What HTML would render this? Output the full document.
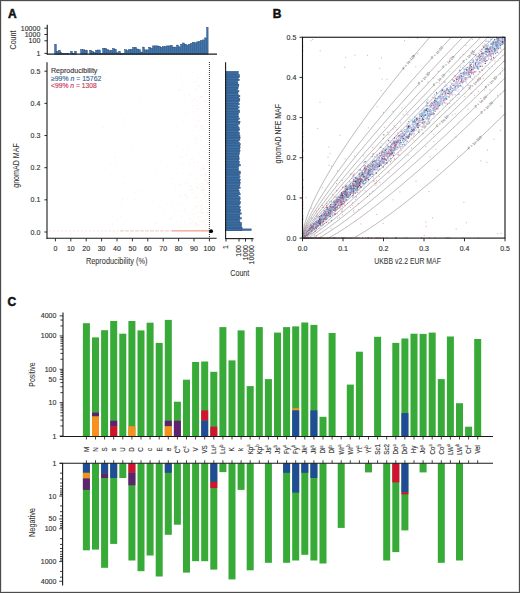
<!DOCTYPE html>
<html><head><meta charset="utf-8"><style>
html,body{margin:0;padding:0;background:#fff;}
svg{display:block;}
text{font-family:"Liberation Sans", sans-serif;}
</style></head><body>
<svg width="520" height="593" viewBox="0 0 520 593" fill="#333">
<rect width="520" height="593" fill="#fff"/>
<text x="7.9" y="17.6" font-size="12" fill="#111" stroke="#111" stroke-width="0.5" font-weight="bold" >A</text>
<text x="272.7" y="18.2" font-size="12" fill="#111" stroke="#111" stroke-width="0.5" font-weight="bold" >B</text>
<text x="7.5" y="306" font-size="12" fill="#111" stroke="#111" stroke-width="0.5" font-weight="bold" >C</text>
<g fill="#3a78b4" stroke="#1b3d6a" stroke-width="0.45">
<rect x="54.7" y="44.4" width="1.6" height="9.7"/>
<rect x="56.7" y="51.3" width="1.6" height="2.8"/>
<rect x="58.7" y="50.2" width="1.6" height="3.9"/>
<rect x="60.7" y="52.6" width="0.6" height="1.5"/>
<rect x="61.7" y="53.3" width="1.6" height="0.8"/>
<rect x="63.7" y="53.4" width="1.6" height="0.7"/>
<rect x="65.7" y="53.3" width="1.6" height="0.8"/>
<rect x="67.7" y="53.4" width="1.6" height="0.7"/>
<rect x="70.7" y="51.3" width="1.6" height="2.8"/>
<rect x="72.7" y="53.3" width="1.6" height="0.8"/>
<rect x="74.7" y="51.2" width="1.6" height="2.9"/>
<rect x="80.7" y="49.7" width="1.6" height="4.4"/>
<rect x="82.7" y="49.7" width="1.6" height="4.4"/>
<rect x="84.7" y="50.2" width="1.6" height="3.9"/>
<rect x="86.7" y="50.2" width="0.6" height="3.9"/>
<rect x="89.7" y="50.2" width="1.6" height="3.9"/>
<rect x="91.7" y="51.3" width="1.6" height="2.8"/>
<rect x="93.7" y="52.5" width="1.6" height="1.6"/>
<rect x="95.7" y="50.2" width="1.6" height="3.9"/>
<rect x="97.7" y="50" width="2.6" height="4.1"/>
<rect x="100.7" y="53.4" width="1.6" height="0.7"/>
<rect x="102.7" y="48.3" width="1.6" height="5.8"/>
<rect x="104.7" y="48.4" width="1.6" height="5.7"/>
<rect x="106.7" y="49.7" width="1.6" height="4.4"/>
<rect x="108.7" y="50.7" width="1.6" height="3.4"/>
<rect x="110.7" y="50.2" width="1.6" height="3.9"/>
<rect x="112.7" y="48.5" width="1.6" height="5.6"/>
<rect x="114.7" y="49.2" width="1.6" height="4.9"/>
<rect x="116.7" y="52.8" width="1.6" height="1.3"/>
<rect x="118.7" y="51.3" width="1.6" height="2.8"/>
<rect x="120.7" y="53.4" width="1.6" height="0.7"/>
<rect x="122.7" y="53.4" width="1.6" height="0.7"/>
<rect x="124.7" y="49.7" width="1.6" height="4.4"/>
<rect x="126.7" y="50.7" width="1.6" height="3.4"/>
<rect x="128.7" y="49.7" width="1.6" height="4.4"/>
<rect x="130.7" y="49.2" width="1.6" height="4.9"/>
<rect x="132.7" y="47.6" width="1.6" height="6.5"/>
<rect x="134.7" y="47.3" width="1.6" height="6.8"/>
<rect x="136.7" y="49" width="1.6" height="5.1"/>
<rect x="138.7" y="49.7" width="1.6" height="4.4"/>
<rect x="140.7" y="52" width="1.6" height="2.1"/>
<rect x="142.7" y="47.1" width="1.6" height="7"/>
<rect x="144.7" y="49.9" width="1.6" height="4.2"/>
<rect x="146.7" y="49.9" width="1.6" height="4.2"/>
<rect x="148.7" y="47.3" width="1.6" height="6.8"/>
<rect x="150.7" y="48.1" width="1.6" height="6"/>
<rect x="152.7" y="45.9" width="1.6" height="8.2"/>
<rect x="154.7" y="45.9" width="1.6" height="8.2"/>
<rect x="156.7" y="45.9" width="1.6" height="8.2"/>
<rect x="158.7" y="46.3" width="1.6" height="7.8"/>
<rect x="160.7" y="47.3" width="1.6" height="6.8"/>
<rect x="162.7" y="46.5" width="1.6" height="7.6"/>
<rect x="164.7" y="46.5" width="1.6" height="7.6"/>
<rect x="166.7" y="45.9" width="1.6" height="8.2"/>
<rect x="168.7" y="45.9" width="1.6" height="8.2"/>
<rect x="170.7" y="45.4" width="1.6" height="8.7"/>
<rect x="172.7" y="47.1" width="1.6" height="7"/>
<rect x="174.7" y="47.1" width="1.6" height="7"/>
<rect x="176.7" y="45.1" width="1.6" height="9"/>
<rect x="178.7" y="46.8" width="1.6" height="7.3"/>
<rect x="180.7" y="44.2" width="1.6" height="9.9"/>
<rect x="182.7" y="43" width="1.6" height="11.1"/>
<rect x="184.7" y="44.3" width="1.6" height="9.8"/>
<rect x="186.7" y="45.1" width="1.6" height="9"/>
<rect x="188.7" y="44.3" width="1.6" height="9.8"/>
<rect x="190.7" y="43.4" width="1.6" height="10.7"/>
<rect x="192.7" y="42.2" width="1.6" height="11.9"/>
<rect x="194.7" y="42.8" width="1.6" height="11.3"/>
<rect x="196.7" y="41.9" width="1.6" height="12.2"/>
<rect x="198.7" y="41.4" width="1.6" height="12.7"/>
<rect x="200.7" y="40.5" width="1.6" height="13.6"/>
<rect x="202.7" y="39.9" width="1.6" height="14.2"/>
<rect x="204.7" y="37.9" width="1.6" height="16.2"/>
<rect x="206.7" y="27.4" width="1.4" height="26.7"/>
</g>
<line x1="47.25" y1="24.8" x2="47.25" y2="54.6" stroke="#1a1a1a" stroke-width="1.1" />
<line x1="46.8" y1="54.1" x2="217" y2="54.1" stroke="#1a1a1a" stroke-width="1.1" />
<line x1="44.4" y1="28.2" x2="47.25" y2="28.2" stroke="#1a1a1a" stroke-width="0.9" />
<text x="40.3" y="30.5" font-size="7" text-anchor="end" stroke="#333" stroke-width="0.14" >10000</text>
<line x1="44.4" y1="34.5" x2="47.25" y2="34.5" stroke="#1a1a1a" stroke-width="0.9" />
<text x="40.3" y="36.8" font-size="7" text-anchor="end" stroke="#333" stroke-width="0.14" >1000</text>
<line x1="44.4" y1="40.8" x2="47.25" y2="40.8" stroke="#1a1a1a" stroke-width="0.9" />
<text x="40.3" y="43.1" font-size="7" text-anchor="end" stroke="#333" stroke-width="0.14" >100</text>
<line x1="44.4" y1="53.4" x2="47.25" y2="53.4" stroke="#1a1a1a" stroke-width="0.9" />
<text x="40.3" y="55.7" font-size="7" text-anchor="end" stroke="#333" stroke-width="0.14" >1</text>
<text x="15.8" y="40" font-size="8.5" text-anchor="middle" stroke="#333" stroke-width="0.08" textLength="19" lengthAdjust="spacingAndGlyphs" transform="rotate(-90 15.8 40)" >Count</text>
<path d="M205.9 220.4h0M202.3 222.7h0M111.4 163.7h0M125.7 131.1h0M197.1 224.5h0M117.2 220.5h0M201.4 216.5h0M123.8 122.6h0M202.2 183.8h0M192.5 192.7h0M181.5 185.7h0M146.7 219.3h0M209.1 109.1h0M200.9 136.4h0M200.9 96.9h0M177.2 127.9h0M206.1 227.3h0M206.8 160.2h0M128.3 169.1h0M196.2 90h0M202.1 187.2h0M191.2 159.5h0M208.3 199.4h0M195 140.9h0M209 149.1h0M207.3 106.6h0M205.3 181.2h0M108.9 224.1h0M117.9 141.5h0M204.9 207.4h0M193.1 72.3h0M138.5 189.4h0M104.1 79.1h0M158.5 74.7h0M195.6 193.5h0M188.7 218.1h0M184.4 94.9h0M157.4 164.8h0M176.3 78.2h0M207.4 73.1h0M122.8 199.1h0M202 96.9h0M172.8 85.7h0M189 222.1h0M197.3 143.2h0M189.9 175.2h0M185 208.5h0M189.3 223.9h0M172.7 147.3h0M206.1 91.8h0M127.5 198.7h0M203 175.1h0M205.8 86.6h0M195.2 205.7h0M187.8 204.3h0M206.2 175.1h0M207.4 214.9h0M209.3 150.4h0M198.2 85.3h0M196.9 120.6h0M198.7 155.1h0M200.5 190.3h0M182.5 196.9h0M127.5 220.2h0M178.8 138.2h0M204.3 168h0M185 182.7h0M202.4 230.4h0M206.7 201.1h0M192.5 221.7h0M130.2 225.6h0M115.6 164.1h0M200.7 140.2h0M107.8 121.3h0M180 185.3h0M206.2 218.9h0M115.5 198.3h0M123.4 215h0M208.7 194.8h0M180.6 228.1h0M189.9 162.5h0M204.3 168.8h0M194.4 98.2h0M173 209.6h0M181.5 157.5h0M195.9 230.2h0M197.9 206.7h0M206.5 117.4h0M197.7 223.7h0M156 223.6h0M104 207.7h0M194.8 126.3h0M200.7 206.5h0M208.6 183.5h0M184.3 114h0M198.6 97.7h0M196.4 138.1h0M105 168.8h0M188.6 131.1h0M193.3 209.9h0M187.4 145.9h0M109.6 189.3h0M181.4 75.1h0M197.7 108.7h0M198.8 230.2h0M186.6 198.9h0M205.3 120.7h0M205.2 179.5h0M202.1 213.4h0M184.6 210.7h0M164.3 209.2h0M177 210.7h0M180.5 194.8h0M207.8 182.8h0M208.6 197.2h0M182.5 168.3h0M199.6 102.9h0M177.7 174h0M191.6 186.1h0M130.2 153.2h0M184.6 101.4h0M181.2 176.6h0M207.7 183h0M152.5 200.8h0M172.3 183.6h0M171.6 206.4h0M180.3 196.6h0M122.3 230.9h0M163 89.3h0M203.9 165.4h0M131.5 203.4h0M189.9 230.6h0M209.3 78.6h0M195.4 207.9h0M180.9 152h0M189.4 94.4h0M157.9 122.3h0M202.7 127.9h0M185.9 194.6h0M204.7 231.3h0M189.7 173.2h0M206.6 196h0M197.7 77.8h0M208.6 229.9h0M174.2 164.5h0M209.2 190.6h0M138 164.4h0M187.5 113.1h0M199.2 117.5h0M204.2 157.1h0M207 185.9h0M201.9 212.7h0M196.5 89.9h0M204.3 190.4h0M179.5 226.9h0M199.7 201.9h0M207 212.1h0M140 99.9h0M205.4 172.1h0M140.9 162.3h0M195.9 138.5h0M182.2 216.2h0M174.9 189.8h0M183.1 84.6h0M199.2 120.5h0M204 184.5h0M202.5 202.6h0M207.5 148.5h0M203.8 193.3h0M105.3 198.1h0M180.9 220.4h0M196 201.9h0M192.7 111.7h0M199.8 212.5h0M204.5 175.9h0M196.9 198.2h0M175 194.8h0M183.1 149.8h0M205.4 225.9h0M206.5 138.2h0M190.1 190.2h0M189.4 215h0M202.3 210.4h0M208.8 171.1h0M135.3 199.3h0M190.9 187h0M198.7 216.4h0M134.8 193.3h0M204.1 93h0M203.4 209.5h0M197.5 166.7h0M201 170.9h0M203.1 217.7h0M132.1 148.2h0M154.5 102.6h0M207.1 75.1h0M201.4 169.6h0M186.3 196.3h0M191.7 223h0M195.7 230.7h0M187.1 225.4h0M209.2 213.1h0M205.5 179.8h0M200.6 126.1h0M206.6 228.3h0M207.3 203.1h0M115.4 181.7h0M170.2 218.8h0M155.9 171.2h0M194 71.8h0M205.8 152.9h0M201.1 205.5h0M204.8 225h0M200.6 208.9h0M202.7 192.6h0M121.2 206.1h0M186.2 213.5h0M182.8 174.1h0M192.2 215.2h0M203.2 168.6h0M205.5 174.1h0M167.3 203.6h0M170.5 73.8h0M201.7 207h0M207.7 162.5h0M172 217.4h0M205.4 195.9h0M204.2 199.2h0M202 228.2h0M193.1 106.2h0M102.8 128.3h0M197.6 81.3h0M199 224.9h0M185.6 230h0M203.7 190.3h0M199 218.1h0M197.5 106.1h0M182.7 157.2h0M208.3 230.6h0M205.5 111.5h0M161.3 161.9h0M191.3 189.3h0M199.9 225.2h0M207.4 158h0M199.4 130.6h0M200.9 74.6h0M197.9 161.7h0M191.3 219h0M205.5 150.9h0M189.6 165.2h0M203.9 119.9h0M192.4 100.5h0M202 221.4h0M123.8 176.6h0M194.8 99.3h0M112.4 216.3h0M206 194.1h0M204.9 180.4h0M187.9 95.1h0M195.4 223h0M194.5 217.4h0M101.7 199.5h0M208.1 153h0M154.9 176.2h0M124.7 119.5h0M170.2 219h0M201.5 174.8h0M186.4 224.2h0M130 87.1h0M151.3 146.5h0M189.6 219.9h0M202.3 125.5h0M202.2 189.7h0M122.3 183.5h0M202.6 231.4h0M197.1 186.4h0M174.4 215.6h0M198.4 104.2h0M201.3 200.5h0M202 213h0M204 130.3h0M166.7 166.9h0M197.1 111.5h0M179.5 90.5h0M201 128.8h0M183.6 163.2h0M197.7 188h0M202.3 166.2h0M201.4 219.8h0M160.2 206.1h0M207 181.9h0M201.6 149.6h0M201.4 183.9h0M203.9 212.3h0M196.7 226h0M208.1 164.4h0M181.5 80.9h0M188 178.4h0M192 130h0M200.2 175.2h0M205.6 100.8h0M191.5 175h0M142.1 191.2h0M209 229h0M204.3 129.5h0M194.4 82.7h0M185.1 202.4h0M102.8 79h0M112.5 225.2h0M199.1 184.2h0M197.4 124.5h0M176.3 146.6h0M183.7 90.1h0M154.8 222.6h0M154.6 151.9h0M208.4 156.8h0M208.2 132.1h0M170.3 179.4h0M196 178.9h0M193.5 226.5h0M208.3 177.6h0M198.9 193.9h0M196.1 213.3h0M202.8 188.3h0M197 126.7h0M164.8 129.9h0M179.5 89.6h0M122.1 83.8h0M205.8 105.1h0M194.7 120h0M197 197.8h0M121.1 226.1h0M203.3 197.1h0M187.5 197.2h0M203.7 128.8h0M114.4 101.7h0M203.4 186.2h0M197.3 74.3h0M203.9 221.1h0M208 212.4h0M195.3 225.6h0M199.3 221.3h0M187.7 183.1h0M193.6 162.2h0M103.2 127.4h0M198.9 205.3h0M203.7 188.9h0M202.6 208.7h0M196.4 182.9h0M201.9 126.4h0M174.6 186.8h0M179.4 155.5h0M183.3 121.9h0M196.8 196.8h0M209.3 137.7h0M206.3 101.5h0M206.8 188h0M202 167.9h0M182.5 205.4h0M193.1 189.8h0M209.2 217.9h0M184.9 194.6h0M186.4 155.4h0M122.3 202.9h0M197.8 187.9h0M163.8 214.9h0M196.3 206.9h0M105.2 72.7h0M195.5 223.3h0M195 108.6h0M123.3 224.2h0M192.6 158.3h0M203.8 221.7h0M203.8 190.6h0M205.2 78.2h0M205.7 201.4h0M199.1 86.8h0M206.8 224.4h0M204.4 169.1h0M208.4 184h0M176.6 231h0M202.3 189.9h0M178.9 203.4h0M205.1 92.6h0M201.7 96.6h0M197.8 177.4h0M125.5 222.9h0M206.7 208.7h0M130.8 185.9h0M201.4 186.5h0M204.7 229.9h0M123.3 173.4h0M207.8 208.5h0M179.9 184.8h0M184.4 223.8h0M148.5 184.1h0M184.7 221.4h0M204.2 222.8h0M204.2 101.5h0M108.7 114.2h0M208.6 178.1h0M204.8 188.7h0M201 210.9h0M141.6 183.5h0M207.5 212.6h0M198.1 149.6h0M209.4 78.6h0M204.5 146.7h0M121.3 216.7h0M176.9 221.8h0M194.7 197.5h0M114.9 152.6h0M114.8 157h0M163.4 183.3h0M180.4 164.4h0M195.7 224.8h0M208.6 74.2h0M196.9 100.9h0M193.6 214.1h0M192.1 202.1h0" stroke="#f08a78" stroke-width="0.8" stroke-linecap="square" stroke-opacity="0.16" fill="none"/>
<g>
<line x1="48.5" y1="230.9" x2="120" y2="230.9" stroke="#e8a090" stroke-width="0.9" stroke-opacity="0.3" stroke-dasharray="2.5,1.5"/>
<line x1="120" y1="230.9" x2="172" y2="230.9" stroke="#ec8a74" stroke-width="0.9" stroke-opacity="0.55" stroke-dasharray="4,1"/>
<line x1="172" y1="230.9" x2="209" y2="230.9" stroke="#ec6f57" stroke-width="1" stroke-opacity="0.85"/>
</g>
<line x1="209.4" y1="62" x2="209.4" y2="238" stroke="#222" stroke-width="0.9" stroke-dasharray="1,1"/>
<circle cx="211.1" cy="231.2" r="1.9" fill="#000"/>
<line x1="47" y1="62.3" x2="47" y2="238.8" stroke="#1a1a1a" stroke-width="1.1" />
<line x1="46.5" y1="238.3" x2="216.6" y2="238.3" stroke="#1a1a1a" stroke-width="1.1" />
<line x1="44.4" y1="232" x2="47" y2="232" stroke="#1a1a1a" stroke-width="0.9" />
<text x="40.3" y="234.5" font-size="7" text-anchor="end" stroke="#333" stroke-width="0.14" >0.0</text>
<line x1="44.4" y1="199.84" x2="47" y2="199.84" stroke="#1a1a1a" stroke-width="0.9" />
<text x="40.3" y="202.34" font-size="7" text-anchor="end" stroke="#333" stroke-width="0.14" >0.1</text>
<line x1="44.4" y1="167.68" x2="47" y2="167.68" stroke="#1a1a1a" stroke-width="0.9" />
<text x="40.3" y="170.18" font-size="7" text-anchor="end" stroke="#333" stroke-width="0.14" >0.2</text>
<line x1="44.4" y1="135.52" x2="47" y2="135.52" stroke="#1a1a1a" stroke-width="0.9" />
<text x="40.3" y="138.02" font-size="7" text-anchor="end" stroke="#333" stroke-width="0.14" >0.3</text>
<line x1="44.4" y1="103.36" x2="47" y2="103.36" stroke="#1a1a1a" stroke-width="0.9" />
<text x="40.3" y="105.86" font-size="7" text-anchor="end" stroke="#333" stroke-width="0.14" >0.4</text>
<line x1="44.4" y1="71.2" x2="47" y2="71.2" stroke="#1a1a1a" stroke-width="0.9" />
<text x="40.3" y="73.7" font-size="7" text-anchor="end" stroke="#333" stroke-width="0.14" >0.5</text>
<line x1="55.4" y1="238.3" x2="55.4" y2="241.4" stroke="#1a1a1a" stroke-width="0.9" />
<text x="55.4" y="251.2" font-size="7" text-anchor="middle" stroke="#333" stroke-width="0.14" >0</text>
<line x1="70.8" y1="238.3" x2="70.8" y2="241.4" stroke="#1a1a1a" stroke-width="0.9" />
<text x="70.8" y="251.2" font-size="7" text-anchor="middle" stroke="#333" stroke-width="0.14" >10</text>
<line x1="86.2" y1="238.3" x2="86.2" y2="241.4" stroke="#1a1a1a" stroke-width="0.9" />
<text x="86.2" y="251.2" font-size="7" text-anchor="middle" stroke="#333" stroke-width="0.14" >20</text>
<line x1="101.6" y1="238.3" x2="101.6" y2="241.4" stroke="#1a1a1a" stroke-width="0.9" />
<text x="101.6" y="251.2" font-size="7" text-anchor="middle" stroke="#333" stroke-width="0.14" >30</text>
<line x1="117" y1="238.3" x2="117" y2="241.4" stroke="#1a1a1a" stroke-width="0.9" />
<text x="117" y="251.2" font-size="7" text-anchor="middle" stroke="#333" stroke-width="0.14" >40</text>
<line x1="132.4" y1="238.3" x2="132.4" y2="241.4" stroke="#1a1a1a" stroke-width="0.9" />
<text x="132.4" y="251.2" font-size="7" text-anchor="middle" stroke="#333" stroke-width="0.14" >50</text>
<line x1="147.8" y1="238.3" x2="147.8" y2="241.4" stroke="#1a1a1a" stroke-width="0.9" />
<text x="147.8" y="251.2" font-size="7" text-anchor="middle" stroke="#333" stroke-width="0.14" >60</text>
<line x1="163.2" y1="238.3" x2="163.2" y2="241.4" stroke="#1a1a1a" stroke-width="0.9" />
<text x="163.2" y="251.2" font-size="7" text-anchor="middle" stroke="#333" stroke-width="0.14" >70</text>
<line x1="178.6" y1="238.3" x2="178.6" y2="241.4" stroke="#1a1a1a" stroke-width="0.9" />
<text x="178.6" y="251.2" font-size="7" text-anchor="middle" stroke="#333" stroke-width="0.14" >80</text>
<line x1="194" y1="238.3" x2="194" y2="241.4" stroke="#1a1a1a" stroke-width="0.9" />
<text x="194" y="251.2" font-size="7" text-anchor="middle" stroke="#333" stroke-width="0.14" >90</text>
<line x1="209.4" y1="238.3" x2="209.4" y2="241.4" stroke="#1a1a1a" stroke-width="0.9" />
<text x="209.4" y="251.2" font-size="7" text-anchor="middle" stroke="#333" stroke-width="0.14" >100</text>
<text x="85.9" y="263.5" font-size="8.7" stroke="#333" stroke-width="0.05" textLength="61.6" lengthAdjust="spacingAndGlyphs" >Reproducibility (%)</text>
<text x="18.9" y="165.5" font-size="8.6" text-anchor="middle" stroke="#333" stroke-width="0.05" textLength="44.6" lengthAdjust="spacingAndGlyphs" transform="rotate(-90 18.9 165.5)" >gnomAD MAF</text>
<text x="51" y="73.4" font-size="7" fill="#3a3a3a" stroke="#3a3a3a" stroke-width="0.14" textLength="46.4" lengthAdjust="spacingAndGlyphs" >Reproducibility</text>
<text x="51" y="80.8" font-size="7" fill="#356594" stroke="#356594" stroke-width="0.14" textLength="50.4" lengthAdjust="spacingAndGlyphs">&#8805;99% <tspan font-style="italic">n</tspan> = 15762</text>
<text x="51" y="88.2" font-size="7" fill="#c7365a" stroke="#c7365a" stroke-width="0.14" textLength="45.8" lengthAdjust="spacingAndGlyphs">&lt;99% <tspan font-style="italic">n</tspan> = 1308</text>
<g fill="#3a78b4" stroke="#1b3d6a" stroke-width="0.45">
<rect x="225.6" y="228.9" width="25.7" height="1.6"/>
<rect x="225.6" y="228.88" width="16.32" height="1.41"/>
<rect x="225.6" y="227.28" width="16.57" height="1.41"/>
<rect x="225.6" y="225.67" width="15.82" height="1.41"/>
<rect x="225.6" y="224.06" width="16.02" height="1.41"/>
<rect x="225.6" y="222.45" width="15.81" height="1.41"/>
<rect x="225.6" y="220.84" width="14.35" height="1.41"/>
<rect x="225.6" y="219.24" width="14.04" height="1.41"/>
<rect x="225.6" y="217.63" width="15.69" height="1.41"/>
<rect x="225.6" y="216.02" width="14.28" height="1.41"/>
<rect x="225.6" y="214.41" width="14.1" height="1.41"/>
<rect x="225.6" y="212.8" width="15.67" height="1.41"/>
<rect x="225.6" y="211.2" width="14.42" height="1.41"/>
<rect x="225.6" y="209.59" width="15.15" height="1.41"/>
<rect x="225.6" y="207.98" width="14.29" height="1.41"/>
<rect x="225.6" y="206.37" width="14.59" height="1.41"/>
<rect x="225.6" y="204.76" width="13.46" height="1.41"/>
<rect x="225.6" y="203.16" width="14.48" height="1.41"/>
<rect x="225.6" y="201.55" width="14.95" height="1.41"/>
<rect x="225.6" y="199.94" width="14.16" height="1.41"/>
<rect x="225.6" y="198.33" width="14.6" height="1.41"/>
<rect x="225.6" y="196.72" width="14.42" height="1.41"/>
<rect x="225.6" y="195.12" width="13.06" height="1.41"/>
<rect x="225.6" y="193.51" width="14.56" height="1.41"/>
<rect x="225.6" y="191.9" width="14.17" height="1.41"/>
<rect x="225.6" y="190.29" width="13.51" height="1.41"/>
<rect x="225.6" y="188.68" width="12.9" height="1.41"/>
<rect x="225.6" y="187.08" width="14.71" height="1.41"/>
<rect x="225.6" y="185.47" width="13.83" height="1.41"/>
<rect x="225.6" y="183.86" width="14.36" height="1.41"/>
<rect x="225.6" y="182.25" width="14.69" height="1.41"/>
<rect x="225.6" y="180.64" width="14.31" height="1.41"/>
<rect x="225.6" y="179.04" width="14.75" height="1.41"/>
<rect x="225.6" y="177.43" width="13.58" height="1.41"/>
<rect x="225.6" y="175.82" width="14.46" height="1.41"/>
<rect x="225.6" y="174.21" width="13.66" height="1.41"/>
<rect x="225.6" y="172.6" width="14.73" height="1.41"/>
<rect x="225.6" y="171" width="14.59" height="1.41"/>
<rect x="225.6" y="169.39" width="12.86" height="1.41"/>
<rect x="225.6" y="167.78" width="12.93" height="1.41"/>
<rect x="225.6" y="166.17" width="13.1" height="1.41"/>
<rect x="225.6" y="164.56" width="14.73" height="1.41"/>
<rect x="225.6" y="162.96" width="13.55" height="1.41"/>
<rect x="225.6" y="161.35" width="13.96" height="1.41"/>
<rect x="225.6" y="159.74" width="13.23" height="1.41"/>
<rect x="225.6" y="158.13" width="13.67" height="1.41"/>
<rect x="225.6" y="156.52" width="13.39" height="1.41"/>
<rect x="225.6" y="154.92" width="13.3" height="1.41"/>
<rect x="225.6" y="153.31" width="13.81" height="1.41"/>
<rect x="225.6" y="151.7" width="13.79" height="1.41"/>
<rect x="225.6" y="150.09" width="14.48" height="1.41"/>
<rect x="225.6" y="148.48" width="13.98" height="1.41"/>
<rect x="225.6" y="146.88" width="14.51" height="1.41"/>
<rect x="225.6" y="145.27" width="14.34" height="1.41"/>
<rect x="225.6" y="143.66" width="14.63" height="1.41"/>
<rect x="225.6" y="142.05" width="13.91" height="1.41"/>
<rect x="225.6" y="140.44" width="12.78" height="1.41"/>
<rect x="225.6" y="138.84" width="14.3" height="1.41"/>
<rect x="225.6" y="137.23" width="14.52" height="1.41"/>
<rect x="225.6" y="135.62" width="14.38" height="1.41"/>
<rect x="225.6" y="134.01" width="13.62" height="1.41"/>
<rect x="225.6" y="132.4" width="13.93" height="1.41"/>
<rect x="225.6" y="130.8" width="12.81" height="1.41"/>
<rect x="225.6" y="129.19" width="14.17" height="1.41"/>
<rect x="225.6" y="127.58" width="13.59" height="1.41"/>
<rect x="225.6" y="125.97" width="12.94" height="1.41"/>
<rect x="225.6" y="124.36" width="12.44" height="1.41"/>
<rect x="225.6" y="122.76" width="14.17" height="1.41"/>
<rect x="225.6" y="121.15" width="14.45" height="1.41"/>
<rect x="225.6" y="119.54" width="12.46" height="1.41"/>
<rect x="225.6" y="117.93" width="14.01" height="1.41"/>
<rect x="225.6" y="116.32" width="13.14" height="1.41"/>
<rect x="225.6" y="114.72" width="12.56" height="1.41"/>
<rect x="225.6" y="113.11" width="12.86" height="1.41"/>
<rect x="225.6" y="111.5" width="13.89" height="1.41"/>
<rect x="225.6" y="109.89" width="14.11" height="1.41"/>
<rect x="225.6" y="108.28" width="12.28" height="1.41"/>
<rect x="225.6" y="106.68" width="13.52" height="1.41"/>
<rect x="225.6" y="105.07" width="12.25" height="1.41"/>
<rect x="225.6" y="103.46" width="13.72" height="1.41"/>
<rect x="225.6" y="101.85" width="12.86" height="1.41"/>
<rect x="225.6" y="100.24" width="14.06" height="1.41"/>
<rect x="225.6" y="98.64" width="14.26" height="1.41"/>
<rect x="225.6" y="97.03" width="13.21" height="1.41"/>
<rect x="225.6" y="95.42" width="14.28" height="1.41"/>
<rect x="225.6" y="93.81" width="12.75" height="1.41"/>
<rect x="225.6" y="92.2" width="12.23" height="1.41"/>
<rect x="225.6" y="90.6" width="13.36" height="1.41"/>
<rect x="225.6" y="88.99" width="12.1" height="1.41"/>
<rect x="225.6" y="87.38" width="12.46" height="1.41"/>
<rect x="225.6" y="85.77" width="12.91" height="1.41"/>
<rect x="225.6" y="84.16" width="13.34" height="1.41"/>
<rect x="225.6" y="82.56" width="12.33" height="1.41"/>
<rect x="225.6" y="80.95" width="12.07" height="1.41"/>
<rect x="225.6" y="79.34" width="13.87" height="1.41"/>
<rect x="225.6" y="77.73" width="12.64" height="1.41"/>
<rect x="225.6" y="76.12" width="14.05" height="1.41"/>
<rect x="225.6" y="74.52" width="13.9" height="1.41"/>
<rect x="225.6" y="72.91" width="12.74" height="1.41"/>
<rect x="225.6" y="71.3" width="12.91" height="1.41"/>
</g>
<line x1="225.6" y1="62.3" x2="225.6" y2="239" stroke="#1a1a1a" stroke-width="1.1" />
<line x1="225.1" y1="238.6" x2="253.6" y2="238.6" stroke="#1a1a1a" stroke-width="1.1" />
<line x1="226" y1="238.6" x2="226" y2="241.6" stroke="#1a1a1a" stroke-width="0.9" />
<text x="228.4" y="245" font-size="7" text-anchor="end" stroke="#333" stroke-width="0.14" transform="rotate(-90 228.4 245)" >1</text>
<line x1="239" y1="238.6" x2="239" y2="241.6" stroke="#1a1a1a" stroke-width="0.9" />
<text x="241.4" y="245" font-size="7" text-anchor="end" stroke="#333" stroke-width="0.14" transform="rotate(-90 241.4 245)" >100</text>
<line x1="245.5" y1="238.6" x2="245.5" y2="241.6" stroke="#1a1a1a" stroke-width="0.9" />
<text x="247.9" y="245" font-size="7" text-anchor="end" stroke="#333" stroke-width="0.14" transform="rotate(-90 247.9 245)" >1000</text>
<line x1="252" y1="238.6" x2="252" y2="241.6" stroke="#1a1a1a" stroke-width="0.9" />
<text x="254.4" y="245" font-size="7" text-anchor="end" stroke="#333" stroke-width="0.14" transform="rotate(-90 254.4 245)" >10000</text>
<text x="230.3" y="275.8" font-size="8.5" stroke="#333" stroke-width="0.08" textLength="19" lengthAdjust="spacingAndGlyphs" >Count</text>
<g fill="none" stroke="#777" stroke-width="0.55">
<polyline points="302.5,238.1 302.51,237.14 302.54,236.42 302.58,235.75 302.63,235.12 302.68,234.51 302.74,233.91 302.81,233.33 302.89,232.75 302.97,232.18 303.05,231.61 303.14,231.05 303.24,230.5 303.34,229.94 303.45,229.39 303.56,228.84 303.67,228.3 303.79,227.75 303.92,227.2 304.05,226.66 304.18,226.11 304.31,225.57 304.45,225.03 304.6,224.48 304.75,223.94 304.9,223.39 305.05,222.85 305.21,222.31 305.37,221.76 305.54,221.21 305.71,220.67 305.88,220.12 306.06,219.57 306.24,219.02 306.42,218.47 306.61,217.92 306.8,217.37 306.99,216.82 307.19,216.27 307.38,215.72 307.59,215.16 307.79,214.61 308,214.05 308.21,213.49 308.42,212.93 308.64,212.37 308.86,211.81 309.08,211.25 309.31,210.69 309.54,210.12 309.77,209.56 310,208.99 310.24,208.42 310.48,207.86 310.72,207.29 310.97,206.71 311.21,206.14 311.46,205.57 311.72,204.99 311.97,204.42 312.23,203.84 312.49,203.26 312.76,202.68 313.02,202.1 313.29,201.52 313.56,200.94 313.83,200.36 314.11,199.77 314.39,199.19 314.67,198.6 314.95,198.01 315.24,197.42 315.53,196.83 315.82,196.24 316.11,195.64 316.41,195.05 316.7,194.45 317,193.85 317.31,193.26 317.61,192.66 317.92,192.06 318.23,191.45 318.54,190.85 318.86,190.25 319.17,189.64 319.49,189.04 319.81,188.43 320.13,187.82 320.46,187.21 320.79,186.6 321.12,185.99 321.45,185.37 321.78,184.76 322.12,184.14 322.46,183.52 322.8,182.91 323.14,182.29 323.49,181.67 323.83,181.04 324.18,180.42 324.54,179.8 324.89,179.17 325.25,178.55 325.6,177.92 325.96,177.29 326.32,176.66 326.69,176.03 327.06,175.4 327.42,174.77 327.79,174.13 328.17,173.5 328.54,172.86 328.92,172.22 329.3,171.58 329.68,170.94 330.06,170.3 330.44,169.66 330.83,169.02 331.22,168.38 331.61,167.73 332,167.08 332.39,166.44 332.79,165.79 333.19,165.14 333.59,164.49 333.99,163.84 334.39,163.19 334.8,162.53 335.21,161.88 335.62,161.22 336.03,160.56 336.44,159.91 336.86,159.25 337.28,158.59 337.7,157.93 338.12,157.27 338.54,156.6 338.97,155.94 339.39,155.27 339.82,154.61 340.25,153.94 340.68,153.27 341.12,152.6 341.55,151.93 341.99,151.26 342.43,150.59 342.87,149.92 343.32,149.24 343.76,148.57 344.21,147.89 344.66,147.22 345.11,146.54 345.56,145.86 346.01,145.18 346.47,144.5 346.93,143.82 347.39,143.14 347.85,142.45 348.31,141.77 348.78,141.08 349.24,140.4 349.71,139.71 350.18,139.02 350.65,138.33 351.13,137.64 351.6,136.95 352.08,136.26 352.56,135.57 353.04,134.87 353.52,134.18 354,133.48 354.49,132.79 354.98,132.09 355.47,131.39 355.96,130.69 356.45,129.99 356.94,129.29 357.44,128.59 357.94,127.89 358.44,127.18 358.94,126.48 359.44,125.77 359.94,125.07 360.45,124.36 360.96,123.65 361.47,122.94 361.98,122.23 362.49,121.52 363,120.81 363.52,120.1 364.04,119.39 364.56,118.67 365.08,117.96 365.6,117.24 366.12,116.53 366.65,115.81 367.18,115.09 367.7,114.37 368.23,113.65 368.77,112.93 369.3,112.21 369.84,111.49 370.37,110.77 370.91,110.04 371.45,109.32 371.99,108.59 372.54,107.87 373.08,107.14 373.63,106.41 374.17,105.69 374.72,104.96 375.27,104.23 375.83,103.5 376.38,102.77 376.94,102.03 377.49,101.3 378.05,100.57 378.61,99.83 379.18,99.1 379.74,98.36 380.3,97.63 380.87,96.89 381.44,96.15 382.01,95.41 382.58,94.68 383.15,93.94 383.73,93.19 384.3,92.45 384.88,91.71 385.46,90.97 386.04,90.23 386.62,89.48 387.21,88.74 387.79,87.99 388.38,87.24 388.96,86.5 389.55,85.75 390.14,85 390.74,84.25 391.33,83.5 391.93,82.75 392.52,82 393.12,81.25 393.72,80.5 394.32,79.75 394.93,78.99 395.53,78.24 396.14,77.48 396.74,76.73 397.35,75.97 397.96,75.22 398.57,74.46 399.19,73.7 399.8,72.94 400.42,72.18 401.04,71.42 401.65,70.66 402.28,69.9 402.9,69.14 403.52,68.38 404.15,67.62 404.77,66.85 405.4,66.09 406.03,65.32 406.66,64.56 407.29,63.79 407.92,63.03 408.56,62.26 409.2,61.49 409.83,60.73 410.47,59.96 411.11,59.19 411.75,58.42 412.4,57.65 413.04,56.88 413.69,56.11 414.34,55.34 414.99,54.56 415.64,53.79 416.29,53.02 416.94,52.25 417.6,51.47 418.25,50.7 418.91,49.92 419.57,49.15 420.23,48.37 420.89,47.59 421.55,46.82 422.22,46.04 422.88,45.26 423.55,44.48 424.22,43.7 424.89,42.92 425.56,42.14 426.23,41.36 426.91,40.58 427.58,39.8 428.26,39.02 428.94,38.24 429.62,37.45 429.79,37.25"/>
<polyline points="302.5,238.1 354,237.87 354.49,237.59 354.98,237.31 355.47,237.03 355.96,236.75 356.45,236.46 356.94,236.17 357.44,235.88 357.94,235.58 358.44,235.29 358.94,234.99 359.44,234.68 359.94,234.38 360.45,234.07 360.96,233.76 361.47,233.45 361.98,233.14 362.49,232.82 363,232.5 363.52,232.18 364.04,231.86 364.56,231.53 365.08,231.21 365.6,230.87 366.12,230.54 366.65,230.21 367.18,229.87 367.7,229.53 368.23,229.19 368.77,228.84 369.3,228.49 369.84,228.15 370.37,227.79 370.91,227.44 371.45,227.08 371.99,226.72 372.54,226.36 373.08,226 373.63,225.63 374.17,225.27 374.72,224.9 375.27,224.52 375.83,224.15 376.38,223.77 376.94,223.39 377.49,223.01 378.05,222.63 378.61,222.24 379.18,221.85 379.74,221.46 380.3,221.07 380.87,220.67 381.44,220.27 382.01,219.87 382.58,219.47 383.15,219.06 383.73,218.66 384.3,218.25 384.88,217.84 385.46,217.42 386.04,217.01 386.62,216.59 387.21,216.17 387.79,215.74 388.38,215.32 388.96,214.89 389.55,214.46 390.14,214.03 390.74,213.59 391.33,213.16 391.93,212.72 392.52,212.28 393.12,211.83 393.72,211.39 394.32,210.94 394.93,210.49 395.53,210.04 396.14,209.58 396.74,209.13 397.35,208.67 397.96,208.2 398.57,207.74 399.19,207.27 399.8,206.81 400.42,206.34 401.04,205.86 401.65,205.39 402.28,204.91 402.9,204.43 403.52,203.95 404.15,203.47 404.77,202.98 405.4,202.49 406.03,202 406.66,201.51 407.29,201.01 407.92,200.52 408.56,200.02 409.2,199.52 409.83,199.01 410.47,198.5 411.11,198 411.75,197.49 412.4,196.97 413.04,196.46 413.69,195.94 414.34,195.42 414.99,194.9 415.64,194.37 416.29,193.85 416.94,193.32 417.6,192.79 418.25,192.26 418.91,191.72 419.57,191.18 420.23,190.64 420.89,190.1 421.55,189.56 422.22,189.01 422.88,188.46 423.55,187.91 424.22,187.36 424.89,186.8 425.56,186.25 426.23,185.69 426.91,185.13 427.58,184.56 428.26,184 428.94,183.43 429.62,182.86 430.3,182.28 430.98,181.71 431.66,181.13 432.35,180.55 433.03,179.97 433.72,179.39 434.41,178.8 435.1,178.21 435.79,177.62 436.49,177.03 437.18,176.43 437.88,175.83 438.57,175.23 439.27,174.63 439.97,174.03 440.67,173.42 441.38,172.81 442.08,172.2 442.79,171.59 443.49,170.97 444.2,170.36 444.91,169.74 445.62,169.11 446.33,168.49 447.04,167.86 447.76,167.24 448.47,166.6 449.19,165.97 449.91,165.34 450.63,164.7 451.35,164.06 452.07,163.42 452.8,162.77 453.52,162.12 454.25,161.48 454.98,160.82 455.7,160.17 456.43,159.52 457.17,158.86 457.9,158.2 458.63,157.53 459.37,156.87 460.11,156.2 460.84,155.53 461.58,154.86 462.32,154.19 463.06,153.51 463.81,152.83 464.55,152.15 465.3,151.47 466.05,150.78 466.79,150.1 467.54,149.41 468.29,148.72 469.05,148.02 469.8,147.32 470.55,146.63 471.31,145.92 472.07,145.22 472.83,144.52 473.59,143.81 474.35,143.1 475.11,142.38 475.87,141.67 476.64,140.95 477.4,140.23 478.17,139.51 478.94,138.79 479.71,138.06 480.48,137.33 481.25,136.6 482.03,135.87 482.8,135.13 483.58,134.39 484.35,133.65 485.13,132.91 485.91,132.16 486.69,131.42 487.48,130.67 488.26,129.92 489.04,129.16 489.83,128.4 490.62,127.65 491.41,126.88 492.2,126.12 492.99,125.35 493.78,124.58 494.57,123.81 495.37,123.04 496.16,122.26 496.96,121.49 497.76,120.71 498.56,119.92 499.36,119.14 500.16,118.35 500.97,117.56 501.77,116.77 502.58,115.97 503.38,115.17 504.19,114.38 505,113.57"/>
<polyline points="302.5,238.1 302.51,237.44 302.54,236.93 302.58,236.46 302.63,236.01 302.68,235.57 302.74,235.14 302.81,234.72 302.89,234.3 302.97,233.88 303.05,233.47 303.14,233.06 303.24,232.64 303.34,232.23 303.45,231.82 303.56,231.41 303.67,231 303.79,230.58 303.92,230.17 304.05,229.76 304.18,229.34 304.31,228.92 304.45,228.51 304.6,228.09 304.75,227.67 304.9,227.25 305.05,226.82 305.21,226.4 305.37,225.98 305.54,225.55 305.71,225.12 305.88,224.69 306.06,224.26 306.24,223.83 306.42,223.39 306.61,222.96 306.8,222.52 306.99,222.08 307.19,221.64 307.38,221.2 307.59,220.75 307.79,220.31 308,219.86 308.21,219.41 308.42,218.96 308.64,218.51 308.86,218.06 309.08,217.6 309.31,217.14 309.54,216.68 309.77,216.22 310,215.76 310.24,215.3 310.48,214.83 310.72,214.37 310.97,213.9 311.21,213.43 311.46,212.96 311.72,212.48 311.97,212.01 312.23,211.53 312.49,211.05 312.76,210.57 313.02,210.09 313.29,209.61 313.56,209.12 313.83,208.64 314.11,208.15 314.39,207.66 314.67,207.17 314.95,206.68 315.24,206.18 315.53,205.69 315.82,205.19 316.11,204.69 316.41,204.19 316.7,203.69 317,203.19 317.31,202.68 317.61,202.17 317.92,201.67 318.23,201.16 318.54,200.64 318.86,200.13 319.17,199.62 319.49,199.1 319.81,198.58 320.13,198.07 320.46,197.55 320.79,197.02 321.12,196.5 321.45,195.98 321.78,195.45 322.12,194.92 322.46,194.39 322.8,193.86 323.14,193.33 323.49,192.8 323.83,192.26 324.18,191.72 324.54,191.19 324.89,190.65 325.25,190.11 325.6,189.56 325.96,189.02 326.32,188.48 326.69,187.93 327.06,187.38 327.42,186.83 327.79,186.28 328.17,185.73 328.54,185.18 328.92,184.62 329.3,184.07 329.68,183.51 330.06,182.95 330.44,182.39 330.83,181.83 331.22,181.26 331.61,180.7 332,180.13 332.39,179.57 332.79,179 333.19,178.43 333.59,177.86 333.99,177.28 334.39,176.71 334.8,176.14 335.21,175.56 335.62,174.98 336.03,174.4 336.44,173.82 336.86,173.24 337.28,172.66 337.7,172.07 338.12,171.49 338.54,170.9 338.97,170.31 339.39,169.72 339.82,169.13 340.25,168.54 340.68,167.95 341.12,167.35 341.55,166.76 341.99,166.16 342.43,165.56 342.87,164.96 343.32,164.36 343.76,163.76 344.21,163.16 344.66,162.55 345.11,161.95 345.56,161.34 346.01,160.73 346.47,160.12 346.93,159.51 347.39,158.9 347.85,158.29 348.31,157.67 348.78,157.06 349.24,156.44 349.71,155.82 350.18,155.2 350.65,154.58 351.13,153.96 351.6,153.34 352.08,152.72 352.56,152.09 353.04,151.47 353.52,150.84 354,150.21 354.49,149.58 354.98,148.95 355.47,148.32 355.96,147.69 356.45,147.05 356.94,146.42 357.44,145.78 357.94,145.14 358.44,144.51 358.94,143.87 359.44,143.23 359.94,142.58 360.45,141.94 360.96,141.3 361.47,140.65 361.98,140.01 362.49,139.36 363,138.71 363.52,138.06 364.04,137.41 364.56,136.76 365.08,136.11 365.6,135.45 366.12,134.8 366.65,134.14 367.18,133.49 367.7,132.83 368.23,132.17 368.77,131.51 369.3,130.85 369.84,130.18 370.37,129.52 370.91,128.86 371.45,128.19 371.99,127.53 372.54,126.86 373.08,126.19 373.63,125.52 374.17,124.85 374.72,124.18 375.27,123.51 375.83,122.83 376.38,122.16 376.94,121.48 377.49,120.81 378.05,120.13 378.61,119.45 379.18,118.77 379.74,118.09 380.3,117.41 380.87,116.73 381.44,116.04 382.01,115.36 382.58,114.67 383.15,113.99 383.73,113.3 384.3,112.61 384.88,111.92 385.46,111.23 386.04,110.54 386.62,109.85 387.21,109.16 387.79,108.46 388.38,107.77 388.96,107.07 389.55,106.38 390.14,105.68 390.74,104.98 391.33,104.28 391.93,103.58 392.52,102.88 393.12,102.18 393.72,101.47 394.32,100.77 394.93,100.07 395.53,99.36 396.14,98.65 396.74,97.95 397.35,97.24 397.96,96.53 398.57,95.82 399.19,95.11 399.8,94.4 400.42,93.68 401.04,92.97 401.65,92.25 402.28,91.54 402.9,90.82 403.52,90.11 404.15,89.39 404.77,88.67 405.4,87.95 406.03,87.23 406.66,86.51 407.29,85.78 407.92,85.06 408.56,84.34 409.2,83.61 409.83,82.89 410.47,82.16 411.11,81.43 411.75,80.71 412.4,79.98 413.04,79.25 413.69,78.52 414.34,77.79 414.99,77.05 415.64,76.32 416.29,75.59 416.94,74.85 417.6,74.12 418.25,73.38 418.91,72.65 419.57,71.91 420.23,71.17 420.89,70.43 421.55,69.69 422.22,68.95 422.88,68.21 423.55,67.47 424.22,66.72 424.89,65.98 425.56,65.24 426.23,64.49 426.91,63.75 427.58,63 428.26,62.25 428.94,61.5 429.62,60.76 430.3,60.01 430.98,59.26 431.66,58.5 432.35,57.75 433.03,57 433.72,56.25 434.41,55.49 435.1,54.74 435.79,53.98 436.49,53.23 437.18,52.47 437.88,51.71 438.57,50.96 439.27,50.2 439.97,49.44 440.67,48.68 441.38,47.92 442.08,47.16 442.79,46.4 443.49,45.63 444.2,44.87 444.91,44.11 445.62,43.34 446.33,42.58 447.04,41.81 447.76,41.04 448.47,40.28 449.19,39.51 449.91,38.74 450.63,37.97 451.31,37.25"/>
<polyline points="302.5,238.1 328.54,238.01 328.92,237.81 329.3,237.61 329.68,237.4 330.06,237.19 330.44,236.98 330.83,236.77 331.22,236.55 331.61,236.33 332,236.11 332.39,235.89 332.79,235.66 333.19,235.43 333.59,235.2 333.99,234.97 334.39,234.73 334.8,234.49 335.21,234.25 335.62,234.01 336.03,233.76 336.44,233.51 336.86,233.26 337.28,233.01 337.7,232.75 338.12,232.49 338.54,232.23 338.97,231.97 339.39,231.7 339.82,231.44 340.25,231.17 340.68,230.89 341.12,230.62 341.55,230.34 341.99,230.06 342.43,229.78 342.87,229.5 343.32,229.21 343.76,228.92 344.21,228.63 344.66,228.33 345.11,228.04 345.56,227.74 346.01,227.44 346.47,227.14 346.93,226.83 347.39,226.52 347.85,226.21 348.31,225.9 348.78,225.59 349.24,225.27 349.71,224.95 350.18,224.63 350.65,224.31 351.13,223.98 351.6,223.65 352.08,223.32 352.56,222.99 353.04,222.65 353.52,222.32 354,221.98 354.49,221.64 354.98,221.29 355.47,220.95 355.96,220.6 356.45,220.25 356.94,219.9 357.44,219.54 357.94,219.19 358.44,218.83 358.94,218.47 359.44,218.1 359.94,217.74 360.45,217.37 360.96,217 361.47,216.63 361.98,216.25 362.49,215.88 363,215.5 363.52,215.12 364.04,214.74 364.56,214.35 365.08,213.96 365.6,213.57 366.12,213.18 366.65,212.79 367.18,212.39 367.7,212 368.23,211.6 368.77,211.2 369.3,210.79 369.84,210.39 370.37,209.98 370.91,209.57 371.45,209.15 371.99,208.74 372.54,208.32 373.08,207.9 373.63,207.48 374.17,207.06 374.72,206.64 375.27,206.21 375.83,205.78 376.38,205.35 376.94,204.92 377.49,204.48 378.05,204.04 378.61,203.6 379.18,203.16 379.74,202.72 380.3,202.27 380.87,201.83 381.44,201.38 382.01,200.92 382.58,200.47 383.15,200.01 383.73,199.56 384.3,199.1 384.88,198.63 385.46,198.17 386.04,197.7 386.62,197.24 387.21,196.77 387.79,196.29 388.38,195.82 388.96,195.34 389.55,194.87 390.14,194.38 390.74,193.9 391.33,193.42 391.93,192.93 392.52,192.44 393.12,191.95 393.72,191.46 394.32,190.97 394.93,190.47 395.53,189.97 396.14,189.47 396.74,188.97 397.35,188.46 397.96,187.96 398.57,187.45 399.19,186.94 399.8,186.43 400.42,185.91 401.04,185.4 401.65,184.88 402.28,184.36 402.9,183.83 403.52,183.31 404.15,182.78 404.77,182.26 405.4,181.73 406.03,181.19 406.66,180.66 407.29,180.12 407.92,179.58 408.56,179.04 409.2,178.5 409.83,177.96 410.47,177.41 411.11,176.86 411.75,176.31 412.4,175.76 413.04,175.21 413.69,174.65 414.34,174.09 414.99,173.53 415.64,172.97 416.29,172.41 416.94,171.84 417.6,171.27 418.25,170.7 418.91,170.13 419.57,169.56 420.23,168.98 420.89,168.41 421.55,167.83 422.22,167.25 422.88,166.66 423.55,166.08 424.22,165.49 424.89,164.9 425.56,164.31 426.23,163.72 426.91,163.12 427.58,162.52 428.26,161.92 428.94,161.32 429.62,160.72 430.3,160.11 430.98,159.51 431.66,158.9 432.35,158.29 433.03,157.68 433.72,157.06 434.41,156.44 435.1,155.83 435.79,155.2 436.49,154.58 437.18,153.96 437.88,153.33 438.57,152.7 439.27,152.07 439.97,151.44 440.67,150.81 441.38,150.17 442.08,149.53 442.79,148.89 443.49,148.25 444.2,147.61 444.91,146.96 445.62,146.31 446.33,145.66 447.04,145.01 447.76,144.36 448.47,143.7 449.19,143.04 449.91,142.38 450.63,141.72 451.35,141.06 452.07,140.39 452.8,139.73 453.52,139.06 454.25,138.39 454.98,137.71 455.7,137.04 456.43,136.36 457.17,135.68 457.9,135 458.63,134.32 459.37,133.63 460.11,132.95 460.84,132.26 461.58,131.57 462.32,130.87 463.06,130.18 463.81,129.48 464.55,128.78 465.3,128.08 466.05,127.38 466.79,126.67 467.54,125.97 468.29,125.26 469.05,124.55 469.8,123.84 470.55,123.12 471.31,122.41 472.07,121.69 472.83,120.97 473.59,120.25 474.35,119.52 475.11,118.79 475.87,118.07 476.64,117.34 477.4,116.6 478.17,115.87 478.94,115.13 479.71,114.4 480.48,113.66 481.25,112.91 482.03,112.17 482.8,111.42 483.58,110.68 484.35,109.93 485.13,109.17 485.91,108.42 486.69,107.66 487.48,106.91 488.26,106.15 489.04,105.38 489.83,104.62 490.62,103.85 491.41,103.09 492.2,102.32 492.99,101.54 493.78,100.77 494.57,99.99 495.37,99.22 496.16,98.44 496.96,97.65 497.76,96.87 498.56,96.08 499.36,95.3 500.16,94.51 500.97,93.71 501.77,92.92 502.58,92.12 503.38,91.32 504.19,90.52 505,89.72"/>
<polyline points="302.5,238.1 302.51,237.58 302.54,237.19 302.58,236.81 302.63,236.45 302.68,236.1 302.74,235.76 302.81,235.41 302.89,235.07 302.97,234.73 303.05,234.39 303.14,234.05 303.24,233.71 303.34,233.37 303.45,233.02 303.56,232.68 303.67,232.34 303.79,231.99 303.92,231.64 304.05,231.29 304.18,230.94 304.31,230.59 304.45,230.23 304.6,229.88 304.75,229.52 304.9,229.16 305.05,228.8 305.21,228.43 305.37,228.07 305.54,227.7 305.71,227.33 305.88,226.96 306.06,226.58 306.24,226.21 306.42,225.83 306.61,225.45 306.8,225.07 306.99,224.69 307.19,224.3 307.38,223.92 307.59,223.53 307.79,223.14 308,222.74 308.21,222.35 308.42,221.95 308.64,221.55 308.86,221.15 309.08,220.75 309.31,220.35 309.54,219.94 309.77,219.53 310,219.12 310.24,218.71 310.48,218.29 310.72,217.88 310.97,217.46 311.21,217.04 311.46,216.62 311.72,216.2 311.97,215.77 312.23,215.35 312.49,214.92 312.76,214.49 313.02,214.05 313.29,213.62 313.56,213.18 313.83,212.75 314.11,212.31 314.39,211.86 314.67,211.42 314.95,210.98 315.24,210.53 315.53,210.08 315.82,209.63 316.11,209.18 316.41,208.73 316.7,208.27 317,207.81 317.31,207.35 317.61,206.89 317.92,206.43 318.23,205.97 318.54,205.5 318.86,205.03 319.17,204.57 319.49,204.09 319.81,203.62 320.13,203.15 320.46,202.67 320.79,202.2 321.12,201.72 321.45,201.24 321.78,200.75 322.12,200.27 322.46,199.78 322.8,199.3 323.14,198.81 323.49,198.32 323.83,197.83 324.18,197.33 324.54,196.84 324.89,196.34 325.25,195.84 325.6,195.34 325.96,194.84 326.32,194.34 326.69,193.83 327.06,193.33 327.42,192.82 327.79,192.31 328.17,191.8 328.54,191.29 328.92,190.77 329.3,190.26 329.68,189.74 330.06,189.22 330.44,188.7 330.83,188.18 331.22,187.66 331.61,187.13 332,186.61 332.39,186.08 332.79,185.55 333.19,185.02 333.59,184.49 333.99,183.95 334.39,183.42 334.8,182.88 335.21,182.34 335.62,181.81 336.03,181.26 336.44,180.72 336.86,180.18 337.28,179.63 337.7,179.09 338.12,178.54 338.54,177.99 338.97,177.44 339.39,176.89 339.82,176.34 340.25,175.78 340.68,175.22 341.12,174.67 341.55,174.11 341.99,173.55 342.43,172.99 342.87,172.42 343.32,171.86 343.76,171.29 344.21,170.73 344.66,170.16 345.11,169.59 345.56,169.02 346.01,168.44 346.47,167.87 346.93,167.29 347.39,166.72 347.85,166.14 348.31,165.56 348.78,164.98 349.24,164.4 349.71,163.82 350.18,163.23 350.65,162.64 351.13,162.06 351.6,161.47 352.08,160.88 352.56,160.29 353.04,159.7 353.52,159.1 354,158.51 354.49,157.91 354.98,157.32 355.47,156.72 355.96,156.12 356.45,155.52 356.94,154.91 357.44,154.31 357.94,153.7 358.44,153.1 358.94,152.49 359.44,151.88 359.94,151.27 360.45,150.66 360.96,150.05 361.47,149.44 361.98,148.82 362.49,148.21 363,147.59 363.52,146.97 364.04,146.35 364.56,145.73 365.08,145.11 365.6,144.49 366.12,143.86 366.65,143.24 367.18,142.61 367.7,141.98 368.23,141.35 368.77,140.72 369.3,140.09 369.84,139.46 370.37,138.82 370.91,138.19 371.45,137.55 371.99,136.92 372.54,136.28 373.08,135.64 373.63,135 374.17,134.36 374.72,133.71 375.27,133.07 375.83,132.42 376.38,131.78 376.94,131.13 377.49,130.48 378.05,129.83 378.61,129.18 379.18,128.53 379.74,127.88 380.3,127.22 380.87,126.57 381.44,125.91 382.01,125.25 382.58,124.59 383.15,123.93 383.73,123.27 384.3,122.61 384.88,121.95 385.46,121.29 386.04,120.62 386.62,119.95 387.21,119.29 387.79,118.62 388.38,117.95 388.96,117.28 389.55,116.61 390.14,115.94 390.74,115.26 391.33,114.59 391.93,113.91 392.52,113.24 393.12,112.56 393.72,111.88 394.32,111.2 394.93,110.52 395.53,109.84 396.14,109.15 396.74,108.47 397.35,107.79 397.96,107.1 398.57,106.41 399.19,105.72 399.8,105.04 400.42,104.35 401.04,103.65 401.65,102.96 402.28,102.27 402.9,101.58 403.52,100.88 404.15,100.19 404.77,99.49 405.4,98.79 406.03,98.09 406.66,97.39 407.29,96.69 407.92,95.99 408.56,95.29 409.2,94.58 409.83,93.88 410.47,93.17 411.11,92.47 411.75,91.76 412.4,91.05 413.04,90.34 413.69,89.63 414.34,88.92 414.99,88.21 415.64,87.5 416.29,86.78 416.94,86.07 417.6,85.35 418.25,84.63 418.91,83.92 419.57,83.2 420.23,82.48 420.89,81.76 421.55,81.04 422.22,80.32 422.88,79.59 423.55,78.87 424.22,78.14 424.89,77.42 425.56,76.69 426.23,75.96 426.91,75.24 427.58,74.51 428.26,73.78 428.94,73.04 429.62,72.31 430.3,71.58 430.98,70.85 431.66,70.11 432.35,69.38 433.03,68.64 433.72,67.9 434.41,67.17 435.1,66.43 435.79,65.69 436.49,64.95 437.18,64.21 437.88,63.46 438.57,62.72 439.27,61.98 439.97,61.23 440.67,60.49 441.38,59.74 442.08,58.99 442.79,58.25 443.49,57.5 444.2,56.75 444.91,56 445.62,55.25 446.33,54.49 447.04,53.74 447.76,52.99 448.47,52.23 449.19,51.48 449.91,50.72 450.63,49.97 451.35,49.21 452.07,48.45 452.8,47.69 453.52,46.93 454.25,46.17 454.98,45.41 455.7,44.65 456.43,43.89 457.17,43.12 457.9,42.36 458.63,41.59 459.37,40.83 460.11,40.06 460.84,39.3 461.58,38.53 462.32,37.76 462.81,37.25"/>
<polyline points="302.5,238.1 318.54,238.04 318.86,237.88 319.17,237.71 319.49,237.54 319.81,237.37 320.13,237.2 320.46,237.02 320.79,236.84 321.12,236.66 321.45,236.47 321.78,236.28 322.12,236.09 322.46,235.9 322.8,235.7 323.14,235.5 323.49,235.3 323.83,235.1 324.18,234.89 324.54,234.68 324.89,234.47 325.25,234.25 325.6,234.04 325.96,233.82 326.32,233.6 326.69,233.37 327.06,233.14 327.42,232.91 327.79,232.68 328.17,232.45 328.54,232.21 328.92,231.97 329.3,231.73 329.68,231.48 330.06,231.24 330.44,230.99 330.83,230.73 331.22,230.48 331.61,230.22 332,229.96 332.39,229.7 332.79,229.44 333.19,229.17 333.59,228.9 333.99,228.63 334.39,228.36 334.8,228.08 335.21,227.81 335.62,227.52 336.03,227.24 336.44,226.96 336.86,226.67 337.28,226.38 337.7,226.09 338.12,225.79 338.54,225.5 338.97,225.2 339.39,224.9 339.82,224.59 340.25,224.29 340.68,223.98 341.12,223.67 341.55,223.36 341.99,223.04 342.43,222.73 342.87,222.41 343.32,222.09 343.76,221.76 344.21,221.44 344.66,221.11 345.11,220.78 345.56,220.45 346.01,220.11 346.47,219.77 346.93,219.44 347.39,219.1 347.85,218.75 348.31,218.41 348.78,218.06 349.24,217.71 349.71,217.36 350.18,217 350.65,216.65 351.13,216.29 351.6,215.93 352.08,215.57 352.56,215.2 353.04,214.84 353.52,214.47 354,214.1 354.49,213.72 354.98,213.35 355.47,212.97 355.96,212.59 356.45,212.21 356.94,211.83 357.44,211.44 357.94,211.05 358.44,210.66 358.94,210.27 359.44,209.88 359.94,209.48 360.45,209.08 360.96,208.69 361.47,208.28 361.98,207.88 362.49,207.47 363,207.06 363.52,206.65 364.04,206.24 364.56,205.83 365.08,205.41 365.6,204.99 366.12,204.57 366.65,204.15 367.18,203.73 367.7,203.3 368.23,202.87 368.77,202.44 369.3,202.01 369.84,201.58 370.37,201.14 370.91,200.7 371.45,200.26 371.99,199.82 372.54,199.38 373.08,198.93 373.63,198.48 374.17,198.03 374.72,197.58 375.27,197.13 375.83,196.67 376.38,196.21 376.94,195.75 377.49,195.29 378.05,194.83 378.61,194.36 379.18,193.89 379.74,193.42 380.3,192.95 380.87,192.48 381.44,192 382.01,191.53 382.58,191.05 383.15,190.57 383.73,190.08 384.3,189.6 384.88,189.11 385.46,188.62 386.04,188.13 386.62,187.64 387.21,187.14 387.79,186.65 388.38,186.15 388.96,185.65 389.55,185.15 390.14,184.64 390.74,184.14 391.33,183.63 391.93,183.12 392.52,182.61 393.12,182.09 393.72,181.58 394.32,181.06 394.93,180.54 395.53,180.02 396.14,179.5 396.74,178.97 397.35,178.44 397.96,177.92 398.57,177.39 399.19,176.85 399.8,176.32 400.42,175.78 401.04,175.24 401.65,174.7 402.28,174.16 402.9,173.62 403.52,173.07 404.15,172.53 404.77,171.98 405.4,171.43 406.03,170.87 406.66,170.32 407.29,169.76 407.92,169.2 408.56,168.64 409.2,168.08 409.83,167.52 410.47,166.95 411.11,166.38 411.75,165.81 412.4,165.24 413.04,164.67 413.69,164.09 414.34,163.52 414.99,162.94 415.64,162.36 416.29,161.77 416.94,161.19 417.6,160.6 418.25,160.02 418.91,159.43 419.57,158.83 420.23,158.24 420.89,157.65 421.55,157.05 422.22,156.45 422.88,155.85 423.55,155.25 424.22,154.64 424.89,154.03 425.56,153.43 426.23,152.82 426.91,152.21 427.58,151.59 428.26,150.98 428.94,150.36 429.62,149.74 430.3,149.12 430.98,148.5 431.66,147.87 432.35,147.25 433.03,146.62 433.72,145.99 434.41,145.36 435.1,144.72 435.79,144.09 436.49,143.45 437.18,142.81 437.88,142.17 438.57,141.53 439.27,140.88 439.97,140.24 440.67,139.59 441.38,138.94 442.08,138.29 442.79,137.63 443.49,136.98 444.2,136.32 444.91,135.66 445.62,135 446.33,134.34 447.04,133.68 447.76,133.01 448.47,132.34 449.19,131.67 449.91,131 450.63,130.33 451.35,129.65 452.07,128.97 452.8,128.3 453.52,127.62 454.25,126.93 454.98,126.25 455.7,125.56 456.43,124.88 457.17,124.19 457.9,123.49 458.63,122.8 459.37,122.11 460.11,121.41 460.84,120.71 461.58,120.01 462.32,119.31 463.06,118.6 463.81,117.9 464.55,117.19 465.3,116.48 466.05,115.77 466.79,115.06 467.54,114.34 468.29,113.63 469.05,112.91 469.8,112.19 470.55,111.46 471.31,110.74 472.07,110.02 472.83,109.29 473.59,108.56 474.35,107.83 475.11,107.09 475.87,106.36 476.64,105.62 477.4,104.88 478.17,104.14 478.94,103.4 479.71,102.66 480.48,101.91 481.25,101.17 482.03,100.42 482.8,99.67 483.58,98.91 484.35,98.16 485.13,97.4 485.91,96.64 486.69,95.88 487.48,95.12 488.26,94.36 489.04,93.59 489.83,92.82 490.62,92.05 491.41,91.28 492.2,90.51 492.99,89.74 493.78,88.96 494.57,88.18 495.37,87.4 496.16,86.62 496.96,85.83 497.76,85.05 498.56,84.26 499.36,83.47 500.16,82.68 500.97,81.89 501.77,81.09 502.58,80.29 503.38,79.5 504.19,78.69 505,77.89"/>
<polyline points="302.5,238.1 302.51,237.7 302.54,237.39 302.58,237.1 302.63,236.81 302.68,236.53 302.74,236.25 302.81,235.97 302.89,235.69 302.97,235.41 303.05,235.13 303.14,234.85 303.24,234.57 303.34,234.28 303.45,233.99 303.56,233.71 303.67,233.42 303.79,233.12 303.92,232.83 304.05,232.53 304.18,232.23 304.31,231.93 304.45,231.62 304.6,231.32 304.75,231.01 304.9,230.7 305.05,230.39 305.21,230.07 305.37,229.75 305.54,229.43 305.71,229.11 305.88,228.79 306.06,228.46 306.24,228.13 306.42,227.8 306.61,227.46 306.8,227.13 306.99,226.79 307.19,226.45 307.38,226.11 307.59,225.76 307.79,225.42 308,225.07 308.21,224.72 308.42,224.36 308.64,224.01 308.86,223.65 309.08,223.29 309.31,222.93 309.54,222.56 309.77,222.2 310,221.83 310.24,221.46 310.48,221.09 310.72,220.71 310.97,220.33 311.21,219.96 311.46,219.58 311.72,219.19 311.97,218.81 312.23,218.42 312.49,218.03 312.76,217.64 313.02,217.25 313.29,216.85 313.56,216.46 313.83,216.06 314.11,215.66 314.39,215.26 314.67,214.85 314.95,214.44 315.24,214.04 315.53,213.63 315.82,213.21 316.11,212.8 316.41,212.38 316.7,211.97 317,211.55 317.31,211.12 317.61,210.7 317.92,210.28 318.23,209.85 318.54,209.42 318.86,208.99 319.17,208.56 319.49,208.12 319.81,207.69 320.13,207.25 320.46,206.81 320.79,206.37 321.12,205.92 321.45,205.48 321.78,205.03 322.12,204.58 322.46,204.13 322.8,203.68 323.14,203.22 323.49,202.77 323.83,202.31 324.18,201.85 324.54,201.39 324.89,200.93 325.25,200.47 325.6,200 325.96,199.53 326.32,199.06 326.69,198.59 327.06,198.12 327.42,197.64 327.79,197.17 328.17,196.69 328.54,196.21 328.92,195.73 329.3,195.25 329.68,194.76 330.06,194.28 330.44,193.79 330.83,193.3 331.22,192.81 331.61,192.32 332,191.82 332.39,191.33 332.79,190.83 333.19,190.33 333.59,189.83 333.99,189.33 334.39,188.83 334.8,188.32 335.21,187.82 335.62,187.31 336.03,186.8 336.44,186.29 336.86,185.78 337.28,185.26 337.7,184.75 338.12,184.23 338.54,183.71 338.97,183.19 339.39,182.67 339.82,182.14 340.25,181.62 340.68,181.09 341.12,180.57 341.55,180.04 341.99,179.51 342.43,178.97 342.87,178.44 343.32,177.9 343.76,177.37 344.21,176.83 344.66,176.29 345.11,175.75 345.56,175.21 346.01,174.66 346.47,174.12 346.93,173.57 347.39,173.02 347.85,172.47 348.31,171.92 348.78,171.37 349.24,170.82 349.71,170.26 350.18,169.7 350.65,169.15 351.13,168.59 351.6,168.03 352.08,167.46 352.56,166.9 353.04,166.33 353.52,165.77 354,165.2 354.49,164.63 354.98,164.06 355.47,163.49 355.96,162.92 356.45,162.34 356.94,161.76 357.44,161.19 357.94,160.61 358.44,160.03 358.94,159.45 359.44,158.86 359.94,158.28 360.45,157.7 360.96,157.11 361.47,156.52 361.98,155.93 362.49,155.34 363,154.75 363.52,154.16 364.04,153.56 364.56,152.96 365.08,152.37 365.6,151.77 366.12,151.17 366.65,150.57 367.18,149.97 367.7,149.36 368.23,148.76 368.77,148.15 369.3,147.54 369.84,146.94 370.37,146.33 370.91,145.71 371.45,145.1 371.99,144.49 372.54,143.87 373.08,143.26 373.63,142.64 374.17,142.02 374.72,141.4 375.27,140.78 375.83,140.16 376.38,139.53 376.94,138.91 377.49,138.28 378.05,137.66 378.61,137.03 379.18,136.4 379.74,135.77 380.3,135.13 380.87,134.5 381.44,133.87 382.01,133.23 382.58,132.59 383.15,131.96 383.73,131.32 384.3,130.68 384.88,130.03 385.46,129.39 386.04,128.75 386.62,128.1 387.21,127.46 387.79,126.81 388.38,126.16 388.96,125.51 389.55,124.86 390.14,124.21 390.74,123.55 391.33,122.9 391.93,122.24 392.52,121.59 393.12,120.93 393.72,120.27 394.32,119.61 394.93,118.95 395.53,118.29 396.14,117.62 396.74,116.96 397.35,116.29 397.96,115.62 398.57,114.96 399.19,114.29 399.8,113.62 400.42,112.95 401.04,112.27 401.65,111.6 402.28,110.92 402.9,110.25 403.52,109.57 404.15,108.89 404.77,108.21 405.4,107.53 406.03,106.85 406.66,106.17 407.29,105.49 407.92,104.8 408.56,104.12 409.2,103.43 409.83,102.74 410.47,102.06 411.11,101.37 411.75,100.67 412.4,99.98 413.04,99.29 413.69,98.6 414.34,97.9 414.99,97.2 415.64,96.51 416.29,95.81 416.94,95.11 417.6,94.41 418.25,93.71 418.91,93.01 419.57,92.3 420.23,91.6 420.89,90.89 421.55,90.19 422.22,89.48 422.88,88.77 423.55,88.06 424.22,87.35 424.89,86.64 425.56,85.93 426.23,85.22 426.91,84.5 427.58,83.79 428.26,83.07 428.94,82.35 429.62,81.63 430.3,80.91 430.98,80.19 431.66,79.47 432.35,78.75 433.03,78.03 433.72,77.3 434.41,76.58 435.1,75.85 435.79,75.12 436.49,74.4 437.18,73.67 437.88,72.94 438.57,72.21 439.27,71.48 439.97,70.74 440.67,70.01 441.38,69.27 442.08,68.54 442.79,67.8 443.49,67.07 444.2,66.33 444.91,65.59 445.62,64.85 446.33,64.11 447.04,63.36 447.76,62.62 448.47,61.88 449.19,61.13 449.91,60.39 450.63,59.64 451.35,58.89 452.07,58.14 452.8,57.4 453.52,56.65 454.25,55.89 454.98,55.14 455.7,54.39 456.43,53.64 457.17,52.88 457.9,52.13 458.63,51.37 459.37,50.61 460.11,49.86 460.84,49.1 461.58,48.34 462.32,47.58 463.06,46.81 463.81,46.05 464.55,45.29 465.3,44.53 466.05,43.76 466.79,42.99 467.54,42.23 468.29,41.46 469.05,40.69 469.8,39.92 470.55,39.15 471.31,38.38 472.07,37.61 472.42,37.25"/>
<polyline points="302.5,238.1 312.23,237.97 312.49,237.84 312.76,237.7 313.02,237.56 313.29,237.41 313.56,237.27 313.83,237.12 314.11,236.96 314.39,236.81 314.67,236.65 314.95,236.49 315.24,236.32 315.53,236.15 315.82,235.98 316.11,235.81 316.41,235.63 316.7,235.45 317,235.27 317.31,235.09 317.61,234.9 317.92,234.71 318.23,234.52 318.54,234.32 318.86,234.12 319.17,233.92 319.49,233.72 319.81,233.51 320.13,233.3 320.46,233.09 320.79,232.88 321.12,232.66 321.45,232.44 321.78,232.22 322.12,232 322.46,231.77 322.8,231.54 323.14,231.31 323.49,231.07 323.83,230.83 324.18,230.59 324.54,230.35 324.89,230.11 325.25,229.86 325.6,229.61 325.96,229.36 326.32,229.11 326.69,228.85 327.06,228.59 327.42,228.33 327.79,228.06 328.17,227.8 328.54,227.53 328.92,227.26 329.3,226.98 329.68,226.71 330.06,226.43 330.44,226.15 330.83,225.87 331.22,225.58 331.61,225.3 332,225.01 332.39,224.71 332.79,224.42 333.19,224.12 333.59,223.82 333.99,223.52 334.39,223.22 334.8,222.91 335.21,222.61 335.62,222.3 336.03,221.98 336.44,221.67 336.86,221.35 337.28,221.03 337.7,220.71 338.12,220.39 338.54,220.06 338.97,219.74 339.39,219.41 339.82,219.07 340.25,218.74 340.68,218.4 341.12,218.07 341.55,217.73 341.99,217.38 342.43,217.04 342.87,216.69 343.32,216.34 343.76,215.99 344.21,215.64 344.66,215.28 345.11,214.92 345.56,214.56 346.01,214.2 346.47,213.84 346.93,213.47 347.39,213.11 347.85,212.74 348.31,212.36 348.78,211.99 349.24,211.61 349.71,211.23 350.18,210.85 350.65,210.47 351.13,210.09 351.6,209.7 352.08,209.31 352.56,208.92 353.04,208.53 353.52,208.14 354,207.74 354.49,207.34 354.98,206.94 355.47,206.54 355.96,206.13 356.45,205.73 356.94,205.32 357.44,204.91 357.94,204.5 358.44,204.08 358.94,203.66 359.44,203.25 359.94,202.83 360.45,202.4 360.96,201.98 361.47,201.55 361.98,201.13 362.49,200.7 363,200.26 363.52,199.83 364.04,199.39 364.56,198.96 365.08,198.52 365.6,198.07 366.12,197.63 366.65,197.19 367.18,196.74 367.7,196.29 368.23,195.84 368.77,195.38 369.3,194.93 369.84,194.47 370.37,194.01 370.91,193.55 371.45,193.09 371.99,192.63 372.54,192.16 373.08,191.69 373.63,191.22 374.17,190.75 374.72,190.28 375.27,189.8 375.83,189.32 376.38,188.84 376.94,188.36 377.49,187.88 378.05,187.39 378.61,186.91 379.18,186.42 379.74,185.93 380.3,185.43 380.87,184.94 381.44,184.44 382.01,183.95 382.58,183.45 383.15,182.95 383.73,182.44 384.3,181.94 384.88,181.43 385.46,180.92 386.04,180.41 386.62,179.9 387.21,179.38 387.79,178.87 388.38,178.35 388.96,177.83 389.55,177.31 390.14,176.78 390.74,176.26 391.33,175.73 391.93,175.2 392.52,174.67 393.12,174.14 393.72,173.61 394.32,173.07 394.93,172.53 395.53,171.99 396.14,171.45 396.74,170.91 397.35,170.36 397.96,169.82 398.57,169.27 399.19,168.72 399.8,168.17 400.42,167.61 401.04,167.06 401.65,166.5 402.28,165.94 402.9,165.38 403.52,164.82 404.15,164.25 404.77,163.69 405.4,163.12 406.03,162.55 406.66,161.98 407.29,161.4 407.92,160.83 408.56,160.25 409.2,159.67 409.83,159.09 410.47,158.51 411.11,157.93 411.75,157.34 412.4,156.76 413.04,156.17 413.69,155.58 414.34,154.98 414.99,154.39 415.64,153.8 416.29,153.2 416.94,152.6 417.6,152 418.25,151.39 418.91,150.79 419.57,150.18 420.23,149.58 420.89,148.97 421.55,148.36 422.22,147.74 422.88,147.13 423.55,146.51 424.22,145.89 424.89,145.27 425.56,144.65 426.23,144.03 426.91,143.4 427.58,142.78 428.26,142.15 428.94,141.52 429.62,140.89 430.3,140.25 430.98,139.62 431.66,138.98 432.35,138.34 433.03,137.7 433.72,137.06 434.41,136.41 435.1,135.77 435.79,135.12 436.49,134.47 437.18,133.82 437.88,133.17 438.57,132.52 439.27,131.86 439.97,131.2 440.67,130.54 441.38,129.88 442.08,129.22 442.79,128.56 443.49,127.89 444.2,127.22 444.91,126.55 445.62,125.88 446.33,125.21 447.04,124.53 447.76,123.86 448.47,123.18 449.19,122.5 449.91,121.82 450.63,121.14 451.35,120.45 452.07,119.77 452.8,119.08 453.52,118.39 454.25,117.7 454.98,117 455.7,116.31 456.43,115.61 457.17,114.92 457.9,114.22 458.63,113.51 459.37,112.81 460.11,112.11 460.84,111.4 461.58,110.69 462.32,109.98 463.06,109.27 463.81,108.56 464.55,107.84 465.3,107.13 466.05,106.41 466.79,105.69 467.54,104.97 468.29,104.24 469.05,103.52 469.8,102.79 470.55,102.06 471.31,101.33 472.07,100.6 472.83,99.87 473.59,99.13 474.35,98.4 475.11,97.66 475.87,96.92 476.64,96.18 477.4,95.43 478.17,94.69 478.94,93.94 479.71,93.19 480.48,92.44 481.25,91.69 482.03,90.94 482.8,90.18 483.58,89.43 484.35,88.67 485.13,87.91 485.91,87.14 486.69,86.38 487.48,85.62 488.26,84.85 489.04,84.08 489.83,83.31 490.62,82.54 491.41,81.76 492.2,80.99 492.99,80.21 493.78,79.43 494.57,78.65 495.37,77.87 496.16,77.09 496.96,76.3 497.76,75.51 498.56,74.72 499.36,73.93 500.16,73.14 500.97,72.35 501.77,71.55 502.58,70.75 503.38,69.96 504.19,69.15 505,68.35"/>
<polyline points="302.5,238.1 302.51,237.8 302.54,237.57 302.58,237.34 302.63,237.12 302.68,236.9 302.74,236.67 302.81,236.45 302.89,236.23 302.97,236 303.05,235.77 303.14,235.54 303.24,235.31 303.34,235.07 303.45,234.83 303.56,234.59 303.67,234.34 303.79,234.1 303.92,233.85 304.05,233.59 304.18,233.34 304.31,233.08 304.45,232.82 304.6,232.56 304.75,232.29 304.9,232.02 305.05,231.75 305.21,231.48 305.37,231.2 305.54,230.92 305.71,230.64 305.88,230.36 306.06,230.07 306.24,229.78 306.42,229.49 306.61,229.2 306.8,228.9 306.99,228.6 307.19,228.3 307.38,227.99 307.59,227.69 307.79,227.38 308,227.07 308.21,226.75 308.42,226.44 308.64,226.12 308.86,225.8 309.08,225.47 309.31,225.15 309.54,224.82 309.77,224.49 310,224.16 310.24,223.82 310.48,223.49 310.72,223.15 310.97,222.81 311.21,222.46 311.46,222.12 311.72,221.77 311.97,221.42 312.23,221.07 312.49,220.71 312.76,220.36 313.02,220 313.29,219.64 313.56,219.27 313.83,218.91 314.11,218.54 314.39,218.17 314.67,217.8 314.95,217.43 315.24,217.05 315.53,216.67 315.82,216.29 316.11,215.91 316.41,215.53 316.7,215.14 317,214.76 317.31,214.37 317.61,213.97 317.92,213.58 318.23,213.19 318.54,212.79 318.86,212.39 319.17,211.99 319.49,211.58 319.81,211.18 320.13,210.77 320.46,210.36 320.79,209.95 321.12,209.54 321.45,209.13 321.78,208.71 322.12,208.29 322.46,207.87 322.8,207.45 323.14,207.02 323.49,206.6 323.83,206.17 324.18,205.74 324.54,205.31 324.89,204.88 325.25,204.44 325.6,204.01 325.96,203.57 326.32,203.13 326.69,202.68 327.06,202.24 327.42,201.8 327.79,201.35 328.17,200.9 328.54,200.45 328.92,200 329.3,199.54 329.68,199.09 330.06,198.63 330.44,198.17 330.83,197.71 331.22,197.24 331.61,196.78 332,196.31 332.39,195.85 332.79,195.38 333.19,194.9 333.59,194.43 333.99,193.96 334.39,193.48 334.8,193 335.21,192.52 335.62,192.04 336.03,191.56 336.44,191.07 336.86,190.59 337.28,190.1 337.7,189.61 338.12,189.12 338.54,188.63 338.97,188.13 339.39,187.64 339.82,187.14 340.25,186.64 340.68,186.14 341.12,185.64 341.55,185.14 341.99,184.63 342.43,184.12 342.87,183.61 343.32,183.1 343.76,182.59 344.21,182.08 344.66,181.57 345.11,181.05 345.56,180.53 346.01,180.01 346.47,179.49 346.93,178.97 347.39,178.45 347.85,177.92 348.31,177.39 348.78,176.86 349.24,176.34 349.71,175.8 350.18,175.27 350.65,174.74 351.13,174.2 351.6,173.66 352.08,173.12 352.56,172.58 353.04,172.04 353.52,171.5 354,170.95 354.49,170.41 354.98,169.86 355.47,169.31 355.96,168.76 356.45,168.21 356.94,167.66 357.44,167.1 357.94,166.55 358.44,165.99 358.94,165.43 359.44,164.87 359.94,164.31 360.45,163.74 360.96,163.18 361.47,162.61 361.98,162.05 362.49,161.48 363,160.91 363.52,160.33 364.04,159.76 364.56,159.19 365.08,158.61 365.6,158.03 366.12,157.45 366.65,156.87 367.18,156.29 367.7,155.71 368.23,155.13 368.77,154.54 369.3,153.95 369.84,153.37 370.37,152.78 370.91,152.19 371.45,151.59 371.99,151 372.54,150.41 373.08,149.81 373.63,149.21 374.17,148.61 374.72,148.01 375.27,147.41 375.83,146.81 376.38,146.2 376.94,145.6 377.49,144.99 378.05,144.38 378.61,143.77 379.18,143.16 379.74,142.55 380.3,141.94 380.87,141.32 381.44,140.71 382.01,140.09 382.58,139.47 383.15,138.85 383.73,138.23 384.3,137.61 384.88,136.99 385.46,136.36 386.04,135.74 386.62,135.11 387.21,134.48 387.79,133.85 388.38,133.22 388.96,132.59 389.55,131.95 390.14,131.32 390.74,130.68 391.33,130.05 391.93,129.41 392.52,128.77 393.12,128.13 393.72,127.48 394.32,126.84 394.93,126.2 395.53,125.55 396.14,124.9 396.74,124.26 397.35,123.61 397.96,122.96 398.57,122.3 399.19,121.65 399.8,121 400.42,120.34 401.04,119.68 401.65,119.03 402.28,118.37 402.9,117.71 403.52,117.05 404.15,116.38 404.77,115.72 405.4,115.05 406.03,114.39 406.66,113.72 407.29,113.05 407.92,112.38 408.56,111.71 409.2,111.04 409.83,110.37 410.47,109.69 411.11,109.02 411.75,108.34 412.4,107.66 413.04,106.98 413.69,106.3 414.34,105.62 414.99,104.94 415.64,104.26 416.29,103.57 416.94,102.89 417.6,102.2 418.25,101.51 418.91,100.82 419.57,100.13 420.23,99.44 420.89,98.75 421.55,98.06 422.22,97.36 422.88,96.67 423.55,95.97 424.22,95.27 424.89,94.57 425.56,93.87 426.23,93.17 426.91,92.47 427.58,91.77 428.26,91.06 428.94,90.36 429.62,89.65 430.3,88.94 430.98,88.23 431.66,87.52 432.35,86.81 433.03,86.1 433.72,85.39 434.41,84.67 435.1,83.96 435.79,83.24 436.49,82.52 437.18,81.81 437.88,81.09 438.57,80.37 439.27,79.64 439.97,78.92 440.67,78.2 441.38,77.47 442.08,76.75 442.79,76.02 443.49,75.29 444.2,74.56 444.91,73.84 445.62,73.1 446.33,72.37 447.04,71.64 447.76,70.91 448.47,70.17 449.19,69.43 449.91,68.7 450.63,67.96 451.35,67.22 452.07,66.48 452.8,65.74 453.52,65 454.25,64.26 454.98,63.51 455.7,62.77 456.43,62.02 457.17,61.27 457.9,60.53 458.63,59.78 459.37,59.03 460.11,58.28 460.84,57.52 461.58,56.77 462.32,56.02 463.06,55.26 463.81,54.51 464.55,53.75 465.3,52.99 466.05,52.24 466.79,51.48 467.54,50.72 468.29,49.95 469.05,49.19 469.8,48.43 470.55,47.66 471.31,46.9 472.07,46.13 472.83,45.37 473.59,44.6 474.35,43.83 475.11,43.06 475.87,42.29 476.64,41.52 477.4,40.74 478.17,39.97 478.94,39.2 479.71,38.42 480.48,37.65 480.87,37.25"/>
<polyline points="302.5,238.1 307.79,238.05 308,237.95 308.21,237.84 308.42,237.72 308.64,237.6 308.86,237.48 309.08,237.36 309.31,237.23 309.54,237.1 309.77,236.97 310,236.83 310.24,236.69 310.48,236.55 310.72,236.4 310.97,236.25 311.21,236.1 311.46,235.95 311.72,235.79 311.97,235.63 312.23,235.46 312.49,235.29 312.76,235.12 313.02,234.95 313.29,234.77 313.56,234.59 313.83,234.41 314.11,234.23 314.39,234.04 314.67,233.85 314.95,233.65 315.24,233.46 315.53,233.26 315.82,233.06 316.11,232.85 316.41,232.65 316.7,232.44 317,232.22 317.31,232.01 317.61,231.79 317.92,231.57 318.23,231.35 318.54,231.12 318.86,230.89 319.17,230.66 319.49,230.43 319.81,230.19 320.13,229.95 320.46,229.71 320.79,229.47 321.12,229.22 321.45,228.98 321.78,228.73 322.12,228.47 322.46,228.22 322.8,227.96 323.14,227.7 323.49,227.43 323.83,227.17 324.18,226.9 324.54,226.63 324.89,226.36 325.25,226.08 325.6,225.81 325.96,225.53 326.32,225.24 326.69,224.96 327.06,224.67 327.42,224.38 327.79,224.09 328.17,223.8 328.54,223.5 328.92,223.21 329.3,222.91 329.68,222.6 330.06,222.3 330.44,221.99 330.83,221.68 331.22,221.37 331.61,221.06 332,220.74 332.39,220.42 332.79,220.1 333.19,219.78 333.59,219.46 333.99,219.13 334.39,218.8 334.8,218.47 335.21,218.14 335.62,217.8 336.03,217.46 336.44,217.12 336.86,216.78 337.28,216.44 337.7,216.09 338.12,215.74 338.54,215.39 338.97,215.04 339.39,214.69 339.82,214.33 340.25,213.97 340.68,213.61 341.12,213.25 341.55,212.88 341.99,212.51 342.43,212.15 342.87,211.77 343.32,211.4 343.76,211.03 344.21,210.65 344.66,210.27 345.11,209.89 345.56,209.51 346.01,209.12 346.47,208.73 346.93,208.34 347.39,207.95 347.85,207.56 348.31,207.17 348.78,206.77 349.24,206.37 349.71,205.97 350.18,205.57 350.65,205.16 351.13,204.75 351.6,204.35 352.08,203.93 352.56,203.52 353.04,203.11 353.52,202.69 354,202.27 354.49,201.85 354.98,201.43 355.47,201 355.96,200.58 356.45,200.15 356.94,199.72 357.44,199.29 357.94,198.85 358.44,198.42 358.94,197.98 359.44,197.54 359.94,197.1 360.45,196.66 360.96,196.21 361.47,195.77 361.98,195.32 362.49,194.87 363,194.41 363.52,193.96 364.04,193.5 364.56,193.04 365.08,192.58 365.6,192.12 366.12,191.66 366.65,191.19 367.18,190.73 367.7,190.26 368.23,189.79 368.77,189.31 369.3,188.84 369.84,188.36 370.37,187.88 370.91,187.4 371.45,186.92 371.99,186.44 372.54,185.95 373.08,185.47 373.63,184.98 374.17,184.49 374.72,183.99 375.27,183.5 375.83,183 376.38,182.51 376.94,182.01 377.49,181.5 378.05,181 378.61,180.5 379.18,179.99 379.74,179.48 380.3,178.97 380.87,178.46 381.44,177.94 382.01,177.43 382.58,176.91 383.15,176.39 383.73,175.87 384.3,175.35 384.88,174.82 385.46,174.3 386.04,173.77 386.62,173.24 387.21,172.71 387.79,172.18 388.38,171.64 388.96,171.11 389.55,170.57 390.14,170.03 390.74,169.49 391.33,168.94 391.93,168.4 392.52,167.85 393.12,167.3 393.72,166.75 394.32,166.2 394.93,165.65 395.53,165.09 396.14,164.53 396.74,163.97 397.35,163.41 397.96,162.85 398.57,162.29 399.19,161.72 399.8,161.16 400.42,160.59 401.04,160.02 401.65,159.44 402.28,158.87 402.9,158.29 403.52,157.72 404.15,157.14 404.77,156.56 405.4,155.98 406.03,155.39 406.66,154.81 407.29,154.22 407.92,153.63 408.56,153.04 409.2,152.45 409.83,151.85 410.47,151.26 411.11,150.66 411.75,150.06 412.4,149.46 413.04,148.86 413.69,148.25 414.34,147.65 414.99,147.04 415.64,146.43 416.29,145.82 416.94,145.21 417.6,144.6 418.25,143.98 418.91,143.36 419.57,142.75 420.23,142.13 420.89,141.5 421.55,140.88 422.22,140.25 422.88,139.63 423.55,139 424.22,138.37 424.89,137.74 425.56,137.1 426.23,136.47 426.91,135.83 427.58,135.19 428.26,134.55 428.94,133.91 429.62,133.27 430.3,132.63 430.98,131.98 431.66,131.33 432.35,130.68 433.03,130.03 433.72,129.38 434.41,128.72 435.1,128.07 435.79,127.41 436.49,126.75 437.18,126.09 437.88,125.43 438.57,124.76 439.27,124.1 439.97,123.43 440.67,122.76 441.38,122.09 442.08,121.42 442.79,120.75 443.49,120.07 444.2,119.4 444.91,118.72 445.62,118.04 446.33,117.36 447.04,116.67 447.76,115.99 448.47,115.3 449.19,114.61 449.91,113.92 450.63,113.23 451.35,112.54 452.07,111.85 452.8,111.15 453.52,110.45 454.25,109.75 454.98,109.05 455.7,108.35 456.43,107.65 457.17,106.94 457.9,106.24 458.63,105.53 459.37,104.82 460.11,104.11 460.84,103.39 461.58,102.68 462.32,101.96 463.06,101.24 463.81,100.52 464.55,99.8 465.3,99.08 466.05,98.36 466.79,97.63 467.54,96.9 468.29,96.17 469.05,95.44 469.8,94.71 470.55,93.98 471.31,93.24 472.07,92.51 472.83,91.77 473.59,91.03 474.35,90.29 475.11,89.54 475.87,88.8 476.64,88.05 477.4,87.31 478.17,86.56 478.94,85.81 479.71,85.05 480.48,84.3 481.25,83.54 482.03,82.79 482.8,82.03 483.58,81.27 484.35,80.51 485.13,79.74 485.91,78.98 486.69,78.21 487.48,77.44 488.26,76.67 489.04,75.9 489.83,75.13 490.62,74.35 491.41,73.58 492.2,72.8 492.99,72.02 493.78,71.24 494.57,70.46 495.37,69.67 496.16,68.89 496.96,68.1 497.76,67.31 498.56,66.52 499.36,65.73 500.16,64.94 500.97,64.14 501.77,63.35 502.58,62.55 503.38,61.75 504.19,60.95 505,60.15"/>
<polyline points="302.5,238.1 302.51,237.89 302.54,237.71 302.58,237.54 302.63,237.37 302.68,237.19 302.74,237.02 302.81,236.84 302.89,236.66 302.97,236.48 303.05,236.29 303.14,236.1 303.24,235.91 303.34,235.71 303.45,235.51 303.56,235.31 303.67,235.1 303.79,234.89 303.92,234.68 304.05,234.46 304.18,234.24 304.31,234.02 304.45,233.8 304.6,233.57 304.75,233.34 304.9,233.1 305.05,232.87 305.21,232.63 305.37,232.38 305.54,232.14 305.71,231.89 305.88,231.64 306.06,231.38 306.24,231.13 306.42,230.87 306.61,230.6 306.8,230.34 306.99,230.07 307.19,229.8 307.38,229.53 307.59,229.25 307.79,228.97 308,228.69 308.21,228.41 308.42,228.12 308.64,227.84 308.86,227.55 309.08,227.25 309.31,226.96 309.54,226.66 309.77,226.36 310,226.05 310.24,225.75 310.48,225.44 310.72,225.13 310.97,224.82 311.21,224.5 311.46,224.19 311.72,223.87 311.97,223.54 312.23,223.22 312.49,222.89 312.76,222.56 313.02,222.23 313.29,221.9 313.56,221.56 313.83,221.23 314.11,220.89 314.39,220.54 314.67,220.2 314.95,219.85 315.24,219.5 315.53,219.15 315.82,218.8 316.11,218.45 316.41,218.09 316.7,217.73 317,217.37 317.31,217 317.61,216.64 317.92,216.27 318.23,215.9 318.54,215.53 318.86,215.16 319.17,214.78 319.49,214.4 319.81,214.02 320.13,213.64 320.46,213.26 320.79,212.87 321.12,212.48 321.45,212.09 321.78,211.7 322.12,211.31 322.46,210.91 322.8,210.52 323.14,210.12 323.49,209.71 323.83,209.31 324.18,208.91 324.54,208.5 324.89,208.09 325.25,207.68 325.6,207.27 325.96,206.85 326.32,206.43 326.69,206.02 327.06,205.6 327.42,205.17 327.79,204.75 328.17,204.32 328.54,203.9 328.92,203.47 329.3,203.04 329.68,202.6 330.06,202.17 330.44,201.73 330.83,201.29 331.22,200.85 331.61,200.41 332,199.97 332.39,199.52 332.79,199.07 333.19,198.63 333.59,198.17 333.99,197.72 334.39,197.27 334.8,196.81 335.21,196.35 335.62,195.89 336.03,195.43 336.44,194.97 336.86,194.51 337.28,194.04 337.7,193.57 338.12,193.1 338.54,192.63 338.97,192.16 339.39,191.68 339.82,191.21 340.25,190.73 340.68,190.25 341.12,189.77 341.55,189.29 341.99,188.8 342.43,188.31 342.87,187.83 343.32,187.34 343.76,186.85 344.21,186.35 344.66,185.86 345.11,185.36 345.56,184.87 346.01,184.37 346.47,183.87 346.93,183.36 347.39,182.86 347.85,182.35 348.31,181.85 348.78,181.34 349.24,180.83 349.71,180.32 350.18,179.8 350.65,179.29 351.13,178.77 351.6,178.25 352.08,177.73 352.56,177.21 353.04,176.69 353.52,176.16 354,175.64 354.49,175.11 354.98,174.58 355.47,174.05 355.96,173.52 356.45,172.99 356.94,172.45 357.44,171.92 357.94,171.38 358.44,170.84 358.94,170.3 359.44,169.76 359.94,169.21 360.45,168.67 360.96,168.12 361.47,167.57 361.98,167.02 362.49,166.47 363,165.92 363.52,165.36 364.04,164.81 364.56,164.25 365.08,163.69 365.6,163.13 366.12,162.57 366.65,162.01 367.18,161.44 367.7,160.88 368.23,160.31 368.77,159.74 369.3,159.17 369.84,158.6 370.37,158.03 370.91,157.45 371.45,156.88 371.99,156.3 372.54,155.72 373.08,155.14 373.63,154.56 374.17,153.98 374.72,153.39 375.27,152.81 375.83,152.22 376.38,151.63 376.94,151.04 377.49,150.45 378.05,149.86 378.61,149.27 379.18,148.67 379.74,148.08 380.3,147.48 380.87,146.88 381.44,146.28 382.01,145.68 382.58,145.07 383.15,144.47 383.73,143.86 384.3,143.25 384.88,142.65 385.46,142.04 386.04,141.43 386.62,140.81 387.21,140.2 387.79,139.58 388.38,138.97 388.96,138.35 389.55,137.73 390.14,137.11 390.74,136.49 391.33,135.86 391.93,135.24 392.52,134.61 393.12,133.99 393.72,133.36 394.32,132.73 394.93,132.1 395.53,131.46 396.14,130.83 396.74,130.2 397.35,129.56 397.96,128.92 398.57,128.28 399.19,127.64 399.8,127 400.42,126.36 401.04,125.72 401.65,125.07 402.28,124.43 402.9,123.78 403.52,123.13 404.15,122.48 404.77,121.83 405.4,121.18 406.03,120.52 406.66,119.87 407.29,119.21 407.92,118.55 408.56,117.89 409.2,117.23 409.83,116.57 410.47,115.91 411.11,115.25 411.75,114.58 412.4,113.91 413.04,113.25 413.69,112.58 414.34,111.91 414.99,111.24 415.64,110.57 416.29,109.89 416.94,109.22 417.6,108.54 418.25,107.86 418.91,107.19 419.57,106.51 420.23,105.83 420.89,105.14 421.55,104.46 422.22,103.78 422.88,103.09 423.55,102.41 424.22,101.72 424.89,101.03 425.56,100.34 426.23,99.65 426.91,98.96 427.58,98.26 428.26,97.57 428.94,96.87 429.62,96.17 430.3,95.48 430.98,94.78 431.66,94.08 432.35,93.37 433.03,92.67 433.72,91.97 434.41,91.26 435.1,90.56 435.79,89.85 436.49,89.14 437.18,88.43 437.88,87.72 438.57,87.01 439.27,86.29 439.97,85.58 440.67,84.86 441.38,84.15 442.08,83.43 442.79,82.71 443.49,81.99 444.2,81.27 444.91,80.55 445.62,79.83 446.33,79.1 447.04,78.38 447.76,77.65 448.47,76.92 449.19,76.19 449.91,75.46 450.63,74.73 451.35,74 452.07,73.27 452.8,72.53 453.52,71.8 454.25,71.06 454.98,70.32 455.7,69.59 456.43,68.85 457.17,68.1 457.9,67.36 458.63,66.62 459.37,65.88 460.11,65.13 460.84,64.39 461.58,63.64 462.32,62.89 463.06,62.14 463.81,61.39 464.55,60.64 465.3,59.89 466.05,59.13 466.79,58.38 467.54,57.62 468.29,56.87 469.05,56.11 469.8,55.35 470.55,54.59 471.31,53.83 472.07,53.07 472.83,52.31 473.59,51.54 474.35,50.78 475.11,50.01 475.87,49.25 476.64,48.48 477.4,47.71 478.17,46.94 478.94,46.17 479.71,45.4 480.48,44.62 481.25,43.85 482.03,43.07 482.8,42.3 483.58,41.52 484.35,40.74 485.13,39.97 485.91,39.19 486.69,38.4 487.48,37.62 487.85,37.25"/>
<polyline points="302.5,238.1 305.21,238.06 305.37,237.97 305.54,237.88 305.71,237.79 305.88,237.7 306.06,237.6 306.24,237.49 306.42,237.39 306.61,237.28 306.8,237.16 306.99,237.04 307.19,236.92 307.38,236.8 307.59,236.67 307.79,236.53 308,236.4 308.21,236.26 308.42,236.12 308.64,235.97 308.86,235.82 309.08,235.67 309.31,235.52 309.54,235.36 309.77,235.2 310,235.03 310.24,234.86 310.48,234.69 310.72,234.52 310.97,234.34 311.21,234.16 311.46,233.98 311.72,233.8 311.97,233.61 312.23,233.42 312.49,233.22 312.76,233.02 313.02,232.82 313.29,232.62 313.56,232.42 313.83,232.21 314.11,232 314.39,231.78 314.67,231.57 314.95,231.35 315.24,231.13 315.53,230.9 315.82,230.67 316.11,230.45 316.41,230.21 316.7,229.98 317,229.74 317.31,229.5 317.61,229.26 317.92,229.01 318.23,228.77 318.54,228.52 318.86,228.26 319.17,228.01 319.49,227.75 319.81,227.49 320.13,227.23 320.46,226.96 320.79,226.7 321.12,226.43 321.45,226.16 321.78,225.88 322.12,225.6 322.46,225.33 322.8,225.04 323.14,224.76 323.49,224.47 323.83,224.19 324.18,223.89 324.54,223.6 324.89,223.31 325.25,223.01 325.6,222.71 325.96,222.41 326.32,222.1 326.69,221.8 327.06,221.49 327.42,221.17 327.79,220.86 328.17,220.55 328.54,220.23 328.92,219.91 329.3,219.59 329.68,219.26 330.06,218.94 330.44,218.61 330.83,218.28 331.22,217.94 331.61,217.61 332,217.27 332.39,216.93 332.79,216.59 333.19,216.25 333.59,215.9 333.99,215.55 334.39,215.2 334.8,214.85 335.21,214.5 335.62,214.14 336.03,213.78 336.44,213.42 336.86,213.06 337.28,212.69 337.7,212.33 338.12,211.96 338.54,211.59 338.97,211.22 339.39,210.84 339.82,210.47 340.25,210.09 340.68,209.71 341.12,209.32 341.55,208.94 341.99,208.55 342.43,208.16 342.87,207.77 343.32,207.38 343.76,206.99 344.21,206.59 344.66,206.19 345.11,205.79 345.56,205.39 346.01,204.98 346.47,204.58 346.93,204.17 347.39,203.76 347.85,203.35 348.31,202.94 348.78,202.52 349.24,202.1 349.71,201.68 350.18,201.26 350.65,200.84 351.13,200.41 351.6,199.99 352.08,199.56 352.56,199.13 353.04,198.69 353.52,198.26 354,197.82 354.49,197.38 354.98,196.94 355.47,196.5 355.96,196.06 356.45,195.61 356.94,195.16 357.44,194.72 357.94,194.26 358.44,193.81 358.94,193.36 359.44,192.9 359.94,192.44 360.45,191.98 360.96,191.52 361.47,191.05 361.98,190.59 362.49,190.12 363,189.65 363.52,189.18 364.04,188.71 364.56,188.23 365.08,187.76 365.6,187.28 366.12,186.8 366.65,186.32 367.18,185.83 367.7,185.35 368.23,184.86 368.77,184.37 369.3,183.88 369.84,183.39 370.37,182.9 370.91,182.4 371.45,181.9 371.99,181.4 372.54,180.9 373.08,180.4 373.63,179.9 374.17,179.39 374.72,178.88 375.27,178.37 375.83,177.86 376.38,177.35 376.94,176.83 377.49,176.32 378.05,175.8 378.61,175.28 379.18,174.76 379.74,174.23 380.3,173.71 380.87,173.18 381.44,172.65 382.01,172.12 382.58,171.59 383.15,171.06 383.73,170.52 384.3,169.99 384.88,169.45 385.46,168.91 386.04,168.37 386.62,167.82 387.21,167.28 387.79,166.73 388.38,166.18 388.96,165.63 389.55,165.08 390.14,164.53 390.74,163.97 391.33,163.42 391.93,162.86 392.52,162.3 393.12,161.74 393.72,161.17 394.32,160.61 394.93,160.04 395.53,159.47 396.14,158.9 396.74,158.33 397.35,157.76 397.96,157.18 398.57,156.61 399.19,156.03 399.8,155.45 400.42,154.87 401.04,154.29 401.65,153.7 402.28,153.11 402.9,152.53 403.52,151.94 404.15,151.35 404.77,150.75 405.4,150.16 406.03,149.56 406.66,148.97 407.29,148.37 407.92,147.77 408.56,147.17 409.2,146.56 409.83,145.96 410.47,145.35 411.11,144.74 411.75,144.13 412.4,143.52 413.04,142.91 413.69,142.29 414.34,141.68 414.99,141.06 415.64,140.44 416.29,139.82 416.94,139.2 417.6,138.57 418.25,137.95 418.91,137.32 419.57,136.69 420.23,136.06 420.89,135.43 421.55,134.79 422.22,134.16 422.88,133.52 423.55,132.88 424.22,132.25 424.89,131.6 425.56,130.96 426.23,130.32 426.91,129.67 427.58,129.02 428.26,128.37 428.94,127.72 429.62,127.07 430.3,126.42 430.98,125.76 431.66,125.11 432.35,124.45 433.03,123.79 433.72,123.13 434.41,122.46 435.1,121.8 435.79,121.13 436.49,120.47 437.18,119.8 437.88,119.13 438.57,118.46 439.27,117.78 439.97,117.11 440.67,116.43 441.38,115.75 442.08,115.07 442.79,114.39 443.49,113.71 444.2,113.03 444.91,112.34 445.62,111.65 446.33,110.96 447.04,110.27 447.76,109.58 448.47,108.89 449.19,108.19 449.91,107.5 450.63,106.8 451.35,106.1 452.07,105.4 452.8,104.7 453.52,103.99 454.25,103.29 454.98,102.58 455.7,101.87 456.43,101.16 457.17,100.45 457.9,99.74 458.63,99.03 459.37,98.31 460.11,97.59 460.84,96.88 461.58,96.16 462.32,95.43 463.06,94.71 463.81,93.99 464.55,93.26 465.3,92.53 466.05,91.8 466.79,91.07 467.54,90.34 468.29,89.61 469.05,88.87 469.8,88.14 470.55,87.4 471.31,86.66 472.07,85.92 472.83,85.17 473.59,84.43 474.35,83.69 475.11,82.94 475.87,82.19 476.64,81.44 477.4,80.69 478.17,79.94 478.94,79.18 479.71,78.43 480.48,77.67 481.25,76.91 482.03,76.15 482.8,75.39 483.58,74.63 484.35,73.86 485.13,73.1 485.91,72.33 486.69,71.56 487.48,70.79 488.26,70.02 489.04,69.24 489.83,68.47 490.62,67.69 491.41,66.91 492.2,66.14 492.99,65.35 493.78,64.57 494.57,63.79 495.37,63 496.16,62.22 496.96,61.43 497.76,60.64 498.56,59.85 499.36,59.06 500.16,58.26 500.97,57.47 501.77,56.67 502.58,55.87 503.38,55.07 504.19,54.27 505,53.47"/>
<polyline points="302.5,238.1 302.51,237.96 302.54,237.83 302.58,237.71 302.63,237.58 302.68,237.45 302.74,237.31 302.81,237.18 302.89,237.03 302.97,236.89 303.05,236.73 303.14,236.58 303.24,236.42 303.34,236.26 303.45,236.09 303.56,235.92 303.67,235.75 303.79,235.57 303.92,235.39 304.05,235.2 304.18,235.02 304.31,234.83 304.45,234.63 304.6,234.43 304.75,234.23 304.9,234.03 305.05,233.82 305.21,233.61 305.37,233.39 305.54,233.18 305.71,232.96 305.88,232.73 306.06,232.51 306.24,232.28 306.42,232.05 306.61,231.81 306.8,231.57 306.99,231.33 307.19,231.09 307.38,230.84 307.59,230.59 307.79,230.34 308,230.09 308.21,229.83 308.42,229.57 308.64,229.31 308.86,229.04 309.08,228.78 309.31,228.51 309.54,228.23 309.77,227.96 310,227.68 310.24,227.4 310.48,227.12 310.72,226.83 310.97,226.54 311.21,226.25 311.46,225.96 311.72,225.66 311.97,225.36 312.23,225.06 312.49,224.76 312.76,224.46 313.02,224.15 313.29,223.84 313.56,223.53 313.83,223.21 314.11,222.9 314.39,222.58 314.67,222.26 314.95,221.93 315.24,221.61 315.53,221.28 315.82,220.95 316.11,220.62 316.41,220.28 316.7,219.95 317,219.61 317.31,219.27 317.61,218.92 317.92,218.58 318.23,218.23 318.54,217.88 318.86,217.53 319.17,217.17 319.49,216.82 319.81,216.46 320.13,216.1 320.46,215.74 320.79,215.37 321.12,215.01 321.45,214.64 321.78,214.27 322.12,213.9 322.46,213.52 322.8,213.15 323.14,212.77 323.49,212.39 323.83,212 324.18,211.62 324.54,211.23 324.89,210.84 325.25,210.45 325.6,210.06 325.96,209.67 326.32,209.27 326.69,208.87 327.06,208.47 327.42,208.07 327.79,207.67 328.17,207.26 328.54,206.85 328.92,206.44 329.3,206.03 329.68,205.62 330.06,205.2 330.44,204.79 330.83,204.37 331.22,203.95 331.61,203.52 332,203.1 332.39,202.67 332.79,202.24 333.19,201.81 333.59,201.38 333.99,200.95 334.39,200.51 334.8,200.08 335.21,199.64 335.62,199.2 336.03,198.75 336.44,198.31 336.86,197.86 337.28,197.42 337.7,196.97 338.12,196.52 338.54,196.06 338.97,195.61 339.39,195.15 339.82,194.69 340.25,194.23 340.68,193.77 341.12,193.31 341.55,192.84 341.99,192.38 342.43,191.91 342.87,191.44 343.32,190.96 343.76,190.49 344.21,190.02 344.66,189.54 345.11,189.06 345.56,188.58 346.01,188.1 346.47,187.61 346.93,187.13 347.39,186.64 347.85,186.15 348.31,185.66 348.78,185.17 349.24,184.68 349.71,184.18 350.18,183.69 350.65,183.19 351.13,182.69 351.6,182.19 352.08,181.68 352.56,181.18 353.04,180.67 353.52,180.16 354,179.65 354.49,179.14 354.98,178.63 355.47,178.12 355.96,177.6 356.45,177.08 356.94,176.56 357.44,176.04 357.94,175.52 358.44,175 358.94,174.47 359.44,173.94 359.94,173.42 360.45,172.89 360.96,172.35 361.47,171.82 361.98,171.29 362.49,170.75 363,170.21 363.52,169.67 364.04,169.13 364.56,168.59 365.08,168.05 365.6,167.5 366.12,166.96 366.65,166.41 367.18,165.86 367.7,165.31 368.23,164.75 368.77,164.2 369.3,163.64 369.84,163.09 370.37,162.53 370.91,161.97 371.45,161.41 371.99,160.84 372.54,160.28 373.08,159.71 373.63,159.15 374.17,158.58 374.72,158.01 375.27,157.44 375.83,156.86 376.38,156.29 376.94,155.71 377.49,155.13 378.05,154.56 378.61,153.98 379.18,153.39 379.74,152.81 380.3,152.23 380.87,151.64 381.44,151.05 382.01,150.46 382.58,149.87 383.15,149.28 383.73,148.69 384.3,148.09 384.88,147.5 385.46,146.9 386.04,146.3 386.62,145.7 387.21,145.1 387.79,144.5 388.38,143.89 388.96,143.29 389.55,142.68 390.14,142.07 390.74,141.46 391.33,140.85 391.93,140.24 392.52,139.62 393.12,139.01 393.72,138.39 394.32,137.77 394.93,137.15 395.53,136.53 396.14,135.91 396.74,135.29 397.35,134.66 397.96,134.04 398.57,133.41 399.19,132.78 399.8,132.15 400.42,131.52 401.04,130.89 401.65,130.25 402.28,129.62 402.9,128.98 403.52,128.34 404.15,127.7 404.77,127.06 405.4,126.42 406.03,125.78 406.66,125.13 407.29,124.49 407.92,123.84 408.56,123.19 409.2,122.54 409.83,121.89 410.47,121.24 411.11,120.58 411.75,119.93 412.4,119.27 413.04,118.62 413.69,117.96 414.34,117.3 414.99,116.64 415.64,115.97 416.29,115.31 416.94,114.64 417.6,113.98 418.25,113.31 418.91,112.64 419.57,111.97 420.23,111.3 420.89,110.63 421.55,109.95 422.22,109.28 422.88,108.6 423.55,107.92 424.22,107.24 424.89,106.56 425.56,105.88 426.23,105.2 426.91,104.51 427.58,103.83 428.26,103.14 428.94,102.46 429.62,101.77 430.3,101.08 430.98,100.38 431.66,99.69 432.35,99 433.03,98.3 433.72,97.61 434.41,96.91 435.1,96.21 435.79,95.51 436.49,94.81 437.18,94.11 437.88,93.4 438.57,92.7 439.27,91.99 439.97,91.29 440.67,90.58 441.38,89.87 442.08,89.16 442.79,88.45 443.49,87.73 444.2,87.02 444.91,86.3 445.62,85.59 446.33,84.87 447.04,84.15 447.76,83.43 448.47,82.71 449.19,81.98 449.91,81.26 450.63,80.54 451.35,79.81 452.07,79.08 452.8,78.35 453.52,77.62 454.25,76.89 454.98,76.16 455.7,75.43 456.43,74.7 457.17,73.96 457.9,73.22 458.63,72.49 459.37,71.75 460.11,71.01 460.84,70.27 461.58,69.52 462.32,68.78 463.06,68.04 463.81,67.29 464.55,66.54 465.3,65.8 466.05,65.05 466.79,64.3 467.54,63.55 468.29,62.79 469.05,62.04 469.8,61.29 470.55,60.53 471.31,59.77 472.07,59.01 472.83,58.26 473.59,57.5 474.35,56.73 475.11,55.97 475.87,55.21 476.64,54.44 477.4,53.68 478.17,52.91 478.94,52.14 479.71,51.37 480.48,50.6 481.25,49.83 482.03,49.06 482.8,48.29 483.58,47.51 484.35,46.74 485.13,45.96 485.91,45.18 486.69,44.41 487.48,43.63 488.26,42.84 489.04,42.06 489.83,41.28 490.62,40.5 491.41,39.71 492.2,38.92 492.99,38.14 493.78,37.35 493.88,37.25"/>
<polyline points="302.5,238.1 303.67,238.06 303.79,238 303.92,237.93 304.05,237.86 304.18,237.78 304.31,237.7 304.45,237.62 304.6,237.53 304.75,237.43 304.9,237.33 305.05,237.23 305.21,237.12 305.37,237.01 305.54,236.9 305.71,236.78 305.88,236.65 306.06,236.53 306.24,236.4 306.42,236.27 306.61,236.13 306.8,235.99 306.99,235.84 307.19,235.7 307.38,235.55 307.59,235.39 307.79,235.23 308,235.07 308.21,234.91 308.42,234.74 308.64,234.57 308.86,234.4 309.08,234.22 309.31,234.04 309.54,233.86 309.77,233.68 310,233.49 310.24,233.3 310.48,233.1 310.72,232.91 310.97,232.71 311.21,232.5 311.46,232.3 311.72,232.09 311.97,231.88 312.23,231.66 312.49,231.45 312.76,231.23 313.02,231 313.29,230.78 313.56,230.55 313.83,230.32 314.11,230.09 314.39,229.85 314.67,229.61 314.95,229.37 315.24,229.13 315.53,228.88 315.82,228.63 316.11,228.38 316.41,228.13 316.7,227.87 317,227.61 317.31,227.35 317.61,227.09 317.92,226.82 318.23,226.55 318.54,226.28 318.86,226.01 319.17,225.73 319.49,225.46 319.81,225.18 320.13,224.89 320.46,224.61 320.79,224.32 321.12,224.03 321.45,223.74 321.78,223.44 322.12,223.15 322.46,222.85 322.8,222.55 323.14,222.24 323.49,221.94 323.83,221.63 324.18,221.32 324.54,221 324.89,220.69 325.25,220.37 325.6,220.05 325.96,219.73 326.32,219.41 326.69,219.08 327.06,218.75 327.42,218.42 327.79,218.09 328.17,217.76 328.54,217.42 328.92,217.08 329.3,216.74 329.68,216.4 330.06,216.05 330.44,215.7 330.83,215.36 331.22,215 331.61,214.65 332,214.29 332.39,213.94 332.79,213.58 333.19,213.22 333.59,212.85 333.99,212.49 334.39,212.12 334.8,211.75 335.21,211.38 335.62,211 336.03,210.63 336.44,210.25 336.86,209.87 337.28,209.49 337.7,209.1 338.12,208.72 338.54,208.33 338.97,207.94 339.39,207.55 339.82,207.15 340.25,206.76 340.68,206.36 341.12,205.96 341.55,205.56 341.99,205.16 342.43,204.75 342.87,204.34 343.32,203.93 343.76,203.52 344.21,203.11 344.66,202.7 345.11,202.28 345.56,201.86 346.01,201.44 346.47,201.02 346.93,200.59 347.39,200.17 347.85,199.74 348.31,199.31 348.78,198.88 349.24,198.44 349.71,198.01 350.18,197.57 350.65,197.13 351.13,196.69 351.6,196.25 352.08,195.8 352.56,195.36 353.04,194.91 353.52,194.46 354,194.01 354.49,193.55 354.98,193.1 355.47,192.64 355.96,192.18 356.45,191.72 356.94,191.26 357.44,190.79 357.94,190.33 358.44,189.86 358.94,189.39 359.44,188.92 359.94,188.45 360.45,187.97 360.96,187.5 361.47,187.02 361.98,186.54 362.49,186.05 363,185.57 363.52,185.09 364.04,184.6 364.56,184.11 365.08,183.62 365.6,183.13 366.12,182.63 366.65,182.14 367.18,181.64 367.7,181.14 368.23,180.64 368.77,180.14 369.3,179.63 369.84,179.13 370.37,178.62 370.91,178.11 371.45,177.6 371.99,177.09 372.54,176.57 373.08,176.06 373.63,175.54 374.17,175.02 374.72,174.5 375.27,173.98 375.83,173.45 376.38,172.93 376.94,172.4 377.49,171.87 378.05,171.34 378.61,170.81 379.18,170.27 379.74,169.74 380.3,169.2 380.87,168.66 381.44,168.12 382.01,167.58 382.58,167.03 383.15,166.49 383.73,165.94 384.3,165.39 384.88,164.84 385.46,164.29 386.04,163.73 386.62,163.18 387.21,162.62 387.79,162.06 388.38,161.5 388.96,160.94 389.55,160.38 390.14,159.81 390.74,159.25 391.33,158.68 391.93,158.11 392.52,157.54 393.12,156.96 393.72,156.39 394.32,155.81 394.93,155.24 395.53,154.66 396.14,154.08 396.74,153.49 397.35,152.91 397.96,152.32 398.57,151.74 399.19,151.15 399.8,150.56 400.42,149.97 401.04,149.37 401.65,148.78 402.28,148.18 402.9,147.58 403.52,146.98 404.15,146.38 404.77,145.78 405.4,145.18 406.03,144.57 406.66,143.96 407.29,143.36 407.92,142.74 408.56,142.13 409.2,141.52 409.83,140.9 410.47,140.29 411.11,139.67 411.75,139.05 412.4,138.43 413.04,137.81 413.69,137.18 414.34,136.56 414.99,135.93 415.64,135.3 416.29,134.67 416.94,134.04 417.6,133.41 418.25,132.77 418.91,132.14 419.57,131.5 420.23,130.86 420.89,130.22 421.55,129.58 422.22,128.94 422.88,128.29 423.55,127.64 424.22,127 424.89,126.35 425.56,125.7 426.23,125.04 426.91,124.39 427.58,123.73 428.26,123.08 428.94,122.42 429.62,121.76 430.3,121.1 430.98,120.44 431.66,119.77 432.35,119.11 433.03,118.44 433.72,117.77 434.41,117.1 435.1,116.43 435.79,115.75 436.49,115.08 437.18,114.4 437.88,113.73 438.57,113.05 439.27,112.37 439.97,111.69 440.67,111 441.38,110.32 442.08,109.63 442.79,108.94 443.49,108.26 444.2,107.57 444.91,106.87 445.62,106.18 446.33,105.49 447.04,104.79 447.76,104.09 448.47,103.39 449.19,102.69 449.91,101.99 450.63,101.29 451.35,100.58 452.07,99.88 452.8,99.17 453.52,98.46 454.25,97.75 454.98,97.04 455.7,96.32 456.43,95.61 457.17,94.89 457.9,94.17 458.63,93.45 459.37,92.73 460.11,92.01 460.84,91.29 461.58,90.56 462.32,89.84 463.06,89.11 463.81,88.38 464.55,87.65 465.3,86.92 466.05,86.19 466.79,85.45 467.54,84.72 468.29,83.98 469.05,83.24 469.8,82.5 470.55,81.76 471.31,81.01 472.07,80.27 472.83,79.52 473.59,78.78 474.35,78.03 475.11,77.28 475.87,76.53 476.64,75.77 477.4,75.02 478.17,74.26 478.94,73.51 479.71,72.75 480.48,71.99 481.25,71.23 482.03,70.46 482.8,69.7 483.58,68.93 484.35,68.17 485.13,67.4 485.91,66.63 486.69,65.86 487.48,65.09 488.26,64.31 489.04,63.54 489.83,62.76 490.62,61.98 491.41,61.2 492.2,60.42 492.99,59.64 493.78,58.86 494.57,58.07 495.37,57.29 496.16,56.5 496.96,55.71 497.76,54.92 498.56,54.13 499.36,53.33 500.16,52.54 500.97,51.74 501.77,50.95 502.58,50.15 503.38,49.35 504.19,48.55 505,47.74"/>
</g>
<defs><clipPath id="bclip"><rect x="302.5" y="37.25" width="202.5" height="200.85"/></clipPath></defs>
<g font-size="3.6" fill="#333" stroke="none" clip-path="url(#bclip)" text-anchor="middle">
<g transform="translate(408.61 62.2) rotate(-50.29)"><rect x="-7.2" y="-1.5" width="14.4" height="3" fill="#fff"/><text x="0" y="1.25">P = 1e-100</text></g>
<g transform="translate(474.62 142.84) rotate(-43.11)"><rect x="-7.2" y="-1.5" width="14.4" height="3" fill="#fff"/><text x="0" y="1.25">P = 1e-100</text></g>
<g transform="translate(436.96 52.71) rotate(-47.41)"><rect x="-7.2" y="-1.5" width="14.4" height="3" fill="#fff"/><text x="0" y="1.25">P = 1e-50</text></g>
<g transform="translate(486.77 107.59) rotate(-44.11)"><rect x="-7.2" y="-1.5" width="14.4" height="3" fill="#fff"/><text x="0" y="1.25">P = 1e-50</text></g>
<g transform="translate(424 78.38) rotate(-47.28)"><rect x="-7.2" y="-1.5" width="14.4" height="3" fill="#fff"/><text x="0" y="1.25">P = 1e-30</text></g>
<g transform="translate(480.7 101.7) rotate(-44.08)"><rect x="-7.2" y="-1.5" width="14.4" height="3" fill="#fff"/><text x="0" y="1.25">P = 1e-30</text></g>
<g transform="translate(448.3 62.06) rotate(-46.08)"><rect x="-7.2" y="-1.5" width="14.4" height="3" fill="#fff"/><text x="0" y="1.25">P = 1e-20</text></g>
<g transform="translate(490.83 82.33) rotate(-44.47)"><rect x="-7.2" y="-1.5" width="14.4" height="3" fill="#fff"/><text x="0" y="1.25">P = 1e-20</text></g>
<g transform="translate(438.99 79.94) rotate(-45.91)"><rect x="-7.2" y="-1.5" width="14.4" height="3" fill="#fff"/><text x="0" y="1.25">P = 1e-10</text></g>
<g transform="translate(442.23 121.28) rotate(-43.7)"><rect x="-7.2" y="-1.5" width="14.4" height="3" fill="#fff"/><text x="0" y="1.25">P = 1e-10</text></g>
<g transform="translate(468.55 56.61) rotate(-45.2)"><rect x="-7.2" y="-1.5" width="14.4" height="3" fill="#fff"/><text x="0" y="1.25">P = 1e-05</text></g>
<g transform="translate(474.62 83.41) rotate(-44.42)"><rect x="-7.2" y="-1.5" width="14.4" height="3" fill="#fff"/><text x="0" y="1.25">P = 1e-05</text></g>
<g transform="translate(480.7 50.39) rotate(-44.95)"><rect x="-7.2" y="-1.5" width="14.4" height="3" fill="#fff"/><text x="0" y="1.25">P = 1e-03</text></g>
<g transform="translate(424 127.21) rotate(-44.11)"><rect x="-7.2" y="-1.5" width="14.4" height="3" fill="#fff"/><text x="0" y="1.25">P = 1e-03</text></g>
</g>
<path d="M394.1 125.7h0M396.8 136.1h0M339.9 135.3h0M317.7 216.8h0M311 40.8h0M342.4 180.5h0M429.7 107.1h0M329.9 153.6h0M349.4 192.4h0M361 224h0M496.3 45.4h0M501.4 41.5h0M383 223.4h0M354.5 156h0M316.4 227.9h0M463.9 202.4h0M393.1 199.8h0M385.8 151.7h0M472.2 51h0M345.2 158.9h0M432.5 217.9h0M345.7 186.2h0M324.4 223.6h0M501.3 50h0M400.5 122.7h0M339.5 207.1h0M444.9 82.3h0M494.9 60.9h0M500.4 47.7h0M477.7 80.9h0M352.6 196h0M415.8 66.9h0M306.3 235.2h0M406.2 111.1h0M329.1 165.4h0M501 106.2h0M497.5 233.8h0M317.7 128.4h0M484.8 90.1h0M421.9 81.3h0M387 79.3h0M433.8 134.3h0M425.8 222h0M503.6 61.4h0M381.2 90.5h0M438.4 71.5h0M399.9 191.9h0M403.2 114.7h0M436.9 99h0M343.5 204h0M436.1 149.3h0M381.9 143.8h0M480.8 160.9h0M497.5 95.2h0M474.4 95.3h0M356.2 180.8h0M460.1 57.3h0M308.1 231h0M465.3 81.6h0M306.2 231.9h0M331 228.7h0M392.9 111.6h0M466 45.6h0M306.6 237.9h0M365.2 190.9h0M407.9 114.7h0M382.2 79h0M320.2 50.8h0M328.8 147h0M486.8 162.4h0M480.6 78.1h0M433.5 78h0M468.2 109.2h0M345.7 57.3h0M500.4 130.3h0M367.4 55.3h0M412.5 126.1h0M478.4 91.3h0M337.5 170.8h0M439.3 83.1h0M494 139.2h0M372.7 191.2h0M483.2 78.4h0M379.7 68.3h0M344.7 67.2h0M414.5 133.9h0M443.6 100.5h0M487.6 37.3h0M472.1 78.7h0M354 212.2h0M353.5 210.7h0M377.8 170h0M355.9 190.5h0M388.9 172.8h0M334.8 197.1h0M431.8 131.7h0M444.9 81.8h0M360.6 169.2h0M353.7 192.7h0M490 89.8h0M328 157.2h0M306.1 197.7h0M395.8 127.6h0M456 137.1h0M314.7 235.2h0M346.8 200.1h0M472.6 39.2h0M321.8 225.7h0M408.2 155.4h0M424.2 235.4h0M453.4 90.8h0M383.4 112.4h0M464.8 96.6h0M430 156.9h0M404.6 40.7h0M354.8 55.1h0M481.5 55.5h0M480.7 98.5h0M457.5 156.6h0M428.9 191.5h0M437.4 170.2h0M432.6 97.3h0M501 233.5h0M311.2 226.5h0M322.4 187.7h0M413.9 136.1h0M417.5 38.2h0M466.4 222.8h0M456.2 229h0M393 128.8h0M426.3 226.3h0M387.7 132.3h0M376.5 180.7h0M416 181.2h0M307.2 225.6h0M381.5 57.8h0M312.7 39.5h0M384.4 127.4h0M494.7 52.2h0M500.7 74.1h0M352.3 205.7h0M397.8 154.8h0M471.6 93.4h0M410 37.7h0M479.6 55.1h0M375.2 183.6h0M416.9 119.3h0M315.5 226.6h0M311.8 218.2h0M320 102.3h0M352.4 202.9h0M449.6 59h0M389.4 153.8h0M377.2 106.8h0M368.4 127.9h0M311.7 208.2h0M433.7 141.6h0M344.5 194.1h0M452.7 95.8h0M331.4 166.2h0M376.7 214.5h0M417.8 53.6h0M487.5 150.1h0M353.9 190.6h0M367.5 196.7h0M387.3 145.1h0M335.5 211.2h0M353.5 195.1h0M354.7 192.2h0M337.8 218.1h0M358.2 203.8h0M336.4 210h0M317.6 222.3h0M436.3 106.1h0M320 228.8h0M316.5 236.2h0M379.2 176.4h0M388.8 134.8h0M333.9 205.9h0M322.5 205.6h0M352.4 184.5h0M320 223.4h0M329.6 211.5h0M396.1 145h0M347.5 192.1h0M380.2 159.8h0M376.3 183.1h0M452.2 99h0M379.8 182.3h0M329.1 216.7h0M455.1 113.9h0M373.6 180.5h0M407.2 123.7h0M401.9 108.1h0M413.7 140.1h0M366.3 180.6h0M423 133.5h0M329.6 201.5h0M380 147h0M305.5 234h0M344.5 204.2h0M325.5 212.4h0M307.1 234.2h0M337.3 213.4h0M391.2 147.8h0M328.7 222.4h0M323.5 215.3h0M310.6 227.3h0M327.9 211.5h0M350.6 193.6h0M387 152.8h0M344 198.2h0M341.4 199.1h0M369.5 193.6h0M342.1 206.7h0M305.1 227.9h0M401.1 150.8h0M363.3 162.9h0M322.1 218.2h0M316.1 211.2h0M345.1 205.5h0M359.9 190.9h0M304.7 230h0M308.3 232.3h0M314.7 231.2h0M311.8 226.2h0M404.1 144.4h0M323.9 212.8h0M350.8 191.6h0M445 120.6h0M309.7 226.7h0M305.5 236.7h0M310.5 230.2h0M304.5 233.4h0M414 124.6h0M327.5 215h0M397.2 129.5h0M358.7 209.5h0M342.4 214.9h0M372.7 176.3h0M426 146.5h0M363.5 155.8h0M365.9 170.9h0M385 164.5h0M307.6 231.1h0M352.1 190.7h0M328.1 216h0M372.2 171.7h0M363.4 180h0M334.8 214.1h0M336.5 183.6h0M328.1 213.5h0M313.8 232.7h0M372.9 166.9h0M386.8 156.6h0M307.8 231.2h0M390.7 154.2h0M368.7 182.9h0M317.7 226.4h0M360.1 185.8h0M342.9 192.4h0M411.5 148h0M452.3 114.8h0M347.5 203.4h0M404.5 129.6h0M317.2 213.9h0M358 185h0M350.3 207.3h0M376.1 170.1h0M317.7 222.4h0M336.1 197.1h0M337.3 180.3h0M374 181.4h0M342.1 209.2h0M387.6 147.3h0M363.4 184h0M354.3 173.9h0M310.8 233.8h0M473.8 61.7h0M395.9 147.7h0M311.5 231.4h0M356 188.4h0M331.2 217.1h0M353.5 182h0M423.7 125.3h0M326 212.8h0M449.4 107.7h0M322.6 222.3h0M502.4 68.2h0M311.9 226.9h0M332.5 194.6h0M332.7 206.8h0M327.9 212.5h0M389.6 156h0M351.9 178.5h0M331.2 214.1h0M308.9 229.2h0M306.1 230.2h0M355.4 199.3h0M334.4 208.4h0M427.9 82h0M309.3 233.1h0M320.8 217.1h0M346.7 187.3h0M339.4 217.2h0M353.9 181h0M375.9 162.1h0M307 227.5h0M463.1 54.5h0M340.5 205.8h0M393.5 149h0M375.9 185.2h0M361.9 170.4h0M308 234.7h0M312 233.3h0M354.1 180h0M372.9 169.8h0M391.4 160.3h0M372.7 147.5h0M318.7 209h0M439.7 117.4h0" stroke="#cc4a66" stroke-width="1" stroke-linecap="square" stroke-opacity="0.5" fill="none"/>
<path d="M356.2 237.8h0M302.8 142.7h0M362.3 237.8h0M429.2 237.8h0M302.8 237.1h0M395.9 237.8h0M307.7 237.8h0M302.8 187.6h0M368.1 237.8h0M344.7 237.8h0M302.8 156.8h0M358 237.8h0M316 237.8h0M302.8 179.8h0M342.8 237.8h0M346.4 237.8h0M302.8 132.6h0M379.7 237.8h0M380.3 237.8h0M302.8 201.7h0M404.8 237.8h0M320.2 237.8h0M302.8 148.4h0M333.8 237.8h0M318.5 237.8h0M302.8 204.8h0M395.6 237.8h0M371.6 237.8h0M302.8 191.4h0M338.8 237.8h0M376.8 237.8h0M302.8 121.8h0M327.6 237.8h0M365.5 237.8h0M302.8 218.7h0M356.4 237.8h0M407.2 237.8h0M302.8 208h0M323.5 237.8h0M342.7 237.8h0M302.8 46.3h0M349 237.8h0M302.7 237.8h0M302.8 216.4h0M370.9 237.8h0M368.5 237.8h0M302.8 205.8h0M377.2 237.8h0M386.8 237.8h0M302.8 218.7h0M308.3 237.8h0M343.9 237.8h0M302.8 50.8h0M304.4 237.8h0M315.5 237.8h0M302.8 220h0M367.8 237.8h0M383.1 237.8h0M302.8 186.6h0M448.1 237.8h0M375.2 237.8h0M302.8 160.2h0M449.5 237.8h0M304.1 237.8h0M302.8 202.8h0M341.5 237.8h0M320.2 237.8h0M302.8 136.5h0M383.1 237.8h0M463 237.8h0M302.8 151.4h0M396 237.8h0M396.2 237.8h0M302.8 157.5h0M336 237.8h0M329.9 237.8h0M302.8 193.6h0M421.9 237.8h0M350.8 237.8h0M302.8 227.3h0M421.7 237.8h0M378.2 237.8h0M302.8 150.5h0M445.7 237.8h0M333.8 237.8h0M302.8 180.3h0M478.3 237.8h0M359.1 237.8h0M302.8 215.8h0M329.6 237.8h0M311.8 237.8h0M302.8 140.8h0M320.1 237.8h0M333.3 237.8h0M302.8 225h0M362.6 237.8h0M335.2 237.8h0M302.8 208.5h0M435.2 237.8h0M368 237.8h0M302.8 188.8h0M318 237.8h0M447.4 237.8h0M302.8 150.7h0M321.4 237.8h0" stroke="#d03050" stroke-width="1" stroke-linecap="square" stroke-opacity="0.5" fill="none"/>
<path d="M343.8 196h0M311.8 230.5h0M338.5 201.7h0M351.2 190.4h0M318.7 222.8h0M323.1 217.2h0M310.4 230.7h0M391.9 151.1h0M356.3 186.5h0M309.2 231.1h0M317.6 225.4h0M488.4 52.5h0M480 66.2h0M345.2 195.3h0M320.8 216.4h0M355.7 177.8h0M368.9 175h0M470.2 65.5h0M422.3 115h0M435.5 101.7h0M358.3 187h0M492.5 51.3h0M373.5 166.5h0M431.6 114.2h0M342 199.1h0M389.7 154.9h0M363.6 176.9h0M319.5 221.9h0M417 125.1h0M360.4 180.8h0M370.1 174.3h0M310.4 227.3h0M372.2 171.3h0M343.6 201.5h0M311.9 229.4h0M446.4 99.1h0M356.9 184.6h0M315.5 226.1h0M375.9 161h0M394.1 144.9h0M426.2 109.1h0M327.9 215.1h0M320.2 223.4h0M337.8 199.1h0M433.5 110.2h0M377.2 166.3h0M392.2 149.7h0M348.1 188.5h0M471.4 66.9h0M312.3 229.3h0M480.3 56.3h0M496.9 48.5h0M456.5 79.4h0M487 48.1h0M435.4 98.2h0M381.6 162.5h0M337.4 201.5h0M389.9 153.8h0M325.1 214.7h0M415.4 122.2h0M361.7 180.1h0M488.8 49.9h0M330.3 206.5h0M308.8 231.3h0M501.4 44.3h0M494.7 39.6h0M496.9 46.9h0M313.1 225.5h0" stroke="#2f3566" stroke-width="1.15" stroke-linecap="square" stroke-opacity="0.85" fill="none"/>
<path d="M334.1 205.3h0M444.7 102.7h0M428.8 119.1h0M305.9 234.5h0M472.1 72.3h0M346.3 194.5h0M318.2 225.8h0M335 204.8h0M323 220.9h0M330.2 213.3h0M356.9 178.9h0M439 103h0M400.3 143.9h0M318 222.6h0M341.8 193.9h0M302.5 238.1h0M469.6 72.8h0M356.1 183.3h0M319.8 219.4h0M315.4 223.7h0M307.9 232.6h0M384 158.3h0M355.6 183.5h0M429.4 114.8h0M372.6 171.2h0M455.2 86.3h0M393.5 147.2h0M322 218.8h0M357.3 192.2h0M439.9 97.7h0M379.5 165.6h0M452 94.2h0M473.4 72.6h0M363.6 175.9h0M400.6 136.1h0M324.2 212.6h0M323.1 207.5h0M314.9 227.8h0M331 207.6h0M328.2 215.6h0M347.2 191.7h0M321.3 219.1h0M320.1 220.9h0M350.1 186.6h0M432.6 103.6h0M393.9 151h0M383.4 167.2h0M382.9 161.9h0M371.7 169.6h0M493.5 48h0M343.4 191.6h0M344 195.8h0M388.9 146.5h0M313.1 229h0M307.4 234.1h0M330.6 207.5h0M496.6 45.9h0M325.6 215.1h0M427.6 109.3h0M335.5 205.8h0M390.5 161.7h0M461.7 79.3h0M330.2 207h0M388.5 140.6h0M307.2 232.7h0M306.8 233h0M363.3 173.5h0M342 197.7h0M447.4 89.7h0M372.9 165.7h0M482.1 61.9h0M336.3 200.6h0M382.1 158.4h0M465.3 73.3h0M306 235h0M338.3 205.3h0M331.3 210.2h0M361.3 181h0M304.8 235.8h0M326.5 207.7h0M357.5 187.7h0M457.4 76.9h0M464.5 71.9h0M424.7 122.5h0M320.3 218.3h0M310.2 229h0M385 154.8h0M482 70.1h0M350.1 189.2h0M490.7 49.2h0M372 172h0M311.9 229h0M333.7 208.3h0M345 190.7h0M308.7 233.5h0M414.7 120.1h0M308.7 230.9h0M303.5 237.1h0M366.5 176.4h0M365.8 178.9h0M401.6 137.9h0M333.4 204.6h0M347.5 188.2h0M350.3 191.2h0M330.9 206h0M329.8 213.9h0M370.9 169.6h0M356.4 186.1h0M457 82h0M326.7 218.3h0M417.9 127.3h0M333.1 206h0M382.9 160.5h0M435.8 104.9h0M360.8 179.8h0M360.3 186.3h0M342.6 195.9h0M380.8 161h0M306.5 233.8h0M309.4 229.6h0M445 99.2h0M367.6 172.7h0M365.3 170.2h0M385.1 160.1h0M337.7 202.7h0M477.5 68.2h0M311.2 229.2h0M442.4 103.9h0M358.5 180.6h0M339.4 202.7h0M320.8 222.2h0M307.9 233.7h0M345.6 192h0M414.5 120.4h0M342.7 198.9h0M326.5 213.6h0M303.1 237.5h0M343.5 195.8h0M359.4 176.4h0M353.4 175.1h0M323.6 214.4h0M327.7 208h0M402.7 138.4h0M491.4 51h0M339.3 205.1h0M407.1 126.4h0" stroke="#d04a6a" stroke-width="1.15" stroke-linecap="square" stroke-opacity="0.85" fill="none"/>
<path d="M362.2 176.3h0M456.7 85.6h0M347.6 188.4h0M304.7 236.2h0M372.5 165.3h0M407.6 129.9h0M416.6 120.7h0M319.6 219.8h0M320.7 221.7h0M470.4 70.3h0M368.5 165.1h0M303.5 237.4h0M310.7 229.4h0M339 200.7h0M418.8 121.1h0M354.5 191.1h0M309.7 231.1h0M477.8 62.2h0M376.4 173.4h0M346.1 199.4h0M397.5 142.7h0M372.1 174h0M339.7 205.1h0M469.8 66.4h0M371 166.6h0M310.7 229.4h0M441.3 92h0M477.3 66.8h0M440.5 103.9h0M394.5 159h0M306.9 234.6h0M477.1 67.7h0M460.5 85.2h0M374.8 160.9h0M353.2 188.8h0M393.1 142.5h0M366 172.6h0M341.9 198.1h0M498.6 42.7h0M318.1 222.6h0M491.3 56.7h0M350.2 192.9h0M312.2 229.6h0M315.2 225.4h0M324.2 216.4h0M398.7 140.3h0M407.4 136h0M497.1 41.8h0M487.7 47h0M466.3 72.3h0M496.6 39.1h0M308.9 231.6h0M377.8 164.6h0M355.8 189.6h0M307.8 233.5h0M323 214.5h0M359.3 185.3h0M329.8 211.4h0M453 85.5h0M339.9 207.8h0M352.5 191.2h0M413.7 121.2h0M376 162.1h0M376.5 167.2h0M445.7 97.1h0M377.4 155.5h0M406.2 131.1h0M390.5 151.2h0M417.8 118.2h0M317.4 225.5h0M405.6 136.8h0M320.7 218.4h0M352.9 185.3h0M332.5 208.6h0M479.7 54.6h0M328.1 209.4h0M362.6 183h0M433.8 110.8h0M457.3 79.5h0M400.8 134.1h0M337.4 201.7h0M373.1 164.2h0M322.4 218.6h0M311.9 230.1h0" stroke="#4f95b0" stroke-width="1.15" stroke-linecap="square" stroke-opacity="0.85" fill="none"/>
<path d="M308.7 232.6h0M375.6 169.5h0M340.7 201.5h0M344.5 194h0M319.2 219.7h0M347.8 196.7h0M458.4 85h0M491.6 46.7h0M378.4 170h0M341.9 200h0M427.5 116h0M477.7 64.3h0M310.8 227.8h0M398 136.9h0M327.4 214.3h0M458 85.2h0M385.2 150.3h0M453.6 81.4h0M446.2 98.4h0M442.7 96.6h0M378.5 160.7h0M303.7 236.9h0M426.6 118.8h0M332.3 211.9h0M451.2 93.1h0M384.4 162h0M420.2 113.8h0M403.3 135.6h0M314.5 224.8h0M330.8 207.4h0M364.9 171.5h0M304.5 236.1h0M504.9 38h0M383.8 152.6h0M303 237.6h0M402.4 137.4h0M309.4 231.8h0M340.7 197.5h0M333.7 208.3h0M394 152.4h0M422.4 115.4h0M328.2 209.7h0M341.2 196.8h0M331.5 207.2h0M306.7 232.8h0M492.1 42.2h0M414.2 121.2h0M430.8 104.6h0M311.3 229.2h0M361.6 174.9h0M337.3 209.3h0M445.9 94.2h0M306.5 233.8h0M342.6 202.8h0M332.4 210.9h0M490.8 53.3h0M414.5 129.7h0M324.4 218.8h0M306.5 234h0M504.2 39.6h0M381.4 162h0M504.7 37.5h0M323.1 218h0M349.3 193.1h0M309.7 231.1h0M442.5 90h0M421.2 115.7h0M364.8 167.8h0M333.9 204.4h0M347.9 188.8h0M438.2 97.6h0M386.9 155.9h0M356.9 183.7h0M328.1 213.2h0M307.7 232.2h0M338.3 201.8h0M391.6 150h0M322.8 216h0M445.4 91.4h0M388.1 153.7h0M504.5 39.3h0M319.1 223.3h0M381.9 152.5h0M352.7 188.5h0M497.1 47.4h0M323.1 215.6h0M499.9 37.6h0M333.4 209.5h0M486.2 50.3h0M340.5 195.1h0M306.8 234.8h0M399.3 140.3h0M321.4 215.6h0M318.6 221.6h0M400.4 141h0M446.6 99.5h0M371.4 164.4h0M465.4 78.2h0M329.8 209.7h0M413.5 125h0M320.3 217.4h0M427.2 111.4h0M365.2 180.5h0M382 161.7h0M334.7 209.1h0M304.9 235.6h0M413.3 130.4h0M337.6 206.6h0M421.4 113.9h0M384 162.1h0M303.9 236.9h0M429.2 114.8h0M316.2 221.5h0M373.5 167.5h0M491 39.4h0M304.3 235.9h0M435.1 100.2h0M431 103.5h0M481.3 51.8h0M474.8 68.5h0M493.4 42.7h0M394.6 148h0M359.8 178h0M415.5 127.9h0M463.2 73.9h0M433.1 108.7h0M368.7 180.1h0M480 62.5h0M426.7 109h0M467.8 72h0M497 39.1h0M368 171.5h0M498.8 40.2h0M496.5 45.9h0M495.7 46.2h0M495 51.3h0" stroke="#7598cc" stroke-width="1.15" stroke-linecap="square" stroke-opacity="0.85" fill="none"/>
<path d="M423.6 108h0M338.8 202.6h0M469.6 64.5h0M469.9 68h0M388 154.6h0M305 235.8h0M392.6 151.1h0M364.9 173.2h0M466.5 77.6h0M431.6 106.7h0M359.9 176.9h0M442.1 102.2h0M473.2 65.9h0M393 150.1h0M355.2 181.6h0M414.6 127.6h0M307.4 233.5h0M397 149.4h0M426.7 114.6h0M373.6 166.6h0M343.5 193.4h0M503.3 37.4h0M470.9 68.1h0M406 143h0M459.1 89.7h0M303.7 236.7h0M414 124.5h0M423.9 124.7h0M405.1 139.1h0M451.4 92.4h0M393.8 140.8h0M302.6 238h0M487.4 50.4h0M480.4 63.1h0M404.6 139.1h0M343.8 199.7h0M455.5 90.3h0M469.4 69.7h0M411.8 133.1h0M368.9 169.5h0M313.7 228.3h0M384.2 160.8h0M346.6 192.6h0M373.2 167.5h0M416.4 118.4h0M487.3 49.3h0M439.9 105.2h0M431.5 110.9h0M430.4 115.2h0M444.9 98.8h0M365.5 176.1h0M389.6 155.9h0M406.3 134.6h0M479.9 64h0M462.6 87.9h0M468.2 73.3h0M365.9 177.8h0M391.4 150.2h0M442 97.7h0M366.3 181.1h0M450.2 92.5h0M504.4 40.1h0M412.6 120.4h0M483 57.2h0M321.8 215.2h0M477.1 60.3h0M439.2 97.5h0M467.4 78.8h0M376.1 164.7h0M404 138.7h0M424 110.9h0M410.3 133.3h0M480.4 53.8h0M429.4 107.4h0M306.6 233.5h0M329.1 210.5h0M381.6 158.5h0M490.3 49.4h0M384.2 152.5h0M413.6 122.8h0M310.1 231h0M484.1 51h0M363.6 188.4h0M332.4 204.1h0M346.8 197.1h0M344.2 190.7h0M380.8 165.4h0M430.2 111.1h0M413.7 125.9h0M418.3 123.7h0M309.5 231.7h0M469.5 65.3h0M455.2 78.2h0M461.3 75.4h0M490.4 55.2h0M334.3 206.4h0M478.3 66.7h0M369.8 165.4h0M360.1 182.5h0M392.1 153.8h0M461.7 76.4h0M459.7 85.7h0M424.8 114.9h0M408.8 131.4h0M477.6 58.3h0M462.6 73.3h0M387.9 151.7h0M489.6 50.8h0M418.7 125.2h0M486 49.6h0M334.5 202.3h0M344.6 193.1h0M351.9 191.5h0M405.1 134.4h0M326.3 217.5h0M473.6 60.3h0M471.6 74.5h0M440.6 101.5h0M420.2 116.1h0M322.4 219.3h0M422.4 120.5h0M483.1 62.5h0M459 82h0M408.2 128.1h0M385.7 153h0M327.1 213.7h0M420.3 115.6h0M404.5 141.1h0M336.2 201.1h0M491.1 49.5h0M413.4 128.7h0M338.4 204h0M448.7 91.3h0M420.2 126.3h0M411.3 124.7h0M463.2 87.1h0M498.1 52.2h0M349.7 191.5h0M465.4 69.3h0M420.1 115.4h0M495.6 53.1h0M473.3 68.3h0M396.9 143.9h0M317 223.5h0M448.5 93.9h0M406.9 131h0M492.4 52.2h0M382.9 159.8h0M400.6 135.7h0M462.3 89.1h0M412.7 121.8h0M353.3 192h0M311.6 228.2h0M452.8 84.3h0M374 168.5h0M370.4 168.8h0M308.8 232.9h0M359.5 176.3h0M371.4 173h0M434.7 103.9h0M400.5 137.4h0M408.6 127.2h0M361.8 181.1h0M397.1 139.8h0M440.1 104.1h0M345.7 199.4h0M443.1 102.2h0M449.3 71.7h0M430.5 105.7h0M359.9 172.5h0M490.1 51.8h0M462.2 73.5h0M467.5 70.5h0M492.7 52.3h0M442.8 98.3h0M367.9 174.3h0M416.7 129.7h0M470.4 76h0M374 163.3h0M354.4 189.9h0M350.1 192h0M459.8 77.7h0M348.2 192.8h0M340 203.6h0M456.2 89.2h0M403.7 130.7h0M328.2 209.8h0M374.7 167.6h0M375 170h0M437.1 106.5h0M427.5 110h0M487.4 55.4h0M322.9 215h0M339.7 203.5h0M503.6 41.5h0M402.5 136.9h0M357.4 182.6h0M371 171.1h0M311.2 228h0M478 69.3h0M423.9 119h0M343.1 196.8h0M376.8 165h0M355.9 183.5h0M443.2 97.3h0M380.6 162.1h0M437 100.9h0M436 104h0M414.8 119.7h0M473.3 71h0M312.8 227.8h0M460.8 75.3h0M312.1 229.2h0M399.6 136h0M373.9 169.9h0M502 41.4h0M423.6 113.7h0M409.8 131.8h0M441.1 101.7h0M445.9 84.6h0M423.3 112.7h0M485.8 53.1h0M487 48.3h0M328 216.7h0M339.1 200.8h0M448.6 90h0M454.9 94.3h0M358.4 169.9h0M329.7 213.3h0M333.8 210.5h0M442 96.9h0M349 188.4h0M345.4 197.7h0M394.8 145.5h0M383.2 154.4h0M349.4 195.8h0M489.7 55.7h0M370.1 172.5h0M462.1 81h0M429.2 115.6h0M500.7 45.1h0M352.6 176.4h0M393.1 141.5h0M351.6 187.1h0M305.6 235.6h0M341 197h0M393.6 152.8h0M320.5 220.2h0M468.4 68.9h0M436.7 101.2h0M455.9 90.4h0M307.1 234.4h0M392 145.1h0M409.1 131.2h0M340.1 199.7h0M371.2 173.1h0M369.7 174h0M481.1 63h0M358 178.1h0M490.2 48.6h0M348.1 192.9h0M502.1 42.3h0M488.8 45.4h0M501.2 41.3h0M495.3 44.6h0M487.8 52.1h0M488.8 49.4h0M497.8 45.6h0M492.9 45.3h0" stroke="#b8c8e8" stroke-width="1.15" stroke-linecap="square" stroke-opacity="0.85" fill="none"/>
<path d="M364.7 179.8h0M302.6 238h0M320.5 220.7h0M351.7 191.3h0M417.9 123.3h0M346 194.2h0M370.2 174.3h0M368.2 167.2h0M345.2 192.4h0M433.2 108.3h0M337.5 205.8h0M480.8 66.2h0M382.5 158.9h0M318 222.8h0M308.1 232.5h0M438.9 105.7h0M371.7 174.4h0M422.3 123h0M407.4 127.8h0M312.3 226.6h0M336.4 204.1h0M341.2 204.4h0M379.4 165.8h0M384.3 152.4h0M386.6 160.2h0M362.3 182.6h0M369.1 170.4h0M425.6 114.9h0M332.1 210h0M308.4 232.2h0M394.5 137.8h0M350.5 194.6h0M392 143.9h0M362.5 174.1h0M324.6 214h0M308 234.2h0M403.8 135.3h0M310.8 229.8h0M370 171.1h0M347.8 197.1h0M399.6 142.8h0M366.6 169.3h0M397.9 141.3h0M307 234.1h0M459.8 70.2h0M345.1 191.8h0M438.8 96.5h0M390.1 150.2h0M350.2 186.1h0M329.9 214.7h0M361.6 181.6h0M321.7 215.3h0M330.7 204.6h0M348.8 191.7h0M500.1 41h0M502.5 37.3h0M418.3 127.6h0M409.2 125.9h0M423.6 122.7h0M408.7 136.7h0M356.1 182.6h0M336.8 199.4h0M357.4 182.9h0M349 195.7h0M485.5 49h0M334.2 208.2h0M502.3 42.2h0M347.1 192.7h0" stroke="#2f3566" stroke-width="1.15" stroke-linecap="square" stroke-opacity="0.85" fill="none"/>
<path d="M482.5 66.2h0M311.4 231.2h0M336.8 207.4h0M329.6 210.3h0M423.4 119.6h0M338.5 199.6h0M431.5 105.4h0M308.1 233.1h0M458.7 80.2h0M405.9 140h0M391.7 149h0M309.1 231.3h0M311.6 228.4h0M310 231.2h0M469.7 68.1h0M425 115.3h0M356.3 184.2h0M334.9 209.2h0M353.1 193.4h0M372.6 169h0M328 214.8h0M490.9 53.6h0M381.5 154.4h0M401.7 131.3h0M316.6 223.9h0M341 198.4h0M336.4 200h0M454.5 80.6h0M324.1 216h0M326.5 205.7h0M340.2 200.4h0M389.2 149.6h0M360.3 182.9h0M352.5 183h0M396 147.1h0M449.9 91.7h0M315.9 222.2h0M368.1 169.4h0M437.5 108.2h0M427.2 108.7h0M494.6 51.7h0M392.2 150.4h0M396.6 141.4h0M440.9 98.9h0M323.2 214.8h0M307.4 233.7h0M320.2 216.7h0M351.1 187.1h0M347.3 191h0M338.6 204.5h0M305.3 235.9h0M355.2 185.2h0M463.6 73.9h0M349.1 195.8h0M435.2 111.1h0M305.3 235.3h0M354.2 185.3h0M318 222.5h0M375 165.5h0M465.4 77.7h0M350.1 192.9h0M398.9 147h0M490.9 48.7h0M385.1 149.7h0M471.7 69.3h0M380 162.3h0M341.2 202.4h0M311.6 230.2h0M385.9 149.2h0M379.7 153.3h0M314.3 228.9h0M313.8 227.4h0M397.9 133h0M348.4 196.9h0M349 195.5h0M357.7 187.3h0M335.1 210.6h0M334.6 208.2h0M445 95.1h0M335.6 202.1h0M329.7 214.2h0M339.7 197.2h0M409.3 136.4h0M307.7 232h0M466.6 70.2h0M391.5 152.7h0M308.5 231.8h0M316.9 225.7h0M469.8 75.8h0M332.3 207.3h0M337.7 200.1h0M460.1 77.6h0M433 113.3h0M334.5 202.2h0M392 143.9h0M387.3 153.4h0M416 123.7h0M465.3 79.5h0M305.1 235.6h0M307.3 232.9h0M332.5 210.2h0M305 236.2h0M381.8 163.3h0M476.1 59.7h0M353.4 190.9h0M419 122.4h0M386.4 156.2h0M430.1 105.1h0M338.4 203.5h0M500.5 38h0M490.9 59.6h0M388.4 152.5h0M304.2 236.9h0M314.3 229.4h0M316.8 223.2h0M466 78.9h0M434.9 107.7h0M403.1 133.2h0M367.4 166.6h0M496.5 41.2h0M492.3 53h0M450.4 86h0M337.3 206.3h0M304.2 236.1h0M316.5 222h0M448.6 90.9h0M302.6 238h0M357.7 183.8h0M383.4 162.3h0M378.7 157.2h0M361.3 178.2h0M498.5 48.6h0M305 235.3h0M473.2 69.1h0M470.4 85.9h0M325.3 213.2h0M388.3 153.3h0M325.8 213.2h0M326 218h0M431.4 102.8h0M398.7 154.7h0M335.8 208.6h0M359.4 182.8h0M491.4 50.5h0M310.2 231h0M408.9 135.2h0" stroke="#d04a6a" stroke-width="1.15" stroke-linecap="square" stroke-opacity="0.85" fill="none"/>
<path d="M372.1 170.6h0M321.3 218.9h0M303.2 237.2h0M377.9 163.8h0M373 172.7h0M355.1 184.9h0M357.5 179.3h0M321.7 217.6h0M424.7 112.6h0M402.4 144.6h0M317.9 220.8h0M352.9 195.4h0M365 176.1h0M363.5 173.8h0M373.7 168h0M316.9 221.9h0M302.6 238h0M330.3 209.2h0M323.5 221.2h0M304.8 235.2h0M426.4 105.8h0M458 85.7h0M373.8 164.6h0M307.5 231.5h0M404.4 134.5h0M345.8 196.7h0M307.1 235.4h0M372.8 165.4h0M303.8 236.5h0M333.6 207.6h0M415.3 127.2h0M369.4 169h0M378.2 160.3h0M316.7 221.8h0M320.8 219h0M337.3 201.7h0M403.5 142.4h0M346 191.2h0M503.5 42.8h0M384.3 159.4h0M329.9 213.5h0M303.9 236.5h0M320.7 217.5h0M304.9 235.4h0M321.3 217.3h0M359.1 178.7h0M422.7 119.9h0M470.1 62.5h0M356.3 189.9h0M364.6 161.9h0M405.6 140.1h0M360.5 175.8h0M346.8 185.2h0M345.5 199.9h0M366.6 169h0M307 234.1h0M358.4 181.2h0M402 137.4h0M435.5 104.2h0M326.6 219.3h0M377.3 167.9h0M334 205.5h0M320.6 219.3h0M376.7 159.5h0M316.1 224.2h0M470.7 67.6h0M346.5 191.6h0M335.5 209.1h0M323.4 218.2h0M424.9 111.1h0M359.6 182.5h0M308.5 230.8h0M464.9 74.5h0M360.6 179.6h0M355.2 181.9h0M319.3 224h0M350.8 174h0M484.3 60.9h0M327.3 216.3h0M306.8 234.3h0M331.4 220.6h0M322.5 217.2h0M328.3 214.4h0M373.2 164.9h0" stroke="#4f95b0" stroke-width="1.15" stroke-linecap="square" stroke-opacity="0.85" fill="none"/>
<path d="M366 176.6h0M388.5 156.5h0M396.7 142.6h0M475.4 64.2h0M349.8 181.7h0M327.8 207.8h0M306.9 232.9h0M502.8 40.2h0M392.4 152.6h0M489.7 54.7h0M476.5 60.6h0M358.2 181.9h0M375 160.2h0M343.9 201.4h0M504.4 40.5h0M359.1 184.5h0M353.6 179.4h0M402.5 140.1h0M427.2 116.7h0M434.4 94.7h0M337.7 198.3h0M360.5 183.8h0M375 156.7h0M305.7 234h0M357.6 189.8h0M488.9 37.4h0M423.8 121.5h0M313.4 225.6h0M338.9 198h0M363.7 183.4h0M491.3 54.7h0M476.2 62.4h0M304.1 236.1h0M325.3 217.5h0M337.2 203h0M423.4 114.9h0M367.4 175.3h0M356.4 187.6h0M457.4 79.4h0M383.4 162.7h0M411.3 130h0M382.3 160.3h0M413.2 121.8h0M364.9 180.4h0M308.6 233h0M344 197.4h0M473.2 67.8h0M497 52.3h0M454.7 89.5h0M384.7 152.5h0M307.2 234.4h0M336.1 203.2h0M344.6 196.8h0M371.8 166.5h0M500.6 43.4h0M419.5 118.1h0M354.2 188h0M483.8 59.8h0M345.9 192.4h0M415.6 127.8h0M470.3 76.3h0M467.1 72.1h0M490.4 49.1h0M343.7 199.1h0M355.1 181.3h0M440.7 101.5h0M416.8 126.6h0M314.9 225.1h0M391.4 149h0M368.1 173.9h0M480.2 59.7h0M343.4 197.9h0M433.2 102.3h0M330.8 207.2h0M395.3 140.7h0M429.7 105.5h0M321.7 217.2h0M306.3 234.1h0M487.4 45.9h0M494.3 40.1h0M365.9 171.1h0M457.3 83.2h0M357.2 181h0M357.6 182.1h0M390.6 142.2h0M335.4 206.6h0M429.4 118.2h0M425 121.3h0M486 56.5h0M341.5 200.6h0M438 105.7h0M462 77.9h0M322.9 219.4h0M440.8 101.2h0M407.2 128.5h0M377.5 168.2h0M348.3 195.8h0M345.8 192.3h0M416.6 118.5h0M319.8 223.3h0M400.1 146.2h0M475.7 65.7h0M323.3 218.5h0M391.8 149.9h0M407 129.5h0M447.5 104h0M363.8 181.3h0M331.5 201.8h0M354 177.1h0M336.6 202.6h0M314 225.4h0M303.6 237h0M333.2 209.6h0M418.4 125.2h0M403.3 134.9h0M318.1 225.5h0M362.7 172.4h0M389.5 155.7h0M373.3 170.3h0M419.4 120.2h0M311.3 230.6h0M404.2 134.3h0M380.1 161.8h0M501.2 38.5h0M448.8 89.9h0M380 163.8h0M392.5 153.4h0M394.1 148.6h0M427.4 113.3h0M366.2 177.5h0M485.2 49.5h0M492.2 47.1h0M495.2 41.7h0M497.2 45.7h0M496.9 50.5h0M493.5 53.2h0" stroke="#7598cc" stroke-width="1.15" stroke-linecap="square" stroke-opacity="0.85" fill="none"/>
<path d="M345.8 194h0M492.2 47.8h0M361.8 180h0M430.3 114.3h0M414.9 123.1h0M407.8 129.6h0M460.6 76.9h0M351.5 190.9h0M321.6 219.7h0M387.4 158.6h0M492.7 49.8h0M383.2 157.8h0M460.5 66.9h0M441.6 100.1h0M412.5 128.1h0M495.7 41h0M354.6 183.5h0M419.2 119.7h0M459.9 85.9h0M392.5 150.5h0M381.3 165.8h0M474.4 67.4h0M364.8 174.5h0M396.4 143.2h0M404.7 141.2h0M389.6 153.1h0M457.5 78h0M403.3 138.7h0M436 106.9h0M438.5 101.6h0M440 98.7h0M389.9 146.5h0M459.3 79.4h0M364.1 178.4h0M423.6 121.5h0M438.6 108.9h0M495 48.4h0M408.7 134.9h0M358.2 177.8h0M486.2 52.5h0M384.4 151.2h0M406.1 137.4h0M423.1 114.5h0M424.7 119.1h0M483.2 59.5h0M446.8 95.3h0M375.8 161.9h0M412.1 124.3h0M477.5 66.8h0M432.4 108.9h0M414.7 130.3h0M430.7 114.9h0M433.7 106.9h0M373.5 177.8h0M496.1 45.2h0M320.7 221.2h0M457.2 88.1h0M466 80h0M433.7 114.8h0M488.7 49.8h0M406.3 137.7h0M442.7 102.2h0M442.3 96.9h0M356.3 191.7h0M377.5 166.2h0M426 110.5h0M410.1 127.4h0M366.5 179.1h0M379.8 157.7h0M394.5 153.4h0M447.6 96.3h0M502.4 37.9h0M451.4 86.8h0M346.8 199.9h0M435.1 102.5h0M394.7 141.3h0M442.1 95.6h0M490.3 55.5h0M496.6 43.5h0M337.4 204.4h0M426.7 109.2h0M321.6 222.4h0M373.3 173h0M462.4 67.4h0M358.4 181.3h0M396.7 139.8h0M415.1 122.1h0M383.9 162h0M422.5 113.1h0M370.3 167.8h0M503.5 42.6h0M412.2 127.5h0M450.4 88.2h0M415.6 122.8h0M412.6 124h0M421.1 117.4h0M411.3 138.1h0M429 113.9h0M495.5 44.3h0M446.1 98.4h0M428 109.8h0M349.5 198.5h0M443.1 106h0M319.8 217.9h0M328 212.6h0M387 148.7h0M440.7 102.2h0M354.5 188.9h0M463.4 73.6h0M405.9 139.7h0M458.1 87.6h0M413.4 129.7h0M352.7 192.4h0M359.3 175.9h0M310.3 226.4h0M387.2 158.5h0M449 90.9h0M490.9 54.9h0M365 172.5h0M448.1 96.7h0M463.5 80.3h0M377 154.4h0M403 133.1h0M432.9 110.4h0M487.6 50.1h0M402.9 141.6h0M390.7 146.5h0M422 110.8h0M431.3 106.5h0M471.7 72.4h0M461.4 86.3h0M304.4 235.9h0M320.9 219.5h0M389.9 141.1h0M437.4 107.8h0M486.9 55.8h0M374 166.8h0M495.8 42h0M337.1 200.2h0M353.5 190.9h0M379 161h0M439.6 102h0M465.9 68.6h0M437.7 107.1h0M388.5 151.9h0M463.4 72.5h0M393.1 138.5h0M357.2 184.2h0M350.6 193.4h0M313.9 224.1h0M447.1 92h0M473 59.5h0M340.3 196.4h0M391.9 154.1h0M331.4 212.3h0M362.4 183.4h0M339.1 203.8h0M379.7 159.9h0M398.4 152.6h0M349.6 194.4h0M487.6 56.5h0M348.2 189.1h0M364.4 176.4h0M474 67.5h0M327 217h0M462.3 72.8h0M370.7 171.5h0M430.6 107.2h0M411.5 134.7h0M397.5 147.3h0M460.6 78.9h0M427.3 118.5h0M326.3 210.4h0M412.1 128.9h0M376.3 161.4h0M493.7 51.8h0M342.4 200.7h0M471.9 68.6h0M416.9 119.4h0M394.7 150.1h0M382.2 154.4h0M313 229.6h0M366.4 178.4h0M434.9 101.9h0M360.5 175.3h0M488.1 49.5h0M326.2 217.8h0M334.2 207.8h0M423.3 122.7h0M470.4 77.4h0M342.2 197.1h0M426.4 101.6h0M310.7 229.5h0M420.5 120.8h0M441 103.3h0M444.6 97h0M403.3 141.4h0M479.9 62.9h0M386.7 153.9h0M490.1 47.1h0M418.2 108.9h0M322.3 221h0M451.3 86.3h0M392.4 147.5h0M400.2 144h0M423.8 113.8h0M473.4 64.4h0M426.7 117.4h0M443.7 92.2h0M375.7 172.2h0M330.8 211.5h0M460.3 85.5h0M329 216.8h0M494.5 40.8h0M349.6 191.3h0M392.7 134.5h0M500.8 41.3h0M461.8 82.9h0M468.4 77.7h0M421.8 112.5h0M476.4 60.9h0M410.5 130.2h0M450.3 93.5h0M437.6 101.7h0M410.6 126.2h0M420.7 116.6h0M398.5 138.1h0M444.6 93.1h0M415.5 121.4h0M450.7 86.4h0M434.2 104.8h0M460.2 71.8h0M442.6 98.2h0M435.6 101.6h0M342.9 198.5h0M438.4 98.8h0M334.1 206.2h0M439.9 105.6h0M430.2 109.3h0M440 95.3h0M368.9 170.3h0M464 76.3h0M394.8 148.8h0M400.4 143.9h0M373.2 170.2h0M444 96.7h0M401.6 133.6h0M455.8 95.1h0M447.4 89h0M383.6 151.6h0M319.6 222.6h0M481.8 61.3h0M366.1 170.3h0M432.6 105.3h0M364.9 179.6h0M420.1 120.2h0M412.1 120.8h0M371.3 170.4h0M484.1 60.9h0M492.9 52.4h0M491.6 48.2h0M492.1 44h0M314.1 224.4h0M333.5 205.7h0M496 50.2h0M503.3 38.5h0M490.6 46.2h0M501.9 40.5h0M313.8 228.6h0" stroke="#b8c8e8" stroke-width="1.15" stroke-linecap="square" stroke-opacity="0.85" fill="none"/>
<path d="M306.1 234.4h0M422.9 119.5h0M358.5 186.1h0M323 221.5h0M468.7 71.9h0M330.2 216.5h0M386.9 163.2h0M502.1 38.7h0M333.5 208.8h0M493.7 43.8h0M333.8 210.3h0M364.8 173.3h0M324.7 214.7h0M317.3 222.3h0M384.5 158.2h0M341.5 192.8h0M408.4 126.2h0M407.2 137.7h0M483.8 53.2h0M379.5 165.6h0M500.2 45.3h0M399.3 135.6h0M374.1 169h0M407.4 137.2h0M448.3 93.2h0M359.5 185.4h0M318.1 221.8h0M475.5 63.1h0M368.3 171.1h0M315 224.9h0M321.2 218h0M426.1 110.5h0M350.4 188.7h0M383.3 156.1h0M347.6 189.5h0M342.3 194.5h0M424 111h0M449.1 97h0M324.8 214.2h0M355.6 181.3h0M396.5 142.3h0M368.6 173.7h0M319.4 216.9h0M317.8 224.7h0M491.9 44.1h0M468.8 74.2h0M436.5 92.8h0M334.7 205h0M496.9 44.8h0M381.7 157.7h0M335 214.1h0M369.7 175.9h0M480 60.5h0M412.3 130.4h0M494.7 48.6h0M437.3 102.7h0M358.3 179.6h0M447.8 93.5h0M411.7 129.5h0M306.8 233.9h0M461.5 76.1h0M329 213.4h0M496 42.5h0M417.4 124h0M308.1 233.2h0M493.2 41.9h0M362.2 172.6h0M488.7 49.9h0" stroke="#2f3566" stroke-width="1.15" stroke-linecap="square" stroke-opacity="0.85" fill="none"/>
<path d="M350.5 183.7h0M469.3 69.6h0M490.4 47.4h0M315.6 226.4h0M391 153.6h0M455.6 86.5h0M314.9 227.6h0M441.9 90.5h0M323.2 220.2h0M461.6 81.5h0M408.7 126.7h0M313.2 228.5h0M337.7 201.5h0M416.6 119.8h0M316.8 222.2h0M352.4 183.4h0M404.4 135.3h0M375.8 166.7h0M348.8 187.2h0M395.6 144.9h0M463.8 72.5h0M366 170.1h0M322.4 217.7h0M396.4 141.6h0M331.4 207.5h0M347.8 189.5h0M490.6 49.4h0M321.1 219.3h0M357.4 183.3h0M336 201.8h0M313.4 226.7h0M335 208.7h0M346.4 196.9h0M324.9 211.2h0M340.8 204h0M443.7 92h0M365.8 176.4h0M479.6 57.7h0M452.8 79.9h0M360.1 170.1h0M375.1 167.3h0M456.5 79.8h0M321.9 222.3h0M345.3 188.7h0M335 203.1h0M365.6 161.5h0M367.8 172.4h0M449.9 95h0M309.2 229.4h0M413.6 131.7h0M360.5 178h0M489.4 53.5h0M305.9 234.6h0M312.6 229.5h0M341.7 200.9h0M343.4 198.7h0M370.6 165.5h0M335.7 201.2h0M341.1 198.3h0M394.1 147.9h0M473.8 67.1h0M391.6 147.3h0M380 160.8h0M326.1 211.7h0M315.7 222.2h0M488.5 54.2h0M324.2 213.8h0M330.2 214.9h0M387.9 155.8h0M417.6 124.3h0M405.7 132.9h0M455.1 75.8h0M482.1 60h0M364.2 176.4h0M339.3 200.1h0M396.4 138.2h0M461.7 80.5h0M321.2 218.4h0M334.6 205.8h0M324.6 216.1h0M334.7 203.4h0M390.2 146.4h0M372.3 168.7h0M313.9 225.3h0M402.4 137.9h0M325.2 218.5h0M356.7 182.7h0M358.9 179.3h0M349.6 185.5h0M490.2 48.5h0M471.3 66.8h0M479.8 58.4h0M355.4 193.2h0M310.1 231.4h0M393.3 155h0M327.2 211h0M329.7 212.1h0M381.2 163h0M366.7 178.2h0M330.8 212.7h0M490.2 55.2h0M410.3 133.8h0M372.9 163.5h0M313.6 226.2h0M493 49.7h0M308.8 231.6h0M335.7 205.7h0M477.4 60.1h0M348.4 194.8h0M467.2 75.2h0M324.1 210.7h0M323.1 218.9h0M324.1 215.2h0M431.2 114.3h0M321.1 220.4h0M402.5 136.5h0M315.5 225.7h0M459.8 83.5h0M395.4 145.5h0M498.8 38.8h0M403.6 138.4h0M377.8 157.9h0M409.2 126.4h0M315.5 226.7h0M445.7 92.9h0M304.5 236.2h0M353.5 190.5h0M391.5 144.8h0M433.9 101.7h0M400.3 148h0M440 96.3h0M488.7 59h0M467.4 67.5h0M311.3 227.8h0M408 128h0M350.1 188.8h0M361.5 179.1h0M345.7 190.8h0M344 201.2h0M318.7 220.5h0M407.1 141.3h0M342.7 187.4h0M345.8 190.1h0M408.4 136.3h0M495.3 50.6h0M316 227.1h0" stroke="#d04a6a" stroke-width="1.15" stroke-linecap="square" stroke-opacity="0.85" fill="none"/>
<path d="M357.2 182.9h0M328 209.4h0M423.1 112.9h0M379.7 169h0M325.4 216.2h0M306.5 235.1h0M316.3 228.3h0M403.4 135.8h0M388.8 147.2h0M363.3 181.5h0M375.1 162h0M328.5 215.5h0M310.6 230.5h0M308.5 230.7h0M347.8 196.4h0M336.5 200.8h0M321.4 216.9h0M346.6 194.3h0M349.3 185.8h0M401.5 137.6h0M385.8 159h0M416.9 125h0M355.6 182.2h0M305.7 234.9h0M341.2 195.2h0M423.7 116.5h0M388.9 146.5h0M404.7 133.9h0M320 218.4h0M417 125.7h0M309.7 232h0M327.5 208.9h0M424.4 109.8h0M348.1 189.2h0M355.2 189h0M317.1 221h0M360 173.7h0M336.2 203.5h0M409.5 126h0M304.5 236.2h0M451.7 92.5h0M390.6 145.8h0M414.9 121.4h0M320.5 218.7h0M375.6 165.1h0M376.9 160.5h0M317.2 221h0M323.7 212.9h0M418.3 127.2h0M344.6 194.1h0M344 191.5h0M302.6 238h0M306.9 233.6h0M356.6 184.5h0M481.2 56.3h0M310.4 228.7h0M379.5 163.2h0M357.2 179.8h0M322.9 216.4h0M492.7 45.2h0M339.4 205.3h0M305.7 234.1h0M343.4 196.1h0M306 233.7h0M356.7 181.5h0M334 201.1h0M331.8 212.7h0M404.7 131.3h0M370.1 171.8h0M316.2 222.6h0M329.1 212.7h0M424.9 110.4h0M325.1 217.1h0M380.8 147.3h0M487.4 48.7h0M341.6 195.5h0M365.5 165.9h0M327.7 209.1h0M325.3 211.7h0M323.4 217.2h0M350.6 186.2h0M346.8 188.8h0M361.9 180.8h0M422.7 117.5h0" stroke="#4f95b0" stroke-width="1.15" stroke-linecap="square" stroke-opacity="0.85" fill="none"/>
<path d="M497.7 39.7h0M428.2 108.8h0M490.1 47.4h0M445.3 91.4h0M333 209.6h0M408.5 130.9h0M383.9 161.7h0M381.7 163.3h0M360.3 178.7h0M419.5 125.3h0M495.2 45h0M484.6 58.6h0M340.3 196.7h0M371.5 173.8h0M404.5 139.1h0M351.8 186.7h0M381.9 162.4h0M369.6 173.4h0M342.4 198.3h0M370.1 174.7h0M446.8 90.7h0M491.5 58.3h0M329.6 210.9h0M459.2 75.1h0M422 113.9h0M354.9 188.5h0M473.5 54.4h0M383.3 148.6h0M477.8 68.1h0M338.7 203.6h0M335.8 204.2h0M314.3 225.7h0M343.3 196.5h0M453.9 90.1h0M391.9 147.3h0M382.2 156.4h0M429.2 116.8h0M451.7 88.1h0M342.5 201.3h0M468.8 77.3h0M397 141.5h0M313 227.6h0M359.9 176.1h0M398 142.8h0M481.5 59.1h0M329.8 210.8h0M332.2 211.7h0M329.1 213.9h0M494.7 49.7h0M345.3 197h0M490.7 46.6h0M422.5 118.8h0M407.8 128.2h0M302.8 237.8h0M330.4 213.6h0M440.7 96.7h0M367.8 176.5h0M410.7 131.4h0M316.6 226.4h0M454.1 80.9h0M477.1 65.7h0M409.2 135.2h0M347.9 194.7h0M326.3 212.5h0M483.8 54h0M392.7 151.2h0M339.2 201.8h0M345.2 196.8h0M333.7 202.4h0M471 71.7h0M435 103.3h0M328.8 215.3h0M367.7 174.5h0M499.1 44.3h0M357.2 187h0M345.1 187.9h0M310.9 229.8h0M337.2 197.2h0M315 225h0M349.7 186.3h0M461 75.4h0M338.1 200.7h0M313.9 225.6h0M464.4 73.7h0M308.8 232.4h0M437.6 103.7h0M386.1 154.5h0M340.1 205.5h0M313.3 227.6h0M311.2 231h0M306.9 234h0M409.4 125.7h0M432.9 103.7h0M341.8 203.3h0M319.4 218.7h0M476.5 65.8h0M394 149.9h0M413.8 129.6h0M463.9 81.2h0M369 166.8h0M488.5 51.5h0M350.9 193.5h0M363.9 173.3h0M452.6 88.6h0M323.7 218.2h0M402.6 140.3h0M450.6 87.3h0M406.7 137.6h0M303.1 237.6h0M396.8 149.2h0M312.9 223.3h0M334.1 207h0M317 223.1h0M352.8 189.9h0M479.3 71.5h0M325.8 214.1h0M484.1 60.7h0M458.9 78.6h0M484.9 52.1h0M317.8 221.5h0M429.2 110.1h0M477.5 66.6h0M424 124h0M460.7 73.6h0M448.5 90.2h0M499.8 43.9h0M344 197h0M502.8 37.4h0M356.2 196.8h0M499.4 40.1h0M485.4 48.8h0M500.2 48.2h0M504.5 39h0M498.7 46.2h0M489.3 48.9h0M500.2 41.2h0" stroke="#7598cc" stroke-width="1.15" stroke-linecap="square" stroke-opacity="0.85" fill="none"/>
<path d="M302.9 237.8h0M324 216h0M442.8 94.2h0M377.6 160.6h0M358.6 176.7h0M309.2 230.1h0M349 196.1h0M308.9 232.6h0M343.3 198.2h0M485.8 60h0M393.8 143.4h0M450.8 82.5h0M441.5 101.3h0M490.2 56.6h0M362.5 178h0M387.9 151.6h0M501.6 45h0M419.4 116.4h0M455.4 83.3h0M322.1 219.7h0M488.2 44.6h0M385.4 162.6h0M403.6 138.6h0M363.7 168.7h0M368.5 175.5h0M351.1 192.5h0M466.4 82.6h0M423.4 121.6h0M408.8 128h0M488.1 46.2h0M493 49.6h0M428.6 111.3h0M495.3 42.8h0M369.6 168.6h0M487.9 50.6h0M309 232.7h0M373.4 169.9h0M472.6 67.6h0M488.7 56.8h0M336.9 206.7h0M447.7 96.5h0M462.1 76.7h0M445.7 91.6h0M463.9 65.4h0M478 58.1h0M472.7 59.9h0M317.7 220.5h0M351.5 190h0M354.5 182h0M395.7 142h0M340.2 198.4h0M409.8 133.4h0M405.2 138.4h0M350 189.1h0M446.4 98.3h0M457.5 94.6h0M401.6 138.9h0M490.6 43.6h0M313 227.6h0M397.4 147.1h0M383.5 158.7h0M409.2 132.2h0M420.1 115.1h0M377 167.1h0M424.5 117.7h0M398.2 141h0M453.9 89.2h0M424.9 114.7h0M343.3 192.4h0M468.3 70.6h0M423.7 122.1h0M491.5 48.2h0M312.9 220.3h0M391.9 148.2h0M326.3 212.6h0M388.4 149.8h0M446.3 96.2h0M440.5 101h0M501.8 40.9h0M407.7 127.1h0M401.1 138.4h0M482.6 45.7h0M398.4 147.8h0M332.8 209h0M433.1 101.6h0M478.9 68.1h0M446 103.6h0M455.8 81.9h0M407.1 129h0M304.4 236.6h0M394.6 140h0M342.9 194.6h0M345.9 196.4h0M444 93.2h0M479.1 64.9h0M405.1 133.5h0M312.7 226.4h0M415.6 125.1h0M455.6 83.4h0M321.9 220.1h0M391.9 148h0M420 124.6h0M409.6 134.5h0M372.7 163.4h0M414.8 122.6h0M334.2 209.1h0M321.2 213.3h0M457.5 87.7h0M480.5 57.8h0M308.3 231.7h0M497.7 44.9h0M486.9 54.7h0M398.3 144.8h0M335.2 206.6h0M457.4 86.4h0M396.2 140.6h0M420.4 116.6h0M330.6 212.5h0M401.2 143h0M433.3 106.2h0M376.7 165.4h0M383.5 159.4h0M410.5 134.1h0M407.1 134.7h0M492.6 51.9h0M372.4 162.9h0M432.5 113h0M331.1 209.7h0M391.3 146.5h0M415.3 116.6h0M328.8 211.4h0M442.7 98.1h0M396 141.2h0M386.6 145.5h0M470.8 68h0M330.1 214.3h0M429.3 110.7h0M339.6 198.9h0M372.7 165.9h0M440.4 94.6h0M488.4 67.5h0M390 159h0M443.6 92.6h0M491.8 44.2h0M439.4 98.6h0M469.6 63.2h0M422 112h0M374.6 171h0M320.6 222.3h0M365.1 172.7h0M475.5 64.8h0M373.4 169.8h0M488 55.7h0M385.4 152h0M385.4 155.5h0M401.9 134.3h0M439.3 95.5h0M359.1 193.7h0M395.6 148.5h0M476.1 67.1h0M454.9 82.7h0M407.1 131.2h0M380.9 164.8h0M418.3 120.7h0M354.1 191.7h0M375 164.7h0M377.2 154.2h0M473.5 62.6h0M400.8 143.8h0M338.8 202.2h0M463.5 79h0M356.6 180.3h0M393.2 149.8h0M365.9 176.3h0M407.3 132.1h0M353.6 184.4h0M363.4 180.2h0M485.8 51h0M449.9 92.9h0M313.6 225.5h0M409.6 123h0M433.6 114.4h0M443.2 102.7h0M329 211.2h0M418 117.6h0M421.7 119.4h0M484.5 52h0M485.1 56.6h0M342.8 196.4h0M391.8 150.7h0M349.6 189.8h0M482 64.1h0M423.4 122.3h0M436 104.8h0M389.6 154h0M429.7 116.2h0M380.4 162.7h0M366.7 171.8h0M370.8 168.3h0M471.3 63.8h0M378.2 158.5h0M367.4 177.1h0M450.9 90.7h0M430.4 106.3h0M389.5 147.8h0M305.9 233.4h0M451.8 90.5h0M409.9 119.1h0M359.5 177.8h0M437.5 105.7h0M366.6 172.5h0M388.3 148.5h0M461.5 82h0M412.8 133.2h0M455.5 90h0M457.3 97.2h0M446.5 92.7h0M306.3 233.8h0M431.7 110.1h0M375.1 163.9h0M478.6 66.4h0M385.1 156.1h0M364.8 184.4h0M434.6 105.8h0M345.8 197.8h0M449 87.5h0M490 53.3h0M381.9 155.4h0M407.6 127.5h0M468.4 71h0M356 180.6h0M462.9 77.2h0M450.2 89.4h0M368.1 184.7h0M449.6 103.5h0M351.8 188.1h0M450 93.6h0M427 119.1h0M379.2 160.5h0M374.6 165.1h0M499.7 45.7h0M422.6 121.8h0M490.6 53.3h0M436.8 103.8h0M495.9 42h0M413 124.8h0M347.6 194.6h0M352.8 181.5h0M362.5 182.2h0M445.1 100.4h0M455 89.5h0M353 191.9h0M385.3 160.2h0M318.6 219.2h0M414.9 125h0M474.3 63.7h0M361.7 181h0M345.5 198.6h0M493.5 40.9h0M486.8 46.1h0M500.7 43.5h0M490.2 41.9h0M497.2 46h0M496.1 42.7h0M493 53.3h0M493.8 45.2h0M341.6 196.5h0M338.9 200.6h0M495.7 49.2h0" stroke="#b8c8e8" stroke-width="1.15" stroke-linecap="square" stroke-opacity="0.85" fill="none"/>
<path d="M422.7 118.7h0M320.4 224.8h0M502.6 41.9h0M392.5 152.8h0M309.5 229.9h0M421.6 116.5h0M373 161.6h0M353.4 191.8h0M437 98.6h0M413.9 129.1h0M342.8 195.3h0M312.9 226.5h0M315.8 225.1h0M369.8 168.2h0M403.5 138.6h0M359.1 182.5h0M342 194.7h0M361.1 187.1h0M341.2 195.4h0M400.1 140.6h0M319.9 218.4h0M323.9 219.1h0M379.3 158h0M324.7 211.2h0M353.4 189h0M367.3 177.9h0M409.5 134.1h0M364.1 177h0M381.8 152.9h0M317 226.1h0M439.5 105.2h0M486.9 60.6h0M342.6 197.8h0M504 37.4h0M320.3 219.9h0M310.5 229.1h0M345.2 193.8h0M346.1 194.4h0M426.3 109.8h0M379.2 166.3h0M357.2 181.2h0M385.6 150.5h0M345.8 186.3h0M315.9 225.5h0M342.5 196.8h0M333.4 207.6h0M497.8 42h0M328.8 212.6h0M320.7 216.4h0M381 165h0M374.3 161h0M486.7 48.8h0M320 219.1h0M354 188.3h0M355.6 181.4h0M471.7 69.6h0M381.7 159h0M442.6 94h0M319.8 217.6h0M469.4 68.4h0M394.7 143.2h0M349.8 189.1h0M360.1 183.9h0M326 214.3h0M373.9 169.3h0M311 229.1h0M495 50.1h0" stroke="#2f3566" stroke-width="1.15" stroke-linecap="square" stroke-opacity="0.85" fill="none"/>
<path d="M312.5 228.5h0M384.6 156.7h0M334.7 208.9h0M323.7 219.4h0M370 175.5h0M322 219.6h0M396.7 142.5h0M340.8 198.3h0M341 201.6h0M340.2 205h0M309.2 231.5h0M485.1 57.4h0M481.7 58.8h0M483.5 58.5h0M472.2 62.5h0M327.9 211h0M359.6 174.2h0M306.5 233.2h0M383.2 152.5h0M329.9 208.3h0M370.2 165.1h0M395.9 143.1h0M319.1 220.8h0M315.2 227.2h0M330.7 210.6h0M318.9 222.7h0M383.8 134.8h0M311.8 229.1h0M380.9 155.5h0M325.1 217.5h0M310.9 230.8h0M470.7 72.3h0M485.7 51.3h0M376.3 172.7h0M352.1 193.5h0M304.8 235.3h0M342.2 194.4h0M497.8 40.5h0M470.5 64.7h0M340.3 199.9h0M337.5 202h0M346.6 195.3h0M324.7 218.3h0M421.1 120.4h0M436.4 108.3h0M458.8 76.9h0M370.4 165.9h0M469.1 71h0M316.9 216.1h0M372.3 162.3h0M311.4 228.4h0M434.6 107.6h0M462.3 82.5h0M342.2 193.3h0M365.9 178.4h0M337.3 207.7h0M355 186.1h0M482.2 53.2h0M320.3 219.8h0M365.7 179.6h0M303.7 237.1h0M474.6 71.8h0M343.9 196.1h0M325.5 212h0M422.2 122.6h0M487.5 55.6h0M341.1 197.8h0M306.6 234.6h0M353.4 185.1h0M391 150.1h0M471.7 73.3h0M471.1 70.8h0M452.4 91.1h0M345.8 193h0M376.4 164.8h0M446.6 89.9h0M445.5 93.1h0M369.8 175.2h0M337.9 208.2h0M343.6 193.5h0M475.5 64.6h0M485.4 61.4h0M342.8 197h0M342.9 203.4h0M303.8 237.3h0M391.2 153.9h0M389.7 149.9h0M355.8 180.8h0M327.9 213.6h0M498.3 39.8h0M353 186.5h0M392.4 152.8h0M333.5 206.6h0M326.5 222.5h0M342 211.2h0M373.2 153.8h0M311.7 230.6h0M325.3 219.7h0M441.6 98.9h0M342 198h0M347.6 193.9h0M325.2 212.6h0M324.7 215.9h0M302.9 237.7h0M333.1 209.3h0M359.6 183.6h0M387.4 153.5h0M368.7 169.9h0M363.9 169.8h0M401.8 136.1h0M314.2 223.9h0M303.6 236.6h0M340.8 200.1h0M373.7 161.4h0M483.6 47.3h0M320.4 219.3h0M325.4 212.7h0M324.9 216.5h0M314.4 226.7h0M345.1 195h0M308.3 233.4h0M390.4 147.8h0M367.4 173.7h0M336 207.5h0M397.8 140.6h0M380 161.2h0M350.6 186.8h0M437.2 108.8h0M372.6 165.7h0M315 225.9h0M343.3 199.8h0M316.5 224.1h0M438.8 103h0M353.7 183.5h0M347.5 195.9h0M478 56.3h0M444.2 99.2h0M485.4 59.4h0M435.7 104.7h0M475.9 71.7h0M309.7 229.6h0M454 85.3h0M407 132h0M491.6 50.7h0M313.2 227h0" stroke="#d04a6a" stroke-width="1.15" stroke-linecap="square" stroke-opacity="0.85" fill="none"/>
<path d="M304.7 235.7h0M329.1 210.6h0M395.3 149.8h0M378 162.6h0M419.3 120.3h0M444.7 91.2h0M316.3 223.3h0M495.5 45h0M491.1 44.4h0M477.8 59.4h0M343.1 199.3h0M342.9 200.5h0M364.6 178.4h0M310.5 229.1h0M431.9 114.3h0M374.4 169h0M308.5 232.9h0M307.9 231.7h0M327 207.3h0M343.9 197.3h0M357.5 188.2h0M352.9 197h0M424.8 115.4h0M307.4 233.7h0M433.7 108h0M326.2 209.3h0M368.8 172.6h0M330.7 212h0M311.7 228h0M340.8 201.1h0M320.9 219.2h0M390.9 146.3h0M368.5 177.4h0M308.3 232.7h0M497.5 48.7h0M466.4 73.1h0M367.1 174.6h0M319.9 222h0M350.2 185.1h0M494.2 49.7h0M370.9 163.5h0M419.8 114.8h0M362.6 172.3h0M413.9 122.1h0M364.7 172.1h0M383.6 155h0M324.9 213.9h0M404.8 144.9h0M323.1 217.5h0M313 226.5h0M310.1 229.7h0M340.9 196.7h0M346.3 192h0M415 119.5h0M321.6 217.6h0M412.5 122h0M375.1 164.8h0M346.7 192.7h0M319.4 222.6h0M313.3 227h0M306.2 233.5h0M341 195.6h0M320.8 215.8h0M488.2 41.2h0M365.5 169.3h0M461.9 78.6h0M305.8 233.9h0M308.2 232.8h0M362.4 179.3h0M303.4 237.3h0M441 94.5h0M318.3 221h0M317.7 224.5h0M388.3 146.3h0M436.4 101.2h0M318.5 224h0M354.2 181.4h0M307.3 231.7h0M357.4 186.3h0M391.5 155h0M355.5 178.6h0M373.1 174.5h0M335.1 207.9h0M321.8 219.5h0" stroke="#4f95b0" stroke-width="1.15" stroke-linecap="square" stroke-opacity="0.85" fill="none"/>
<path d="M463.4 81.9h0M316.7 225.7h0M326.7 216.4h0M308 232.7h0M369.7 175.9h0M332 206.3h0M430.5 106.7h0M497.3 52.3h0M303.4 237.3h0M378 166.3h0M368.5 170.6h0M493.6 49.2h0M435 106.5h0M383.2 166.4h0M497.1 46.9h0M347.6 191h0M440 100.9h0M496 42h0M497.2 39.2h0M334.6 205.1h0M359.5 188.3h0M375.9 163.1h0M465 69.7h0M485 58.5h0M330.2 209.7h0M343.5 192.7h0M443.5 96.7h0M302.7 237.9h0M479.5 57.3h0M374.1 168.6h0M402.7 132.9h0M304.2 236.7h0M459 94.4h0M342.4 198.8h0M482.1 54.2h0M494.3 49.7h0M429.1 116.2h0M498.3 41.2h0M360.5 183.4h0M433.3 112.7h0M460.5 81.9h0M343.1 193.1h0M331.7 209.4h0M339.8 201.1h0M307.5 232.7h0M372.4 156.4h0M483 54h0M430.3 109.9h0M379.5 163.3h0M316.8 226.2h0M396.4 144.9h0M351.6 188.4h0M310.7 229.5h0M429 113.2h0M389.7 156.1h0M500.5 44.1h0M345.6 193.9h0M394.3 142.8h0M347 188.5h0M315.4 222.6h0M346.8 196.6h0M458.4 86.8h0M436.1 109.7h0M326.8 203.5h0M346.3 194.2h0M494.7 46.9h0M329.1 211.1h0M473.6 65.9h0M305.6 234.3h0M447.1 88.3h0M323.5 218.7h0M319.3 222.3h0M427.9 100.2h0M312.6 228.9h0M456.3 78.1h0M427.8 105.6h0M345.4 199.9h0M502.5 41.3h0M374.7 166.4h0M492.5 43.7h0M392.3 152h0M317.2 222.4h0M336 202.5h0M383.3 138.4h0M351.6 192.3h0M349.3 185h0M401.6 142.5h0M310.5 230.6h0M357.1 184h0M313 227.5h0M418.3 123.6h0M471.4 64.4h0M441.9 94.3h0M393.7 143.5h0M497.4 37.9h0M308.8 230.8h0M376.6 165.1h0M465.9 74.4h0M314.6 226.6h0M459 78.2h0M405.2 129.5h0M317.3 223.2h0M386.3 151.9h0M357.3 185.3h0M479.1 62.7h0M420.2 122.2h0M333.8 204.5h0M431 112.3h0M428.2 120.2h0M334 204.6h0M501.8 42.7h0M324.9 212.8h0M376 169.5h0M470.4 77.1h0M312.2 228.1h0M388.4 150.2h0M351.3 188.7h0M502.6 39h0M361.2 175.8h0M502.9 43.7h0M399.5 140h0M469.2 74.5h0M416.1 123.1h0M325.5 217.7h0M330.8 207.6h0M468.9 74.8h0M392 151.3h0M339 197.4h0M476 66.7h0M495.5 50.3h0M400.3 138.9h0M497.7 48h0M498.8 40.4h0M494.9 51.2h0M489.8 52h0M498.6 42.9h0" stroke="#7598cc" stroke-width="1.15" stroke-linecap="square" stroke-opacity="0.85" fill="none"/>
<path d="M493.2 49.2h0M321.2 220h0M469.5 75.6h0M380.7 162.9h0M427 122.2h0M362.1 184.6h0M363.7 174h0M366.5 168.5h0M377.2 165.8h0M436 107.2h0M412.3 133h0M451.2 88.9h0M399.4 142.4h0M315 227.8h0M370.9 157.1h0M331.6 208.7h0M433.9 107.5h0M412.2 131.9h0M438 108.1h0M491.1 51.1h0M386.9 156.5h0M464.8 81.5h0M376.4 166.6h0M395.6 135h0M387.2 155.5h0M405.8 137.2h0M371.5 174.5h0M396.6 140.3h0M486 44.4h0M357 187.9h0M404 142.6h0M339.7 204.2h0M394.8 142.2h0M496.2 47.8h0M427.8 110.9h0M437.3 97.2h0M456.4 83.3h0M399.4 140h0M467.7 85.5h0M349 196.2h0M458.6 83.9h0M324.3 214.1h0M443.1 99.3h0M407.9 126.9h0M312.2 229.3h0M424 116.9h0M468.8 73h0M372.3 171.2h0M412.1 124h0M340.5 200.9h0M393 140h0M369.8 167.2h0M330.4 201.3h0M383.5 155.2h0M320 218.3h0M384.7 154.9h0M425.2 113.2h0M441.8 104.4h0M423.1 113.2h0M485.8 50.3h0M485.4 57h0M387.6 147.5h0M450.1 86.9h0M387.5 157.4h0M412.6 133.1h0M418.8 121h0M381.5 162.8h0M465.6 73.9h0M425.5 118.3h0M417.8 121.1h0M332.5 209.9h0M465.9 80.5h0M434.7 100.3h0M304.4 236.4h0M453.7 77.4h0M367.1 163.9h0M442 100.9h0M449.8 89.1h0M385.4 152.9h0M428.3 115.9h0M479.3 66.8h0M488.9 55.7h0M459.1 85.6h0M457.2 84.3h0M399.6 134.8h0M476 58.5h0M430.9 114.2h0M310.1 230.3h0M478.2 63.1h0M377.9 158.6h0M433.3 106h0M339.5 202.9h0M469.7 68.8h0M324.4 211.7h0M405.4 138h0M468.4 67h0M311 228.1h0M319.7 217.6h0M482.8 55.1h0M445.1 90.1h0M387.5 149.1h0M350.3 191.1h0M467.3 75.3h0M471.9 60.6h0M441.7 89.1h0M381.7 152.2h0M330.7 212.4h0M490.3 49.1h0M457 82.1h0M399.2 137.3h0M430.2 116.2h0M454.2 88h0M467.5 77.4h0M321.6 221.6h0M408.2 130.2h0M423.4 117.9h0M458.9 85.9h0M348.9 192.3h0M394.3 145.4h0M481.3 56.1h0M488.7 49.1h0M487 52.2h0M426.2 102.5h0M459.8 78.9h0M399 139.6h0M442.9 91.6h0M423.9 110.6h0M376.4 163.1h0M378.6 159.4h0M373.1 169.8h0M336.8 198.9h0M392 145.8h0M435 111h0M457 77.2h0M323.5 217.3h0M414 131.4h0M389.3 150.5h0M434.4 97.4h0M405.2 137.6h0M329.3 210.9h0M487.6 45.8h0M383 152.3h0M423.1 120.8h0M373.5 170h0M398.9 141.9h0M371.3 171.8h0M427.2 114.3h0M441.9 98.4h0M405.7 129.5h0M350 193.7h0M338 198.2h0M376.9 157.9h0M426 112h0M340.2 204.5h0M377.9 165.7h0M464.3 75h0M482.2 56.8h0M413.1 134.3h0M478.7 61.9h0M320.5 216h0M436.8 98.6h0M357.2 182.1h0M490.6 38h0M422.3 108.5h0M395.2 149.3h0M403.5 144.4h0M332.6 210.8h0M457.9 91.4h0M488.3 52.5h0M360.9 174.2h0M402.9 134.6h0M303.2 237.4h0M456.1 85.8h0M476.4 57.1h0M466.5 68.3h0M324.1 216.1h0M433.9 109.8h0M497.4 48.7h0M455.9 84h0M405.2 133.2h0M376.9 155.7h0M370.8 166.1h0M306 233.4h0M316.6 224.4h0M378.7 157.4h0M351.7 185.7h0M382.1 160.2h0M396.2 146.8h0M451 91.8h0M418 118.5h0M464.8 71.9h0M419.3 129.5h0M402.7 138.1h0M442.8 93h0M399.1 140.6h0M409.5 132.7h0M343.6 197h0M453 83.4h0M420.4 120.5h0M392.6 149h0M434.8 109.5h0M364.7 179h0M310.3 229.8h0M335.4 203.1h0M341.4 199.2h0M455.6 88.6h0M423.7 123.5h0M429 108.5h0M454 86.8h0M485.1 66h0M487.1 55.9h0M339.3 204.9h0M345.3 199.5h0M384.2 149.6h0M347.5 195.7h0M442.5 100.7h0M345.7 195.3h0M464.3 79.7h0M422.7 126.2h0M440.9 94h0M340.3 201.4h0M473.2 68.4h0M396.6 149.6h0M384 164h0M346.4 194.2h0M440.9 92.6h0M438.2 102.5h0M406.1 133.9h0M446.8 88.4h0M372.3 169.3h0M318.7 224.1h0M467.5 73.3h0M371.8 171.2h0M324.7 221.4h0M415.7 124.1h0M484.2 57.8h0M465.5 73.1h0M349.1 187.2h0M351.6 186h0M427.6 109.2h0M392.7 151.4h0M353.8 187.3h0M322.8 213.8h0M314.2 227h0M444.1 99.7h0M457.3 85.1h0M440.6 94.5h0M405 136.9h0M398.3 136.1h0M377.7 167.6h0M383.4 154.5h0M438.9 103.3h0M444.9 94.8h0M436.4 105.8h0M344.3 198.2h0M437.9 101.2h0M503.7 41.9h0M419.5 119.7h0M501.3 43h0M505 40.3h0M489.4 52.7h0M363.4 174.6h0M380.4 156.4h0M433.8 108.9h0M309.8 230.9h0M504.4 43.7h0M491.1 46.9h0M496.9 49.8h0M489.7 50.3h0" stroke="#b8c8e8" stroke-width="1.15" stroke-linecap="square" stroke-opacity="0.85" fill="none"/>
<path d="M496.9 45.4h0M408.7 126.4h0M363.1 174.9h0M310.9 225.1h0M357.3 187.7h0M357.4 187.9h0M318.4 221.2h0M330.7 212.4h0M324.5 214.1h0M319.5 223.8h0M488.1 49.1h0M328.7 214.5h0M446.4 98.5h0M350.9 187.8h0M330.7 213.5h0M360.3 181.4h0M359.1 178.7h0M353.9 181.2h0M369.1 172.3h0M302.8 237.8h0M394.6 146h0M485.3 63.3h0M384.7 153h0M341.9 204.2h0M416.5 118.2h0M496.6 37.5h0M309.9 229.1h0M498 38.5h0M497.1 44.4h0M442.8 90.1h0M335 204.9h0M350.1 192.7h0M411.8 131.5h0M308.6 230.8h0M320.4 222.8h0M427.3 103h0M302.6 238h0M340.2 197.7h0M408.4 127.1h0M481.8 53.7h0M353.1 185.3h0M372.3 166.1h0M434.8 100.6h0M387.9 157.8h0M361.8 175h0M357.1 178.3h0M408.3 138.1h0M377.9 167h0M486 54.2h0M427.8 111.7h0M330.2 210.9h0M493.7 57.7h0M368.3 179.3h0M353.5 186.8h0M364.8 168.1h0M319.6 219.2h0M466.8 69.6h0M346.4 195.1h0M345 191.8h0M355.2 186.7h0M486.5 51.9h0M335.7 204.6h0M305.6 234.6h0M489.6 51.6h0M502.6 41.6h0M492.9 48h0M346.7 189.6h0" stroke="#2f3566" stroke-width="1.15" stroke-linecap="square" stroke-opacity="0.85" fill="none"/>
<path d="M429.9 111.3h0M305.9 234.2h0M357.2 188.2h0M375.3 166.9h0M360.2 178.6h0M311.4 227.6h0M336.8 190.7h0M306.4 233h0M330.3 212.8h0M382.5 163.5h0M398.2 142h0M451.6 84h0M418.3 127.3h0M386.2 149.3h0M493.2 54.1h0M370.2 170.7h0M327.2 210.5h0M303.9 236.6h0M313.6 224.4h0M370.8 169.4h0M303.1 237.6h0M413.8 130h0M306 234h0M366.3 168.4h0M306.7 234.6h0M385.5 159.5h0M310 230.9h0M443.8 100.8h0M321 216.7h0M388.8 151.9h0M380 155.9h0M339.6 199.3h0M352.2 186.9h0M340.8 201.1h0M333.4 208.2h0M371.9 166.9h0M316.2 228.6h0M376.2 165.6h0M315.6 227.2h0M340.4 197.5h0M346.9 194.1h0M332.6 206.5h0M303.4 237.4h0M428.2 115.2h0M310.1 231.9h0M419.8 118.5h0M482.7 52.7h0M354.7 185h0M323.6 215.4h0M340.4 200.8h0M310.6 229.6h0M434.4 113.7h0M390.6 153.6h0M366.5 174.7h0M346.4 199.9h0M379.9 164.6h0M398.7 135.7h0M459.6 76.8h0M364 165.8h0M313 225.8h0M461.3 81.1h0M329.6 208.4h0M308.1 232.7h0M361.8 179.8h0M393.9 141.9h0M358 184.2h0M413.8 126.8h0M340.2 205.2h0M390.7 158.2h0M327.2 207.4h0M376.9 163.8h0M325.9 215.3h0M305.7 235.7h0M387.2 153.8h0M334.3 202.2h0M343.4 197.8h0M482.8 57h0M351.6 188.8h0M395.1 141.9h0M304.6 235.9h0M422.1 127h0M334.8 203.2h0M312.3 226.8h0M393.4 155.6h0M438.1 106.6h0M316.4 227.9h0M357.7 180h0M316.1 224.6h0M316.6 222.9h0M383.4 159.1h0M317.3 224.8h0M358.6 183.5h0M335.4 208.4h0M468.3 72.8h0M328.7 210.3h0M364.4 176.2h0M315.6 226.7h0M326.7 215.3h0M321.4 219.8h0M335.3 204.2h0M309.1 230.4h0M314.8 223.2h0M334.6 204.9h0M460.2 85.6h0M364.6 171h0M382.4 151.3h0M417.5 119.3h0M384.7 158.7h0M335.1 208.2h0M487.5 55.6h0M310.1 229.4h0M306.4 235h0M304.5 236.3h0M304.1 236.5h0M395.9 144.5h0M341.4 201.8h0M434.5 102.3h0M359.3 179.4h0M320.9 221.4h0M411.2 134.7h0M357.8 189.7h0M311.7 226.5h0M304.7 236.3h0M384.8 155h0M386.4 162.9h0M388.9 151.7h0M335.9 207.4h0M340.4 202.6h0M327.5 215.8h0M479.1 55.1h0M319.6 221.8h0M317.5 222.9h0M345.9 194.4h0M337.8 201.6h0M394.7 149.1h0M433.5 105.1h0M332.7 215.2h0M389.7 153.1h0M379.9 155.2h0M323.6 214.2h0M330.5 206.4h0M362.8 183h0M488.3 49.5h0M503.2 42.7h0M380.8 160.9h0" stroke="#d04a6a" stroke-width="1.15" stroke-linecap="square" stroke-opacity="0.85" fill="none"/>
<path d="M334.1 210.5h0M320.9 222.1h0M321 218.2h0M317.2 223.7h0M304.1 236.5h0M325.2 218.8h0M408 136.6h0M315.1 224.6h0M333.6 209.4h0M351.6 189.3h0M310.5 229.2h0M310.2 230.2h0M364.2 183.5h0M351.6 185.7h0M427.5 118h0M487.4 52.1h0M309.3 230.6h0M496.9 45h0M315.5 231.1h0M350 195h0M322.8 223.9h0M489.1 49.2h0M312.5 227.1h0M328.7 214.5h0M370.3 166.5h0M317.1 223.3h0M308 231.6h0M427.2 108.5h0M335.9 207.3h0M315.8 225.1h0M357.2 186.1h0M328.6 214.7h0M449.4 91.8h0M330.4 205.6h0M323.3 219.5h0M409.6 125.2h0M325.5 213.1h0M478.7 63.7h0M309.4 231.8h0M359.1 173.8h0M345.6 192.3h0M395.6 147h0M386.1 149.4h0M365.6 180.4h0M390.4 153.4h0M408.5 121.5h0M334.5 204.6h0M317.2 221.8h0M313.3 228.5h0M397.2 147.1h0M313.4 227.9h0M353.6 188.4h0M369.3 170.8h0M363.1 180.8h0M323 217.7h0M310 230.2h0M352.2 188.9h0M340.8 197.6h0M400.4 142.5h0M394.1 143h0M338.9 196.9h0M360.3 187.2h0M313.9 228.4h0M450.4 89.4h0M326.9 214.7h0M434.8 101h0M447.1 88.8h0M316.6 223.4h0M333 207.3h0M332.3 208.9h0M342.4 196.9h0M495.7 43.1h0M463.1 76.5h0M312 229.4h0M386.8 154.9h0M423.7 116h0M348.1 197.4h0M338 200.3h0M321.4 218.8h0M394.5 142.5h0M357.2 188.5h0M303.6 236.9h0M494.8 49.7h0" stroke="#4f95b0" stroke-width="1.15" stroke-linecap="square" stroke-opacity="0.85" fill="none"/>
<path d="M365.6 182.6h0M433.5 114.4h0M430.1 113.6h0M440.2 96.4h0M473.5 74.1h0M411.4 127.8h0M315.1 218.8h0M389.7 155.6h0M386.5 159.7h0M427.5 113.2h0M438.6 104h0M347.8 187.4h0M364.5 179.9h0M328.3 210.8h0M335 209.3h0M334.6 202.9h0M332 204.5h0M346.8 197.4h0M395.4 146.6h0M464.3 78.2h0M484.4 60.1h0M401.9 146.4h0M372.8 167.8h0M439.1 96.9h0M316.4 223.2h0M435 99.2h0M378 163.9h0M463.5 73.4h0M498.4 42.8h0M352.2 189h0M390.9 147h0M497 44.1h0M397.4 147.7h0M449.6 93.8h0M356.5 187.9h0M409.8 128.3h0M410 126.7h0M366.8 170.2h0M398.2 140.1h0M350.7 187.3h0M494.5 50.6h0M495.3 43.1h0M326.6 217.3h0M407.6 137.6h0M328.6 210.6h0M497.7 45.3h0M323.1 214.9h0M464.1 71h0M495.4 53.6h0M400.5 138.5h0M353.2 183.6h0M307.9 233.5h0M416.9 119.2h0M344.7 193.5h0M365.6 177.7h0M486 41.1h0M356.2 180.3h0M384.2 150.6h0M315.6 226h0M383 152.6h0M324.1 216.1h0M473.5 60.8h0M382.3 161.2h0M332.1 206.9h0M493.2 43.2h0M464 69.1h0M325 213.6h0M316.4 223.2h0M493.4 48.2h0M331.4 208.6h0M349.8 187.2h0M437 102.4h0M435 109.2h0M344.5 202.4h0M313.5 225.7h0M353.3 186.2h0M317 227.1h0M325.2 211.8h0M328.4 214h0M347 191.7h0M313.2 226.1h0M335.2 213.9h0M330.3 209.8h0M359.4 181.4h0M399.2 145.1h0M378.7 165.1h0M386.9 153.6h0M430.8 114.9h0M369.4 165.5h0M383.8 163.3h0M321.1 217h0M345.4 195.6h0M444.3 91.2h0M461.3 73.3h0M437.7 104.6h0M358.4 181.3h0M455.4 87.5h0M310.4 231.5h0M393.3 150.5h0M408.7 137.5h0M323 224.8h0M375.3 168.8h0M436.4 101.2h0M344.5 197.7h0M319 221.7h0M366.6 173.7h0M478.4 56.6h0M382.7 155h0M319.8 224.6h0M472.9 62h0M495.8 42h0M444.9 86.2h0M444.2 98.7h0M361.5 174h0M414.7 117.3h0M335.7 203.2h0M360.2 176.8h0M356.2 185.5h0M430.7 111.7h0M414.2 130.2h0M333.9 203.9h0M478.5 69h0M305.6 234.4h0M492.9 46.1h0M406.4 136.3h0M494.6 42.2h0M351.2 190.7h0M355.7 190.3h0M343.8 192.2h0M501.3 42h0M499.1 42.5h0M497.4 38.1h0M502.2 39.6h0M502.5 44.3h0M309 232.4h0M498.8 47.2h0" stroke="#7598cc" stroke-width="1.15" stroke-linecap="square" stroke-opacity="0.85" fill="none"/>
<path d="M314.5 226.1h0M408.7 128.9h0M466 67.5h0M409.5 125.2h0M327.9 214.3h0M382.7 160.2h0M415 128.1h0M370.8 165.8h0M308.6 231.5h0M336.8 204.1h0M317 223.7h0M389 153h0M381.3 162.5h0M333.4 208.2h0M353 182.6h0M412.6 124.3h0M498.4 41.6h0M332.7 214.2h0M340 198.7h0M468.1 72.1h0M467.4 72.9h0M419.8 116.7h0M436.7 103.2h0M316.1 225.6h0M501.6 38.4h0M315.5 225.4h0M377.2 168.4h0M416 130.4h0M317.5 224.7h0M454.3 84.4h0M465.3 78.6h0M387.3 158h0M347 191.7h0M380.5 160.6h0M400 138.6h0M427.5 107h0M453.9 88.3h0M411 135.2h0M470.9 67.2h0M367.9 176h0M372 166.1h0M441.1 99.3h0M473.1 72.5h0M441 95.8h0M385.1 149.8h0M331.4 212.9h0M376.3 164.9h0M431.7 107.6h0M382.5 163.4h0M325.4 214.3h0M305.2 234.9h0M349.4 185.5h0M310.5 230.7h0M462.9 75.1h0M400.5 134.5h0M482.6 55.7h0M367.3 171.7h0M415.5 119.3h0M322.3 220.4h0M477.5 63h0M378.1 156.5h0M381.2 163.6h0M443.5 91.3h0M383.7 155.2h0M429.1 111.8h0M369.3 172.2h0M366.7 171.1h0M333.9 203.9h0M463.6 75.6h0M427.9 105.7h0M479.7 61.8h0M424.1 114h0M374.2 168.3h0M387 154.5h0M349.6 190.8h0M389.3 146.8h0M379 156.1h0M369.9 168.9h0M405.7 138.4h0M344.4 195.6h0M435.9 104.1h0M474.6 76h0M356 187.3h0M430.2 105.5h0M430.9 103.8h0M388 159h0M483.1 58.7h0M468.4 70.7h0M386.9 155.6h0M333.3 205.3h0M450.1 100.3h0M317.4 216.8h0M496.3 45h0M308.8 229.7h0M462.5 83.7h0M371.3 176.7h0M375.5 166.8h0M389.1 150.3h0M348.7 189.3h0M454.3 87.2h0M447.4 99h0M424.2 121.7h0M376.6 159h0M432.2 110.2h0M350.3 189.2h0M317.2 221.7h0M374.1 160.1h0M326.4 210.3h0M470.9 68.4h0M386.4 144h0M324.5 212.3h0M485.3 59.4h0M331.9 208.2h0M458.1 81.4h0M499.8 39.9h0M323.4 213.6h0M381.1 162.9h0M302.9 237.6h0M387.9 158h0M373.6 168h0M358.1 178.6h0M339.3 206.1h0M402.8 131h0M309.2 231.5h0M464.4 78.1h0M405.2 137.2h0M352.2 193.4h0M373.9 165.2h0M315.7 222.7h0M381.4 158h0M307.1 233.7h0M361.3 173.7h0M375.5 169.8h0M364.2 175.4h0M485.2 58.2h0M375.2 164.9h0M403.3 139.9h0M471.2 60.4h0M387.2 161.2h0M348 191.5h0M430.8 104.7h0M469.2 76.3h0M484.2 43.5h0M493.3 55.8h0M486.4 52.7h0M396.6 147.1h0M369.9 172.2h0M435.1 101.9h0M383.1 155.3h0M330.2 209h0M413.9 126.6h0M369.7 173.6h0M327.5 216.8h0M362.4 177.8h0M405.9 138.9h0M468.7 77.4h0M434.3 104.4h0M364.7 186.3h0M465.1 75.4h0M496.8 39.1h0M358 192.9h0M364.7 173.7h0M454.7 88.7h0M430.6 112.1h0M459.1 81.8h0M500.8 38.9h0M473.2 70.7h0M320.5 217h0M500.1 46.6h0M420 124.7h0M468.8 70.6h0M480.4 62.7h0M495.4 51.2h0M335.9 205.7h0M389.3 151h0M481 59.8h0M309.8 231.3h0M366.7 174.3h0M446.5 98h0M439.3 96.8h0M307.4 232.5h0M351 184.4h0M308.5 231.8h0M403.9 139.9h0M481.8 59.4h0M327.3 210.5h0M411.5 133.5h0M391.5 143.4h0M375.9 169h0M311.4 229.6h0M384.6 152.1h0M455.5 85h0M486.7 57.9h0M314.6 225.1h0M410.6 131.6h0M410.4 132.6h0M344.2 199.7h0M322.4 217.8h0M461.1 77.8h0M342.4 200.2h0M333.7 208.8h0M403.9 135.1h0M322.6 214.8h0M392.8 149h0M349.9 192h0M331 205.1h0M376.5 167h0M456.5 81.5h0M388.5 160.1h0M322.9 217.2h0M314.6 226.8h0M428.8 116.5h0M390.7 145.3h0M367.8 177.1h0M468.1 85.1h0M440.1 104.5h0M348.4 186.2h0M338.6 203.9h0M482.7 59.5h0M495.1 51.9h0M487.3 55.8h0M443.3 93.7h0M425.6 112.1h0M408.9 128.2h0M483.6 56.1h0M388.9 156.9h0M444.2 96.3h0M321.1 218.7h0M330.2 213h0M388.8 149.5h0M447.1 85.6h0M438.1 105.9h0M493.1 49.1h0M465.5 74.1h0M366.9 169.9h0M384.4 149.4h0M462.5 81.3h0M342 200.9h0M483.8 55.6h0M402 137.5h0M337 205.6h0M369.4 176.6h0M352.5 186.3h0M406 133h0M381.8 161.9h0M453.9 89.4h0M375.6 169.1h0M499.7 42.6h0M325.5 210.6h0M400.7 130.2h0M329.5 211.7h0M411.6 130.1h0M373.3 175.7h0M498.8 44.4h0M483.5 56.9h0M415.5 127h0M321.3 217.1h0M323.7 217.6h0M324 216.4h0M501.1 44.7h0M504.1 38.7h0M392.1 145.2h0M486.6 45.4h0M387.2 147.3h0M491.9 51.9h0M359.5 188.5h0M493.4 48.3h0M306.1 234h0" stroke="#b8c8e8" stroke-width="1.15" stroke-linecap="square" stroke-opacity="0.85" fill="none"/>
<rect x="302.5" y="37.25" width="202.5" height="200.85" fill="none" stroke="#111" stroke-width="1.1"/>
<line x1="299.5" y1="238.1" x2="302.5" y2="238.1" stroke="#1a1a1a" stroke-width="0.9" />
<text x="296.3" y="240.6" font-size="7" text-anchor="end" stroke="#333" stroke-width="0.14" >0.0</text>
<line x1="302.5" y1="238.1" x2="302.5" y2="241.3" stroke="#1a1a1a" stroke-width="0.9" />
<text x="302.5" y="251.4" font-size="7" text-anchor="middle" stroke="#333" stroke-width="0.14" >0.0</text>
<line x1="299.5" y1="197.93" x2="302.5" y2="197.93" stroke="#1a1a1a" stroke-width="0.9" />
<text x="296.3" y="200.43" font-size="7" text-anchor="end" stroke="#333" stroke-width="0.14" >0.1</text>
<line x1="343" y1="238.1" x2="343" y2="241.3" stroke="#1a1a1a" stroke-width="0.9" />
<text x="343" y="251.4" font-size="7" text-anchor="middle" stroke="#333" stroke-width="0.14" >0.1</text>
<line x1="299.5" y1="157.76" x2="302.5" y2="157.76" stroke="#1a1a1a" stroke-width="0.9" />
<text x="296.3" y="160.26" font-size="7" text-anchor="end" stroke="#333" stroke-width="0.14" >0.2</text>
<line x1="383.5" y1="238.1" x2="383.5" y2="241.3" stroke="#1a1a1a" stroke-width="0.9" />
<text x="383.5" y="251.4" font-size="7" text-anchor="middle" stroke="#333" stroke-width="0.14" >0.2</text>
<line x1="299.5" y1="117.59" x2="302.5" y2="117.59" stroke="#1a1a1a" stroke-width="0.9" />
<text x="296.3" y="120.09" font-size="7" text-anchor="end" stroke="#333" stroke-width="0.14" >0.3</text>
<line x1="424" y1="238.1" x2="424" y2="241.3" stroke="#1a1a1a" stroke-width="0.9" />
<text x="424" y="251.4" font-size="7" text-anchor="middle" stroke="#333" stroke-width="0.14" >0.3</text>
<line x1="299.5" y1="77.42" x2="302.5" y2="77.42" stroke="#1a1a1a" stroke-width="0.9" />
<text x="296.3" y="79.92" font-size="7" text-anchor="end" stroke="#333" stroke-width="0.14" >0.4</text>
<line x1="464.5" y1="238.1" x2="464.5" y2="241.3" stroke="#1a1a1a" stroke-width="0.9" />
<text x="464.5" y="251.4" font-size="7" text-anchor="middle" stroke="#333" stroke-width="0.14" >0.4</text>
<line x1="299.5" y1="37.25" x2="302.5" y2="37.25" stroke="#1a1a1a" stroke-width="0.9" />
<text x="296.3" y="39.75" font-size="7" text-anchor="end" stroke="#333" stroke-width="0.14" >0.5</text>
<line x1="505" y1="238.1" x2="505" y2="241.3" stroke="#1a1a1a" stroke-width="0.9" />
<text x="505" y="251.4" font-size="7" text-anchor="middle" stroke="#333" stroke-width="0.14" >0.5</text>
<text x="281" y="133.75" font-size="8.3" text-anchor="middle" stroke="#333" stroke-width="0.05" textLength="59.4" lengthAdjust="spacingAndGlyphs" transform="rotate(-90 281 133.75)" >gnomAD NFE MAF</text>
<text x="374.3" y="263.8" font-size="8.5" stroke="#333" stroke-width="0.05" textLength="66.6" lengthAdjust="spacingAndGlyphs" >UKBB v2.2 EUR MAF</text>
<rect x="82.9" y="323.2" width="7" height="113.3" fill="#38aa38" />
<rect x="82.9" y="463.3" width="7" height="87" fill="#38aa38" />
<rect x="82.9" y="463.3" width="7" height="9.5" fill="#1f4c94" />
<rect x="82.9" y="472.8" width="7" height="5.7" fill="#f7901e" />
<rect x="82.9" y="478.5" width="7" height="11.4" fill="#5e2270" />
<rect x="92" y="337.4" width="7" height="99.1" fill="#38aa38" />
<rect x="92" y="412.6" width="7" height="3.8" fill="#5e2270" />
<rect x="92" y="416.4" width="7" height="20.1" fill="#f7901e" />
<rect x="92" y="463.3" width="7" height="86.3" fill="#38aa38" />
<rect x="101.1" y="330.2" width="7" height="106.3" fill="#38aa38" />
<rect x="101.1" y="463.3" width="7" height="104.5" fill="#38aa38" />
<rect x="101.1" y="463.3" width="7" height="10.2" fill="#1f4c94" />
<rect x="101.1" y="473.5" width="7" height="4.5" fill="#5e2270" />
<rect x="110.2" y="321" width="7" height="115.5" fill="#38aa38" />
<rect x="110.2" y="420.7" width="7" height="5.5" fill="#5e2270" />
<rect x="110.2" y="426.2" width="7" height="10.3" fill="#d3122f" />
<rect x="110.2" y="463.3" width="7" height="80.6" fill="#38aa38" />
<rect x="110.2" y="463.3" width="7" height="14.7" fill="#1f4c94" />
<rect x="119.3" y="333.7" width="7" height="102.8" fill="#38aa38" />
<rect x="119.3" y="463.3" width="7" height="14.7" fill="#38aa38" />
<rect x="128.4" y="321" width="7" height="115.5" fill="#38aa38" />
<rect x="128.4" y="426.2" width="7" height="10.3" fill="#f7901e" />
<rect x="128.4" y="463.3" width="7" height="97.2" fill="#38aa38" />
<rect x="128.4" y="463.3" width="7" height="9.5" fill="#d3122f" />
<rect x="128.4" y="472.8" width="7" height="12.5" fill="#5e2270" />
<rect x="137.5" y="330.4" width="7" height="106.1" fill="#38aa38" />
<rect x="137.5" y="463.3" width="7" height="107.9" fill="#38aa38" />
<rect x="146.6" y="322.7" width="7" height="113.8" fill="#38aa38" />
<rect x="146.6" y="463.3" width="7" height="92.2" fill="#38aa38" />
<rect x="155.7" y="342.9" width="7" height="93.6" fill="#38aa38" />
<rect x="155.7" y="463.3" width="7" height="113.2" fill="#38aa38" />
<rect x="164.8" y="319.9" width="7" height="116.6" fill="#38aa38" />
<rect x="164.8" y="420.7" width="7" height="5.5" fill="#5e2270" />
<rect x="164.8" y="426.2" width="7" height="10.3" fill="#f7901e" />
<rect x="164.8" y="463.3" width="7" height="71.5" fill="#38aa38" />
<rect x="164.8" y="463.3" width="7" height="9.5" fill="#1f4c94" />
<rect x="173.9" y="401.7" width="7" height="34.8" fill="#38aa38" />
<rect x="173.9" y="420.7" width="7" height="15.8" fill="#5e2270" />
<rect x="173.9" y="463.3" width="7" height="61.4" fill="#38aa38" />
<rect x="183" y="379.7" width="7" height="56.8" fill="#38aa38" />
<rect x="183" y="463.3" width="7" height="109.3" fill="#38aa38" />
<rect x="192.1" y="362" width="7" height="74.5" fill="#38aa38" />
<rect x="192.1" y="463.3" width="7" height="97.9" fill="#38aa38" />
<rect x="201.2" y="361.5" width="7" height="75" fill="#38aa38" />
<rect x="201.2" y="410.4" width="7" height="10.3" fill="#d3122f" />
<rect x="201.2" y="420.7" width="7" height="15.8" fill="#1f4c94" />
<rect x="201.2" y="463.3" width="7" height="97.9" fill="#38aa38" />
<rect x="210.3" y="371.8" width="7" height="64.7" fill="#38aa38" />
<rect x="210.3" y="426.7" width="7" height="9.8" fill="#d3122f" />
<rect x="210.3" y="463.3" width="7" height="106.3" fill="#38aa38" />
<rect x="210.3" y="463.3" width="7" height="18.6" fill="#1f4c94" />
<rect x="210.3" y="481.9" width="7" height="6.2" fill="#d3122f" />
<rect x="219.4" y="327.1" width="7" height="109.4" fill="#38aa38" />
<rect x="219.4" y="463.3" width="7" height="8.8" fill="#38aa38" />
<rect x="228.5" y="360.4" width="7" height="76.1" fill="#38aa38" />
<rect x="228.5" y="463.3" width="7" height="116.1" fill="#38aa38" />
<rect x="237.6" y="330.4" width="7" height="106.1" fill="#38aa38" />
<rect x="237.6" y="463.3" width="7" height="26.6" fill="#38aa38" />
<rect x="246.7" y="386.1" width="7" height="50.4" fill="#38aa38" />
<rect x="246.7" y="463.3" width="7" height="107" fill="#38aa38" />
<rect x="255.8" y="327.1" width="7" height="109.4" fill="#38aa38" />
<rect x="264.9" y="379.1" width="7" height="57.4" fill="#38aa38" />
<rect x="264.9" y="463.3" width="7" height="99.5" fill="#38aa38" />
<rect x="274" y="332.6" width="7" height="103.9" fill="#38aa38" />
<rect x="283.1" y="327.1" width="7" height="109.4" fill="#38aa38" />
<rect x="283.1" y="463.3" width="7" height="99.5" fill="#38aa38" />
<rect x="283.1" y="463.3" width="7" height="9.5" fill="#1f4c94" />
<rect x="292.2" y="326.4" width="7" height="110.1" fill="#38aa38" />
<rect x="292.2" y="408.2" width="7" height="2.2" fill="#f7901e" />
<rect x="292.2" y="410.4" width="7" height="26.1" fill="#1f4c94" />
<rect x="292.2" y="463.3" width="7" height="97.2" fill="#38aa38" />
<rect x="292.2" y="463.3" width="7" height="29.3" fill="#1f4c94" />
<rect x="301.3" y="322.5" width="7" height="114" fill="#38aa38" />
<rect x="301.3" y="463.3" width="7" height="91.5" fill="#38aa38" />
<rect x="301.3" y="463.3" width="7" height="9.5" fill="#1f4c94" />
<rect x="310.4" y="324.9" width="7" height="111.6" fill="#38aa38" />
<rect x="310.4" y="410.4" width="7" height="26.1" fill="#1f4c94" />
<rect x="310.4" y="463.3" width="7" height="97.2" fill="#38aa38" />
<rect x="310.4" y="463.3" width="7" height="14.7" fill="#1f4c94" />
<rect x="319.5" y="416.8" width="7" height="19.7" fill="#38aa38" />
<rect x="319.5" y="463.3" width="7" height="100.2" fill="#38aa38" />
<rect x="328.6" y="333" width="7" height="103.5" fill="#38aa38" />
<rect x="337.7" y="463.3" width="7" height="64.6" fill="#38aa38" />
<rect x="346.8" y="384.6" width="7" height="51.9" fill="#38aa38" />
<rect x="355.9" y="351.7" width="7" height="84.8" fill="#38aa38" />
<rect x="365" y="463.3" width="7" height="9.1" fill="#38aa38" />
<rect x="374.1" y="336.8" width="7" height="99.7" fill="#38aa38" />
<rect x="383.2" y="463.3" width="7" height="97.2" fill="#38aa38" />
<rect x="392.3" y="342.9" width="7" height="93.6" fill="#38aa38" />
<rect x="392.3" y="463.3" width="7" height="88.8" fill="#38aa38" />
<rect x="392.3" y="463.3" width="7" height="19.1" fill="#d3122f" />
<rect x="401.4" y="338.5" width="7" height="98" fill="#38aa38" />
<rect x="401.4" y="413.1" width="7" height="23.4" fill="#1f4c94" />
<rect x="401.4" y="463.3" width="7" height="67.1" fill="#38aa38" />
<rect x="401.4" y="463.3" width="7" height="28.9" fill="#1f4c94" />
<rect x="401.4" y="492.2" width="7" height="2.2" fill="#d3122f" />
<rect x="410.5" y="333.7" width="7" height="102.8" fill="#38aa38" />
<rect x="419.6" y="333.9" width="7" height="102.6" fill="#38aa38" />
<rect x="419.6" y="463.3" width="7" height="9.1" fill="#38aa38" />
<rect x="428.7" y="332.6" width="7" height="103.9" fill="#38aa38" />
<rect x="437.8" y="379.1" width="7" height="57.4" fill="#38aa38" />
<rect x="437.8" y="463.3" width="7" height="99.5" fill="#38aa38" />
<rect x="446.9" y="336.5" width="7" height="100" fill="#38aa38" />
<rect x="456" y="403.2" width="7" height="33.3" fill="#38aa38" />
<rect x="456" y="463.3" width="7" height="97.2" fill="#38aa38" />
<rect x="465.1" y="426.7" width="7" height="9.8" fill="#38aa38" />
<rect x="474.2" y="339" width="7" height="97.5" fill="#38aa38" />
<line x1="63" y1="312.5" x2="63" y2="437" stroke="#1a1a1a" stroke-width="1.1" />
<line x1="60" y1="436.5" x2="493" y2="436.5" stroke="#1a1a1a" stroke-width="1.1" />
<line x1="62.6" y1="463" x2="62.6" y2="585.5" stroke="#1a1a1a" stroke-width="1.1" />
<line x1="60" y1="463.3" x2="493" y2="463.3" stroke="#1a1a1a" stroke-width="1.1" />
<line x1="59.6" y1="436" x2="63" y2="436" stroke="#1a1a1a" stroke-width="0.85" />
<line x1="59.2" y1="463.3" x2="62.6" y2="463.3" stroke="#1a1a1a" stroke-width="0.85" />
<line x1="60.4" y1="425.96" x2="63" y2="425.96" stroke="#1a1a1a" stroke-width="0.85" />
<line x1="60" y1="473.16" x2="62.6" y2="473.16" stroke="#1a1a1a" stroke-width="0.85" />
<line x1="60.4" y1="420.09" x2="63" y2="420.09" stroke="#1a1a1a" stroke-width="0.85" />
<line x1="60" y1="478.93" x2="62.6" y2="478.93" stroke="#1a1a1a" stroke-width="0.85" />
<line x1="60.4" y1="415.92" x2="63" y2="415.92" stroke="#1a1a1a" stroke-width="0.85" />
<line x1="60" y1="483.02" x2="62.6" y2="483.02" stroke="#1a1a1a" stroke-width="0.85" />
<line x1="60.4" y1="412.69" x2="63" y2="412.69" stroke="#1a1a1a" stroke-width="0.85" />
<line x1="60" y1="486.19" x2="62.6" y2="486.19" stroke="#1a1a1a" stroke-width="0.85" />
<line x1="60.4" y1="410.05" x2="63" y2="410.05" stroke="#1a1a1a" stroke-width="0.85" />
<line x1="60" y1="488.78" x2="62.6" y2="488.78" stroke="#1a1a1a" stroke-width="0.85" />
<line x1="60.4" y1="407.82" x2="63" y2="407.82" stroke="#1a1a1a" stroke-width="0.85" />
<line x1="60" y1="490.98" x2="62.6" y2="490.98" stroke="#1a1a1a" stroke-width="0.85" />
<line x1="60.4" y1="405.88" x2="63" y2="405.88" stroke="#1a1a1a" stroke-width="0.85" />
<line x1="60" y1="492.88" x2="62.6" y2="492.88" stroke="#1a1a1a" stroke-width="0.85" />
<line x1="60.4" y1="404.18" x2="63" y2="404.18" stroke="#1a1a1a" stroke-width="0.85" />
<line x1="60" y1="494.55" x2="62.6" y2="494.55" stroke="#1a1a1a" stroke-width="0.85" />
<line x1="59.6" y1="402.65" x2="63" y2="402.65" stroke="#1a1a1a" stroke-width="0.85" />
<line x1="59.2" y1="496.05" x2="62.6" y2="496.05" stroke="#1a1a1a" stroke-width="0.85" />
<line x1="60.4" y1="392.61" x2="63" y2="392.61" stroke="#1a1a1a" stroke-width="0.85" />
<line x1="60" y1="505.91" x2="62.6" y2="505.91" stroke="#1a1a1a" stroke-width="0.85" />
<line x1="60.4" y1="386.74" x2="63" y2="386.74" stroke="#1a1a1a" stroke-width="0.85" />
<line x1="60" y1="511.68" x2="62.6" y2="511.68" stroke="#1a1a1a" stroke-width="0.85" />
<line x1="60.4" y1="382.57" x2="63" y2="382.57" stroke="#1a1a1a" stroke-width="0.85" />
<line x1="60" y1="515.77" x2="62.6" y2="515.77" stroke="#1a1a1a" stroke-width="0.85" />
<line x1="59.6" y1="379.34" x2="63" y2="379.34" stroke="#1a1a1a" stroke-width="0.85" />
<line x1="59.2" y1="518.94" x2="62.6" y2="518.94" stroke="#1a1a1a" stroke-width="0.85" />
<line x1="60.4" y1="376.7" x2="63" y2="376.7" stroke="#1a1a1a" stroke-width="0.85" />
<line x1="60" y1="521.53" x2="62.6" y2="521.53" stroke="#1a1a1a" stroke-width="0.85" />
<line x1="60.4" y1="374.47" x2="63" y2="374.47" stroke="#1a1a1a" stroke-width="0.85" />
<line x1="60" y1="523.73" x2="62.6" y2="523.73" stroke="#1a1a1a" stroke-width="0.85" />
<line x1="60.4" y1="372.53" x2="63" y2="372.53" stroke="#1a1a1a" stroke-width="0.85" />
<line x1="60" y1="525.63" x2="62.6" y2="525.63" stroke="#1a1a1a" stroke-width="0.85" />
<line x1="60.4" y1="370.83" x2="63" y2="370.83" stroke="#1a1a1a" stroke-width="0.85" />
<line x1="60" y1="527.3" x2="62.6" y2="527.3" stroke="#1a1a1a" stroke-width="0.85" />
<line x1="59.6" y1="369.3" x2="63" y2="369.3" stroke="#1a1a1a" stroke-width="0.85" />
<line x1="59.2" y1="528.8" x2="62.6" y2="528.8" stroke="#1a1a1a" stroke-width="0.85" />
<line x1="60.4" y1="359.26" x2="63" y2="359.26" stroke="#1a1a1a" stroke-width="0.85" />
<line x1="60" y1="538.66" x2="62.6" y2="538.66" stroke="#1a1a1a" stroke-width="0.85" />
<line x1="60.4" y1="353.39" x2="63" y2="353.39" stroke="#1a1a1a" stroke-width="0.85" />
<line x1="60" y1="544.43" x2="62.6" y2="544.43" stroke="#1a1a1a" stroke-width="0.85" />
<line x1="60.4" y1="349.22" x2="63" y2="349.22" stroke="#1a1a1a" stroke-width="0.85" />
<line x1="60" y1="548.52" x2="62.6" y2="548.52" stroke="#1a1a1a" stroke-width="0.85" />
<line x1="60.4" y1="345.99" x2="63" y2="345.99" stroke="#1a1a1a" stroke-width="0.85" />
<line x1="60" y1="551.69" x2="62.6" y2="551.69" stroke="#1a1a1a" stroke-width="0.85" />
<line x1="60.4" y1="343.35" x2="63" y2="343.35" stroke="#1a1a1a" stroke-width="0.85" />
<line x1="60" y1="554.28" x2="62.6" y2="554.28" stroke="#1a1a1a" stroke-width="0.85" />
<line x1="60.4" y1="341.12" x2="63" y2="341.12" stroke="#1a1a1a" stroke-width="0.85" />
<line x1="60" y1="556.48" x2="62.6" y2="556.48" stroke="#1a1a1a" stroke-width="0.85" />
<line x1="60.4" y1="339.18" x2="63" y2="339.18" stroke="#1a1a1a" stroke-width="0.85" />
<line x1="60" y1="558.38" x2="62.6" y2="558.38" stroke="#1a1a1a" stroke-width="0.85" />
<line x1="60.4" y1="337.48" x2="63" y2="337.48" stroke="#1a1a1a" stroke-width="0.85" />
<line x1="60" y1="560.05" x2="62.6" y2="560.05" stroke="#1a1a1a" stroke-width="0.85" />
<line x1="59.6" y1="335.95" x2="63" y2="335.95" stroke="#1a1a1a" stroke-width="0.85" />
<line x1="59.2" y1="561.55" x2="62.6" y2="561.55" stroke="#1a1a1a" stroke-width="0.85" />
<line x1="60.4" y1="325.91" x2="63" y2="325.91" stroke="#1a1a1a" stroke-width="0.85" />
<line x1="60" y1="571.41" x2="62.6" y2="571.41" stroke="#1a1a1a" stroke-width="0.85" />
<line x1="60.4" y1="320.04" x2="63" y2="320.04" stroke="#1a1a1a" stroke-width="0.85" />
<line x1="60" y1="577.18" x2="62.6" y2="577.18" stroke="#1a1a1a" stroke-width="0.85" />
<line x1="59.6" y1="315.87" x2="63" y2="315.87" stroke="#1a1a1a" stroke-width="0.85" />
<line x1="59.2" y1="581.27" x2="62.6" y2="581.27" stroke="#1a1a1a" stroke-width="0.85" />
<text x="56.4" y="438.5" font-size="7" text-anchor="end" stroke="#333" stroke-width="0.14" >1</text>
<text x="56.4" y="465.8" font-size="7" text-anchor="end" stroke="#333" stroke-width="0.14" >1</text>
<text x="56.4" y="405.15" font-size="7" text-anchor="end" stroke="#333" stroke-width="0.14" >10</text>
<text x="56.4" y="498.55" font-size="7" text-anchor="end" stroke="#333" stroke-width="0.14" >10</text>
<text x="56.4" y="381.84" font-size="7" text-anchor="end" stroke="#333" stroke-width="0.14" >50</text>
<text x="56.4" y="521.44" font-size="7" text-anchor="end" stroke="#333" stroke-width="0.14" >50</text>
<text x="56.4" y="371.8" font-size="7" text-anchor="end" stroke="#333" stroke-width="0.14" >100</text>
<text x="56.4" y="531.3" font-size="7" text-anchor="end" stroke="#333" stroke-width="0.14" >100</text>
<text x="56.4" y="338.45" font-size="7" text-anchor="end" stroke="#333" stroke-width="0.14" >1000</text>
<text x="56.4" y="564.05" font-size="7" text-anchor="end" stroke="#333" stroke-width="0.14" >1000</text>
<text x="56.4" y="318.37" font-size="7" text-anchor="end" stroke="#333" stroke-width="0.14" >4000</text>
<text x="56.4" y="583.77" font-size="7" text-anchor="end" stroke="#333" stroke-width="0.14" >4000</text>
<text x="35.3" y="374.5" font-size="8.8" text-anchor="middle" stroke="#333" stroke-width="0.05" textLength="24.3" lengthAdjust="spacingAndGlyphs" transform="rotate(-90 35.3 374.5)" >Positive</text>
<text x="35.3" y="522.5" font-size="8.8" text-anchor="middle" stroke="#333" stroke-width="0.05" textLength="28.8" lengthAdjust="spacingAndGlyphs" transform="rotate(-90 35.3 522.5)" >Negative</text>
<line x1="86.4" y1="436.5" x2="86.4" y2="439.5" stroke="#1a1a1a" stroke-width="0.8" />
<line x1="86.4" y1="463.3" x2="86.4" y2="460.2" stroke="#1a1a1a" stroke-width="0.8" />
<text transform="translate(88.7 449.4) rotate(-90) scale(0.84 1)" font-size="7.4" text-anchor="middle" stroke="#333" stroke-width="0.14">M</text>
<line x1="95.5" y1="436.5" x2="95.5" y2="439.5" stroke="#1a1a1a" stroke-width="0.8" />
<line x1="95.5" y1="463.3" x2="95.5" y2="460.2" stroke="#1a1a1a" stroke-width="0.8" />
<text transform="translate(97.8 449.4) rotate(-90) scale(0.84 1)" font-size="7.4" text-anchor="middle" stroke="#333" stroke-width="0.14">N</text>
<line x1="104.6" y1="436.5" x2="104.6" y2="439.5" stroke="#1a1a1a" stroke-width="0.8" />
<line x1="104.6" y1="463.3" x2="104.6" y2="460.2" stroke="#1a1a1a" stroke-width="0.8" />
<text transform="translate(106.9 449.4) rotate(-90) scale(0.84 1)" font-size="7.4" text-anchor="middle" stroke="#333" stroke-width="0.14">S</text>
<line x1="113.7" y1="436.5" x2="113.7" y2="439.5" stroke="#1a1a1a" stroke-width="0.8" />
<line x1="113.7" y1="463.3" x2="113.7" y2="460.2" stroke="#1a1a1a" stroke-width="0.8" />
<text transform="translate(116 449.4) rotate(-90) scale(0.84 1)" font-size="7.4" text-anchor="middle" stroke="#333" stroke-width="0.14">s</text>
<line x1="122.8" y1="436.5" x2="122.8" y2="439.5" stroke="#1a1a1a" stroke-width="0.8" />
<line x1="122.8" y1="463.3" x2="122.8" y2="460.2" stroke="#1a1a1a" stroke-width="0.8" />
<text transform="translate(125.1 449.4) rotate(-90) scale(0.84 1)" font-size="7.4" text-anchor="middle" stroke="#333" stroke-width="0.14">U</text>
<line x1="131.9" y1="436.5" x2="131.9" y2="439.5" stroke="#1a1a1a" stroke-width="0.8" />
<line x1="131.9" y1="463.3" x2="131.9" y2="460.2" stroke="#1a1a1a" stroke-width="0.8" />
<text transform="translate(134.2 449.4) rotate(-90) scale(0.84 1)" font-size="7.4" text-anchor="middle" stroke="#333" stroke-width="0.14">D</text>
<line x1="141" y1="436.5" x2="141" y2="439.5" stroke="#1a1a1a" stroke-width="0.8" />
<line x1="141" y1="463.3" x2="141" y2="460.2" stroke="#1a1a1a" stroke-width="0.8" />
<text transform="translate(143.3 449.4) rotate(-90) scale(0.84 1)" font-size="7.4" text-anchor="middle" stroke="#333" stroke-width="0.14">C</text>
<line x1="150.1" y1="436.5" x2="150.1" y2="439.5" stroke="#1a1a1a" stroke-width="0.8" />
<line x1="150.1" y1="463.3" x2="150.1" y2="460.2" stroke="#1a1a1a" stroke-width="0.8" />
<text transform="translate(152.4 449.4) rotate(-90) scale(0.84 1)" font-size="7.4" text-anchor="middle" stroke="#333" stroke-width="0.14">c</text>
<line x1="159.2" y1="436.5" x2="159.2" y2="439.5" stroke="#1a1a1a" stroke-width="0.8" />
<line x1="159.2" y1="463.3" x2="159.2" y2="460.2" stroke="#1a1a1a" stroke-width="0.8" />
<text transform="translate(161.5 449.4) rotate(-90) scale(0.84 1)" font-size="7.4" text-anchor="middle" stroke="#333" stroke-width="0.14">E</text>
<line x1="168.3" y1="436.5" x2="168.3" y2="439.5" stroke="#1a1a1a" stroke-width="0.8" />
<line x1="168.3" y1="463.3" x2="168.3" y2="460.2" stroke="#1a1a1a" stroke-width="0.8" />
<text transform="translate(170.6 449.4) rotate(-90) scale(0.84 1)" font-size="7.4" text-anchor="middle" stroke="#333" stroke-width="0.14">e</text>
<line x1="177.4" y1="436.5" x2="177.4" y2="439.5" stroke="#1a1a1a" stroke-width="0.8" />
<line x1="177.4" y1="463.3" x2="177.4" y2="460.2" stroke="#1a1a1a" stroke-width="0.8" />
<text transform="translate(179.7 449.4) rotate(-90) scale(0.84 1)" font-size="7.4" text-anchor="middle" stroke="#333" stroke-width="0.14">C<tspan font-size="5" dy="-2.6" fill="#666" stroke="#666">w</tspan></text>
<line x1="186.5" y1="436.5" x2="186.5" y2="439.5" stroke="#1a1a1a" stroke-width="0.8" />
<line x1="186.5" y1="463.3" x2="186.5" y2="460.2" stroke="#1a1a1a" stroke-width="0.8" />
<text transform="translate(188.8 449.4) rotate(-90) scale(0.84 1)" font-size="7.4" text-anchor="middle" stroke="#333" stroke-width="0.14">C<tspan font-size="5" dy="-2.6" fill="#666" stroke="#666">x</tspan></text>
<line x1="195.6" y1="436.5" x2="195.6" y2="439.5" stroke="#1a1a1a" stroke-width="0.8" />
<line x1="195.6" y1="463.3" x2="195.6" y2="460.2" stroke="#1a1a1a" stroke-width="0.8" />
<text transform="translate(197.9 449.4) rotate(-90) scale(0.84 1)" font-size="7.4" text-anchor="middle" stroke="#333" stroke-width="0.14">V</text>
<line x1="204.7" y1="436.5" x2="204.7" y2="439.5" stroke="#1a1a1a" stroke-width="0.8" />
<line x1="204.7" y1="463.3" x2="204.7" y2="460.2" stroke="#1a1a1a" stroke-width="0.8" />
<text transform="translate(207 449.4) rotate(-90) scale(0.84 1)" font-size="7.4" text-anchor="middle" stroke="#333" stroke-width="0.14">VS</text>
<line x1="213.8" y1="436.5" x2="213.8" y2="439.5" stroke="#1a1a1a" stroke-width="0.8" />
<line x1="213.8" y1="463.3" x2="213.8" y2="460.2" stroke="#1a1a1a" stroke-width="0.8" />
<text transform="translate(216.1 449.4) rotate(-90) scale(0.84 1)" font-size="7.4" text-anchor="middle" stroke="#333" stroke-width="0.14">Lu<tspan font-size="5" dy="-2.6" fill="#666" stroke="#666">a</tspan></text>
<line x1="222.9" y1="436.5" x2="222.9" y2="439.5" stroke="#1a1a1a" stroke-width="0.8" />
<line x1="222.9" y1="463.3" x2="222.9" y2="460.2" stroke="#1a1a1a" stroke-width="0.8" />
<text transform="translate(225.2 449.4) rotate(-90) scale(0.84 1)" font-size="7.4" text-anchor="middle" stroke="#333" stroke-width="0.14">Lu<tspan font-size="5" dy="-2.6" fill="#666" stroke="#666">b</tspan></text>
<line x1="232" y1="436.5" x2="232" y2="439.5" stroke="#1a1a1a" stroke-width="0.8" />
<line x1="232" y1="463.3" x2="232" y2="460.2" stroke="#1a1a1a" stroke-width="0.8" />
<text transform="translate(234.3 449.4) rotate(-90) scale(0.84 1)" font-size="7.4" text-anchor="middle" stroke="#333" stroke-width="0.14">K</text>
<line x1="241.1" y1="436.5" x2="241.1" y2="439.5" stroke="#1a1a1a" stroke-width="0.8" />
<line x1="241.1" y1="463.3" x2="241.1" y2="460.2" stroke="#1a1a1a" stroke-width="0.8" />
<text transform="translate(243.4 449.4) rotate(-90) scale(0.84 1)" font-size="7.4" text-anchor="middle" stroke="#333" stroke-width="0.14">k</text>
<line x1="250.2" y1="436.5" x2="250.2" y2="439.5" stroke="#1a1a1a" stroke-width="0.8" />
<line x1="250.2" y1="463.3" x2="250.2" y2="460.2" stroke="#1a1a1a" stroke-width="0.8" />
<text transform="translate(252.5 449.4) rotate(-90) scale(0.84 1)" font-size="7.4" text-anchor="middle" stroke="#333" stroke-width="0.14">Kp<tspan font-size="5" dy="-2.6" fill="#666" stroke="#666">a</tspan></text>
<line x1="259.3" y1="436.5" x2="259.3" y2="439.5" stroke="#1a1a1a" stroke-width="0.8" />
<line x1="259.3" y1="463.3" x2="259.3" y2="460.2" stroke="#1a1a1a" stroke-width="0.8" />
<text transform="translate(261.6 449.4) rotate(-90) scale(0.84 1)" font-size="7.4" text-anchor="middle" stroke="#333" stroke-width="0.14">Kp<tspan font-size="5" dy="-2.6" fill="#666" stroke="#666">b</tspan></text>
<line x1="268.4" y1="436.5" x2="268.4" y2="439.5" stroke="#1a1a1a" stroke-width="0.8" />
<line x1="268.4" y1="463.3" x2="268.4" y2="460.2" stroke="#1a1a1a" stroke-width="0.8" />
<text transform="translate(270.7 449.4) rotate(-90) scale(0.84 1)" font-size="7.4" text-anchor="middle" stroke="#333" stroke-width="0.14">Js<tspan font-size="5" dy="-2.6" fill="#666" stroke="#666">a</tspan></text>
<line x1="277.5" y1="436.5" x2="277.5" y2="439.5" stroke="#1a1a1a" stroke-width="0.8" />
<line x1="277.5" y1="463.3" x2="277.5" y2="460.2" stroke="#1a1a1a" stroke-width="0.8" />
<text transform="translate(279.8 449.4) rotate(-90) scale(0.84 1)" font-size="7.4" text-anchor="middle" stroke="#333" stroke-width="0.14">Js<tspan font-size="5" dy="-2.6" fill="#666" stroke="#666">b</tspan></text>
<line x1="286.6" y1="436.5" x2="286.6" y2="439.5" stroke="#1a1a1a" stroke-width="0.8" />
<line x1="286.6" y1="463.3" x2="286.6" y2="460.2" stroke="#1a1a1a" stroke-width="0.8" />
<text transform="translate(288.9 449.4) rotate(-90) scale(0.84 1)" font-size="7.4" text-anchor="middle" stroke="#333" stroke-width="0.14">Fy<tspan font-size="5" dy="-2.6" fill="#666" stroke="#666">a</tspan></text>
<line x1="295.7" y1="436.5" x2="295.7" y2="439.5" stroke="#1a1a1a" stroke-width="0.8" />
<line x1="295.7" y1="463.3" x2="295.7" y2="460.2" stroke="#1a1a1a" stroke-width="0.8" />
<text transform="translate(298 449.4) rotate(-90) scale(0.84 1)" font-size="7.4" text-anchor="middle" stroke="#333" stroke-width="0.14">Fy<tspan font-size="5" dy="-2.6" fill="#666" stroke="#666">b</tspan></text>
<line x1="304.8" y1="436.5" x2="304.8" y2="439.5" stroke="#1a1a1a" stroke-width="0.8" />
<line x1="304.8" y1="463.3" x2="304.8" y2="460.2" stroke="#1a1a1a" stroke-width="0.8" />
<text transform="translate(307.1 449.4) rotate(-90) scale(0.84 1)" font-size="7.4" text-anchor="middle" stroke="#333" stroke-width="0.14">Jk<tspan font-size="5" dy="-2.6" fill="#666" stroke="#666">a</tspan></text>
<line x1="313.9" y1="436.5" x2="313.9" y2="439.5" stroke="#1a1a1a" stroke-width="0.8" />
<line x1="313.9" y1="463.3" x2="313.9" y2="460.2" stroke="#1a1a1a" stroke-width="0.8" />
<text transform="translate(316.2 449.4) rotate(-90) scale(0.84 1)" font-size="7.4" text-anchor="middle" stroke="#333" stroke-width="0.14">Jk<tspan font-size="5" dy="-2.6" fill="#666" stroke="#666">b</tspan></text>
<line x1="323" y1="436.5" x2="323" y2="439.5" stroke="#1a1a1a" stroke-width="0.8" />
<line x1="323" y1="463.3" x2="323" y2="460.2" stroke="#1a1a1a" stroke-width="0.8" />
<text transform="translate(325.3 449.4) rotate(-90) scale(0.84 1)" font-size="7.4" text-anchor="middle" stroke="#333" stroke-width="0.14">Di<tspan font-size="5" dy="-2.6" fill="#666" stroke="#666">a</tspan></text>
<line x1="332.1" y1="436.5" x2="332.1" y2="439.5" stroke="#1a1a1a" stroke-width="0.8" />
<line x1="332.1" y1="463.3" x2="332.1" y2="460.2" stroke="#1a1a1a" stroke-width="0.8" />
<text transform="translate(334.4 449.4) rotate(-90) scale(0.84 1)" font-size="7.4" text-anchor="middle" stroke="#333" stroke-width="0.14">Di<tspan font-size="5" dy="-2.6" fill="#666" stroke="#666">b</tspan></text>
<line x1="341.2" y1="436.5" x2="341.2" y2="439.5" stroke="#1a1a1a" stroke-width="0.8" />
<line x1="341.2" y1="463.3" x2="341.2" y2="460.2" stroke="#1a1a1a" stroke-width="0.8" />
<text transform="translate(343.5 449.4) rotate(-90) scale(0.84 1)" font-size="7.4" text-anchor="middle" stroke="#333" stroke-width="0.14">Wr<tspan font-size="5" dy="-2.6" fill="#666" stroke="#666">a</tspan></text>
<line x1="350.3" y1="436.5" x2="350.3" y2="439.5" stroke="#1a1a1a" stroke-width="0.8" />
<line x1="350.3" y1="463.3" x2="350.3" y2="460.2" stroke="#1a1a1a" stroke-width="0.8" />
<text transform="translate(352.6 449.4) rotate(-90) scale(0.84 1)" font-size="7.4" text-anchor="middle" stroke="#333" stroke-width="0.14">Wr<tspan font-size="5" dy="-2.6" fill="#666" stroke="#666">b</tspan></text>
<line x1="359.4" y1="436.5" x2="359.4" y2="439.5" stroke="#1a1a1a" stroke-width="0.8" />
<line x1="359.4" y1="463.3" x2="359.4" y2="460.2" stroke="#1a1a1a" stroke-width="0.8" />
<text transform="translate(361.7 449.4) rotate(-90) scale(0.84 1)" font-size="7.4" text-anchor="middle" stroke="#333" stroke-width="0.14">Yt<tspan font-size="5" dy="-2.6" fill="#666" stroke="#666">a</tspan></text>
<line x1="368.5" y1="436.5" x2="368.5" y2="439.5" stroke="#1a1a1a" stroke-width="0.8" />
<line x1="368.5" y1="463.3" x2="368.5" y2="460.2" stroke="#1a1a1a" stroke-width="0.8" />
<text transform="translate(370.8 449.4) rotate(-90) scale(0.84 1)" font-size="7.4" text-anchor="middle" stroke="#333" stroke-width="0.14">Yt<tspan font-size="5" dy="-2.6" fill="#666" stroke="#666">b</tspan></text>
<line x1="377.6" y1="436.5" x2="377.6" y2="439.5" stroke="#1a1a1a" stroke-width="0.8" />
<line x1="377.6" y1="463.3" x2="377.6" y2="460.2" stroke="#1a1a1a" stroke-width="0.8" />
<text transform="translate(379.9 449.4) rotate(-90) scale(0.84 1)" font-size="7.4" text-anchor="middle" stroke="#333" stroke-width="0.14">Sc1</text>
<line x1="386.7" y1="436.5" x2="386.7" y2="439.5" stroke="#1a1a1a" stroke-width="0.8" />
<line x1="386.7" y1="463.3" x2="386.7" y2="460.2" stroke="#1a1a1a" stroke-width="0.8" />
<text transform="translate(389 449.4) rotate(-90) scale(0.84 1)" font-size="7.4" text-anchor="middle" stroke="#333" stroke-width="0.14">Sc2</text>
<line x1="395.8" y1="436.5" x2="395.8" y2="439.5" stroke="#1a1a1a" stroke-width="0.8" />
<line x1="395.8" y1="463.3" x2="395.8" y2="460.2" stroke="#1a1a1a" stroke-width="0.8" />
<text transform="translate(398.1 449.4) rotate(-90) scale(0.84 1)" font-size="7.4" text-anchor="middle" stroke="#333" stroke-width="0.14">Do<tspan font-size="5" dy="-2.6" fill="#666" stroke="#666">a</tspan></text>
<line x1="404.9" y1="436.5" x2="404.9" y2="439.5" stroke="#1a1a1a" stroke-width="0.8" />
<line x1="404.9" y1="463.3" x2="404.9" y2="460.2" stroke="#1a1a1a" stroke-width="0.8" />
<text transform="translate(407.2 449.4) rotate(-90) scale(0.84 1)" font-size="7.4" text-anchor="middle" stroke="#333" stroke-width="0.14">Do<tspan font-size="5" dy="-2.6" fill="#666" stroke="#666">b</tspan></text>
<line x1="414" y1="436.5" x2="414" y2="439.5" stroke="#1a1a1a" stroke-width="0.8" />
<line x1="414" y1="463.3" x2="414" y2="460.2" stroke="#1a1a1a" stroke-width="0.8" />
<text transform="translate(416.3 449.4) rotate(-90) scale(0.84 1)" font-size="7.4" text-anchor="middle" stroke="#333" stroke-width="0.14">Hy</text>
<line x1="423.1" y1="436.5" x2="423.1" y2="439.5" stroke="#1a1a1a" stroke-width="0.8" />
<line x1="423.1" y1="463.3" x2="423.1" y2="460.2" stroke="#1a1a1a" stroke-width="0.8" />
<text transform="translate(425.4 449.4) rotate(-90) scale(0.84 1)" font-size="7.4" text-anchor="middle" stroke="#333" stroke-width="0.14">Jo<tspan font-size="5" dy="-2.6" fill="#666" stroke="#666">a</tspan></text>
<line x1="432.2" y1="436.5" x2="432.2" y2="439.5" stroke="#1a1a1a" stroke-width="0.8" />
<line x1="432.2" y1="463.3" x2="432.2" y2="460.2" stroke="#1a1a1a" stroke-width="0.8" />
<text transform="translate(434.5 449.4) rotate(-90) scale(0.84 1)" font-size="7.4" text-anchor="middle" stroke="#333" stroke-width="0.14">Co<tspan font-size="5" dy="-2.6" fill="#666" stroke="#666">a</tspan></text>
<line x1="441.3" y1="436.5" x2="441.3" y2="439.5" stroke="#1a1a1a" stroke-width="0.8" />
<line x1="441.3" y1="463.3" x2="441.3" y2="460.2" stroke="#1a1a1a" stroke-width="0.8" />
<text transform="translate(443.6 449.4) rotate(-90) scale(0.84 1)" font-size="7.4" text-anchor="middle" stroke="#333" stroke-width="0.14">Co<tspan font-size="5" dy="-2.6" fill="#666" stroke="#666">b</tspan></text>
<line x1="450.4" y1="436.5" x2="450.4" y2="439.5" stroke="#1a1a1a" stroke-width="0.8" />
<line x1="450.4" y1="463.3" x2="450.4" y2="460.2" stroke="#1a1a1a" stroke-width="0.8" />
<text transform="translate(452.7 449.4) rotate(-90) scale(0.84 1)" font-size="7.4" text-anchor="middle" stroke="#333" stroke-width="0.14">LW<tspan font-size="5" dy="-2.6" fill="#666" stroke="#666">a</tspan></text>
<line x1="459.5" y1="436.5" x2="459.5" y2="439.5" stroke="#1a1a1a" stroke-width="0.8" />
<line x1="459.5" y1="463.3" x2="459.5" y2="460.2" stroke="#1a1a1a" stroke-width="0.8" />
<text transform="translate(461.8 449.4) rotate(-90) scale(0.84 1)" font-size="7.4" text-anchor="middle" stroke="#333" stroke-width="0.14">LW<tspan font-size="5" dy="-2.6" fill="#666" stroke="#666">b</tspan></text>
<line x1="468.6" y1="436.5" x2="468.6" y2="439.5" stroke="#1a1a1a" stroke-width="0.8" />
<line x1="468.6" y1="463.3" x2="468.6" y2="460.2" stroke="#1a1a1a" stroke-width="0.8" />
<text transform="translate(470.9 449.4) rotate(-90) scale(0.84 1)" font-size="7.4" text-anchor="middle" stroke="#333" stroke-width="0.14">Cr<tspan font-size="5" dy="-2.6" fill="#666" stroke="#666">a</tspan></text>
<line x1="477.7" y1="436.5" x2="477.7" y2="439.5" stroke="#1a1a1a" stroke-width="0.8" />
<line x1="477.7" y1="463.3" x2="477.7" y2="460.2" stroke="#1a1a1a" stroke-width="0.8" />
<text transform="translate(480 449.4) rotate(-90) scale(0.84 1)" font-size="7.4" text-anchor="middle" stroke="#333" stroke-width="0.14">Vel</text>
<g fill="#e2e2e2"><rect x="0" y="1" width="520" height="1"/><rect x="1" y="0" width="1" height="593"/><rect x="518" y="0" width="1" height="593"/><rect x="0" y="591" width="520" height="1"/></g>
<g fill="#4c4c4c"><rect x="0" y="0" width="520" height="1"/><rect x="0" y="0" width="1" height="593"/><rect x="519" y="0" width="1" height="593"/><rect x="0" y="592" width="520" height="1"/></g>
</svg>
</body></html>
